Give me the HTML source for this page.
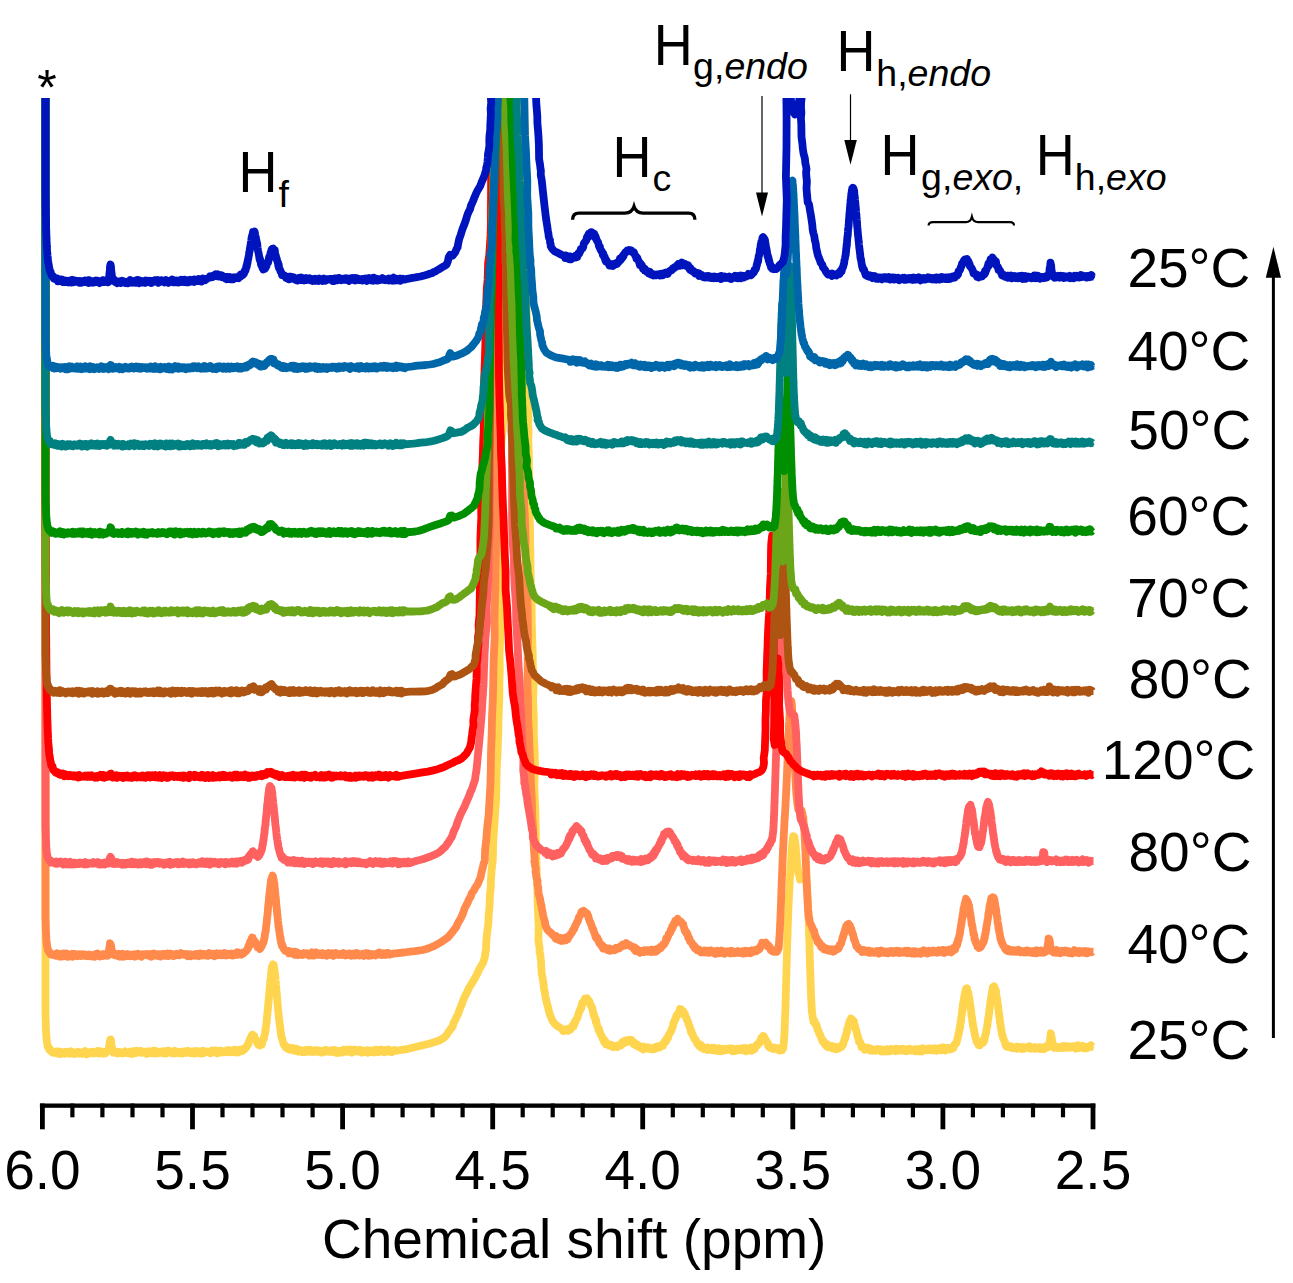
<!DOCTYPE html>
<html><head><meta charset="utf-8"><title>NMR</title>
<style>html,body{margin:0;padding:0;background:#fff;overflow:hidden}svg{display:block}
text{font-family:"Liberation Sans",sans-serif;fill:#000}</style></head>
<body><svg width="1293" height="1283" viewBox="0 0 1293 1283">
<rect width="1293" height="1283" fill="#fff"/>
<defs><clipPath id="cp"><rect x="0" y="98.0" width="1293" height="1185.0"/></clipPath></defs>
<g clip-path="url(#cp)" fill="none" stroke-width="7.8" stroke-linejoin="round" stroke-linecap="butt">
<path d="M45.5 78.0l0 937.4 .1 1.5 0 1.4 .1 2 0 1.2 .1 2.2 0 2.3 0-.1 .1 1.1 0 1.9 .1 1 0 .7 .1 1 .1 2.3 0 1.9 .1-.3 .1 1.8 .1-.1 .2 2.2 .1 1.1 .2 2.4 .2 .7 .3 2.3 .3 .9 .2 .5 .5-.4 .5 2.1 .5 1 .5 .6 .5-.9 .5 1.1 .5-.1 .5 .3 .5 1.6 .5-1.3 .5 .7 .5 .8 .5-1.1 .5 .5 .5 .2 .5 0 .5-.9 .5 1 .5 1 .5-2.1 .5 1.8 .5-.5 .5-.6 .5 2 .5-.9 .5-1.5 .5 1 .5 .4 .5-.6 .5 .7 .5-.5 .5 .5 .5 .6 .5-1.6 .5 .7 .5-.5 .5 .4 .5-.9 .5 .4 .5 .3 .5 .8 .5 .2 .5-1.8 .5 .4 .5 1.1 .5-2 .5 1.1 .5 .3 .5 1 .5-.4 .5-.8 .5 0 .5 .1 .5 1.3 .5-1.4 .5 .1 .5 .4 .5-.3 .5-.1 .5-.7 .5 .9 .5-.4 .5 1.2 .5-.3 .5-.5 .5 .5 .5-.8 .5 1.1 .5-.8 .5 .4 .5-1.4 .5 1.2 .5-1.5 .5-.3 .5 1.3 .5-.4 .5 .8 .5 1.5 .5-2.3 .5 .2 .5 .6 .5 .2 .5-.5 .5 0 .5 .7 .5-.2 .5-1.2 .5 .8 .5 0 .5-.8 .5 1 .5-.8 .5 1.3 .5-.6 .5 0 .5-.6 .5 .4 .5-1.4 .5 .6 .5 1.1 .5-1.8 .5 2.2 .5-2 .5 1.9 .5-1.2 .5 1.2 .5-.5 .5-1.2 .5 2 .5 .2 .5-1.2 .5-.2 .5 .1 .5-.6 .5 1.5 .5-1.3 .5 .3 .5-.7 .5-.1 .5-1.2 .5 .6 .3-2.2 .2-.5 .2-1.8 .1-1.7 .2-1 .2-1.3 .1-.7 .2-1.3 .5-.9 .3-.1 .2 1.9 .2 2.9 .1-.5 .2 .9 .2 2.2 .1 1.9 .2-1.2 .2 2.1 .3 .5 .5 .2 .5 2.3 .5-.4 .5 .2 .5-.6 .5 .9 .5-.7 .5 .4 .5-.8 .5 0 .5 1.9 .5-1.4 .5 .6 .5-.2 .5-.3 .5-.1 .5 .9 .5-.7 .5 .1 .5 .1 .5 .9 .5-.4 .5-.2 .5-.7 .5-.6 .5 1.7 .5 0 .5-.8 .5 .5 .5 .2 .5 0 .5 .1 .5-1 .5 1.4 .5-2 .5 1.6 .5-.3 .5 .3 .5 .7 .5-.3 .5-2 .5-.4 .5 1.9 .5-1.4 .5 .8 .5 .6 .5-1.9 .5-.3 .5 1.8 .5-.2 .5-.2 .5 .2 .5-.7 .5-.5 .5 1 .5-.6 .5-.5 .5 1.6 .5-.4 .5 .3 .5-1 .5 .2 .5-.2 .5 .1 .5 .8 .5-.8 .5 .9 .5 0 .5 1.2 .5-2.5 .5 1.7 .5-.8 .5 .1 .5-1.1 .5 .7 .5 .9 .5-.6 .5 .1 .5-.2 .5 1 .5-.8 .5-1.7 .5 1.1 .5-.9 .5-.2 .5 1.3 .5 1.4 .5-1 .5-.9 .5 .1 .5 1.6 .5-.7 .5-.1 .5-.1 .5 .1 .5 .5 .5-.2 .5-.2 .5-1 .5 1.2 .5-.9 .5 1.3 .5-1.8 .5 .9 .5 .1 .5-1 .5 2.3 .5-.2 .5-1.5 .5 .9 .5-.3 .5-1.9 .5 1.8 .5-.2 .5 .1 .5-.9 .5 .6 .5 .1 .5 1 .5-.6 .5-.3 .5 1.2 .5-1.6 .5 .1 .5-1 .5 2.5 .5-.5 .5 0 .5-.2 .5-.4 .5 .1 .5-.4 .5 0 .5 .2 .5 1.1 .5-.7 .5-.5 .5-.4 .5 0 .5 1.7 .5-.9 .5-.3 .5-.3 .5-.6 .5 .8 .5 .7 .5-1 .5 .1 .5 0 .5 .3 .5-1.3 .5 1 .5-.4 .5 1.3 .5-1.3 .5 1 .5 .7 .5-1.4 .5-.2 .5 .6 .5-.1 .5-.8 .5 1.1 .5 1.2 .5-1.8 .5 .1 .5-.7 .5 1.1 .5-1.2 .5 .1 .5 1.8 .5-1.7 .5 1.5 .5 .3 .5-.9 .5 .2 .5 1 .5-1.6 .5-.3 .5-.6 .5 1.1 .5 1.1 .5-.4 .5-1.5 .5 .1 .5 .2 .5 .6 .5-.3 .5 .3 .5 0 .5-.4 .5 .2 .5 .1 .5-.2 .5 .4 .5 1.1 .5-1 .5-.4 .5-1.3 .5 1.5 .5-1.7 .5 .4 .5 1.6 .5-.1 .5-.6 .5-1.2 .5 1 .5-.3 .5 1 .5 1.2 .5-1.5 .5-.8 .5-.3 .5 .9 .5-.1 .5-.8 .5 1 .5-1 .5 1.7 .5-.1 .5 0 .5-1.1 .5 .7 .5-.5 .5-.2 .5 0 .5-.7 .5-.2 .5 1.7 .5-.8 .5 .3 .5 .6 .5-2.1 .5 .7 .5 .7 .5 .2 .5-.6 .5 1 .5-.6 .5-1.1 .5 .2 .5 1.2 .5-.2 .5-1.8 .5 2.4 .5-.6 .5 .5 .5-1.3 .5 0 .5-.7 .5 2.5 .5-1.9 .5 1.3 .5-1.7 .5 .5 .5-1.4 .5 .9 .5 .9 .5-1.8 .5 1.6 .5-.7 .5-1.2 .5 .2 .5-.3 .5 0 .5-.8 .5-.8 .5-.3 .5-1.3 .5-1 .5-.1 .5-.4 .5-3 .5-.2 .5-1.8 .5-1.5 .5 .2 .5-2.1 .5 .8 .5-2.1 .5 .8 .5-.1 .5 .2 .5 1.9 .5 .5 .5 1.6 .5 .7 .5 .3 .5 1.7 .5 .9 .5 1.4 .5-.8 .5 1.1 .5-1.1 .5 1.9 .5-1.4 .5-.9 .5 .8 .5 .2 .5-2.9 .5-.9 .2-.5 .3-1.1 .3 .3 .2-1.9 .2-1 .3-.2 .3-2.2 .2-.5 .2-2.1 .1-1.2 .2-1.5 .2 1.7 .1-2.9 .2-.8 .2-1.5 .1-1.1 .2-1.5 .2 0 .1-3.7 .2-2 .1-.7 .1-1.5 .2 .4 .1-1.3 .1-2.6 .2-1.6 .1-.5 .1-.1 .1-4 .1 .6 .2-2.6 .1 .2 .1-3 .2-.9 .1-2.3 .1-1.1 .1 .3 .1-1.8 .2-2.4 .1-1.8 .1-2.2 .2-.4 .1-1.1 .1-1.5 .1-1.4 .1-2.1 .2-.6 .1-1.3 .1-.3 .2-.8 .1-2.7 .1-1.7 .2-.9 .1-1.8 .2-1.4 .2-.7 .1-1.8 .2 .3 .2-1.7 .3-.6 .5-1 .5 .3 .3 .7 .2 1.7 .2 .7 .1 1.6 .2 1.1 .2 .2 .1 2.5 .2 .5 .1 1.7 .1 1.4 .2 0 .1 2.9 .1 1.4 .2 1.1 .1 1.2 .1 1.4 .1 1 .1 1.9 .2 1.3 .1 1.9 .1 .5 .2 2.5 .1 1.4 .1 1.3 .1 1.2 .1 2.2 .2-.2 .1 3 .1 1.3 .2 1.4 .1 1.5 .1 .6 .1 1.6 .1 2 .2 1.2 .1 1.1 .1 0 .2 2.7 .1 1.7 .1 1.1 .2 1 .1 .1 .2 3.3 .2 .6 .1-.2 .2 3.2 .2-.1 .1 1.3 .2 1.6 .2 2.6 .1-.2 .2 1.4 .2 2.5 .3 1.2 .3-.1 .2 1 .2 .3 .3 1.3 .3 1.7 .2 .7 .5 1.2 .5 1.7 .5-.4 .5 1.3 .5 1.2 .5 .4 .5 .7 .5-.1 .5-.3 .5 .8 .5-.8 .5-.3 .5 1.8 .5-.3 .5 .4 .5-1.4 .5 1.1 .5-.1 .5-.1 .5-.9 .5 1.5 .5 1 .5-.3 .5-.7 .5 .5 .5 .6 .5-2.1 .5 1.6 .5 .5 .5 .2 .5 .8 .5-.4 .5-.6 .5 0 .5 .4 .5-.9 .5 .4 .5 .7 .5 .8 .5-1.5 .5 .1 .5 .2 .5 .9 .5-1 .5 1.1 .5-1.8 .5 .6 .5 0 .5 .8 .5 .2 .5-1.9 .5 .4 .5 1 .5-.8 .5-.6 .5 1.9 .5-.4 .5 .1 .5-.8 .5 1.2 .5-1 .5 1 .5-1.5 .5 .1 .5 .8 .5-.7 .5 1.1 .5-.3 .5-.9 .5 .7 .5-.3 .5 1 .5-1.2 .5 .2 .5 1.2 .5 .7 .5-.1 .5-1.4 .5 .1 .5 1 .5-1.3 .5-.6 .5 .8 .5 .3 .5-1 .5-.6 .5 .2 .5 1.5 .5-1 .5 .4 .5 .3 .5 .3 .5-.7 .5 .6 .5-1 .5 .4 .5-.5 .5 1.6 .5-.9 .5-.5 .5 .3 .5 .1 .5 .7 .5-1.7 .5 .4 .5 .5 .5 1.9 .5-.9 .5-.8 .5 .6 .5 1 .5-1.7 .5-.1 .5 1.2 .5-.6 .5 .2 .5-.9 .5 1.8 .5-.2 .5-.8 .5 .1 .5-2.1 .5 2 .5-.6 .5 .5 .5 .2 .5-.8 .5-1 .5 1.5 .5-.8 .5 .3 .5-.2 .5 .2 .5-1.4 .5 2.5 .5-.7 .5 .7 .5 .6 .5-1.5 .5-1.3 .5 .7 .5-.3 .5 .5 .5 .5 .5-1.6 .5 1.8 .5-1.4 .5 1.3 .5-.3 .5-.1 .5 .2 .5-.4 .5 0 .5-.8 .5 1.2 .5 1.4 .5 .1 .5-.5 .5-.4 .5-1.1 .5 1.6 .5-1.1 .5 0 .5-.2 .5 .3 .5-.4 .5 .3 .5-.8 .5 .5 .5 2 .5-1.7 .5-.2 .5 .6 .5 .2 .5-1.4 .5 .7 .5 .8 .5-.5 .5-.1 .5 1.1 .5-1.7 .5 .6 .5-.5 .5 1.5 .5-2.5 .5 .9 .5 .1 .5 .9 .5 0 .5 .6 .5-2.3 .5 1.8 .5-.8 .5-.3 .5 .9 .5-1.1 .5-.8 .5 1.2 .5-.8 .5 .6 .5 .8 .5-.1 .5 1 .5-1.3 .5-1 .5 .5 .5-.1 .5-.2 .5 1.2 .5-.8 .5-1 .5 2 .5-.6 .5 .4 .5-.2 .5 .4 .5-.5 .5 .9 .5-.6 .5 0 .5 0 .5-1.4 .5 1 .5-.1 3.4-.4 2.8-.6 4-.5 3.2-.7 3.8-1 5.1-1.2 6.4-1.4 6.2-1.6 5.6-1.7 4.8-1.8 3-1.9 2.6-2.1 1.4-2.2 1.6-2.3 1.8-2.5 2.1-2.7 .6-2.9 1.6-3 1.3-3.1 1.9-3.3 1-3.4 1.5-3.7 1.5-3.7 1.3-3.8 1.7-3.7 2-3.7 1.6-3.8 2.3-3.7 2.4-3.8 2.1-3.7 1.9-3.7 1.5-3.7 2.2-3.6 2-3.7 1.2-3.7 .7-3.3 .3-2.9 .7-3.1 0-4 .3-5.3 .7-7.1 1.2-8.6 .4-9.3 .9-9.7 .3-9.3 .9-8.8 .2-8.5 .6-8.8 1.2-9.5 .2-10.4 .4-11.5 .9-12.2 .8-12.9 1-13.8 .3-14.6 .3-15.8 .9-17.1 .6-17.6 .4-17.6 .7-16.9 .1-15.9 .4-15.5 -.3-15.2 .6-15.5 .4-15.9 -.3-16.6 -.1-16.9 -.1-17.2 .4-17.2 -.6-17.1 .3-17.7 .2-18.3 .3-18 -.1-16.7 .6-14.3 .3-10.2 .8-6.9 .6-6 .4-7.7 .8-12.2 .6-17.7 -.1-21.6 .4-23.6 .5-23.8 -.2-22.3 .7-20.5 0-20.1 .8-19.7 .6-19.7 .2-20 -.3-21.6 .5-23 0-22.4 .2-19.8 .5-15.2 -.9-9.6 .1-5.3 -.7-2.5 .4-1.2 .7-1.4 2.3 0 3.8 0 4.1 0 3.4 0 2.5 0 .8 1.4 -.4 1.2 .4 2.5 -.6 5.3 -.3 9.6 .2 15.2 .6 19.8 -.1 22.4 .3 23 .5 21.6 .5 20 -.4 19.7 .8 19.7 -.3 20.1 .1 20.5 .9 22.5 0 24.2 0 23.9 .6 21.4 .5 17 .2 10.2 -.3 5 .3 2.9 .1 4.2 -.2 8.7 .5 14.2 .2 17.5 .2 19.3 .3 19.9 .5 19.1 .3 18.5 .2 18.8 .4 18.8 .7 18.4 .2 17.5 .4 16.4 .5 15.5 .1 15.1 .8 15.2 -.5 15.8 .7 16.9 0 17.6 .9 17.6 .2 17.1 -.6 15.8 .5 13.9 .6 12.3 .2 12 .2 12.5 .2 14.3 .6 17.5 .7 20.1 .5 20.3 .9 18.3 -.3 13.8 1.2 8.3 0 4.3 .8 2 0 1.4 .2 2.6 .6 3.7 0 3.7 .3 3.6 .1 3.7 .8 3.7 .6 3.7 .6 3.8 .3 3.7 .9 3.8 .4 3.7 .8 3.8 1 4 1.1 3.8 .7 3.6 .9 3.1 .9 2.5 1 2.1 .6 1.8 1.4 1.6 .8 1.5 1.5 1.4 1.2 1.1 1.9 1 1.6 1 1.3 1 .6 .6 .5 1.4 .5-.4 .5-1 .5 .4 .5 .8 .5-.2 .5 .1 .5-.2 .5-1.1 .5 1.1 .5-1.6 .5 1.8 .5-1.1 .5-.2 .5 0 .5 0 .5-1.8 .5-.7 .5-.1 .5-1.4 .5 .1 .5 1.1 .5-2.9 .5 .3 .5-2.5 .5 .2 .5-1.6 .5-1 .5-.7 .5-.4 .5-2.5 .5-1.4 .5-2.1 .5-.2 .5-2 .5-.5 .5-2 .5 .1 .5-4 .5 .1 .5-.2 .5-1.8 .5-1.2 .5-.3 .5-1.4 .5 .7 .5 1.4 .5-.9 .5-1.6 .5 .5 .5 .8 .5 1.7 .5-.5 .5 1 .5 2.3 .5 1.1 .5 .4 .5 .9 .5 1.1 .2 1.4 .3-.3 .3 3 .2-.3 .2 1.7 .3 1.8 .3 .3 .2-.9 .2 2.3 .3 1.1 .3-.6 .2 .6 .2 1.5 .3-.3 .3 3.1 .2-2 .2 1.7 .3 1.4 .3 .8 .2 1 .5 1.6 .5 1.1 .5 2.4 .5-1.1 .5 2.9 .5 .7 .5 1.7 .5 1.2 .5 .2 .5 1.1 .5 2 .5 .5 .5 0 .5 2.8 .5 .8 .5-2.2 .5 1.9 .5 2 .5-.6 .5 0 .5 0 .5 .1 .5 .6 .5 0 .5 1.3 .5-.7 .5 .2 .5-.4 .5 1 .5-.5 .5 .7 .5 1 .5-.5 .5 .2 .5-.1 .5-.2 .5-.2 .5-.2 .5 .8 .5-1.5 .5 1.7 .5-1.1 .5-.7 .5 0 .5-.4 .5 .4 .5-.9 .5 1.1 .5-1.8 .5-1.4 .5 .7 .5-1.3 .5 1.1 .5 .4 .5-.7 .5-1.8 .5 0 .5 1.6 .5-1.4 .5-.5 .5 .6 .5 .7 .5-.8 .5-.9 .5 .3 .5 .3 .5-.7 .5-.1 .5 1.1 .5-.4 .5 1.1 .5 .5 .5 2.1 .5-1.9 .5 1 .5 .4 .5 .9 .5 .8 .5-.7 .5 .1 .5-.2 .5 .8 .5 1.4 .5-.1 .5-.5 .5 .7 .5 .5 .5 .6 .5-.7 .5 .4 .5-1 .5 .6 .5 2.2 .5-2.8 .5 1.4 .5 .5 .5-.4 .5-.3 .5 .6 .5 .1 .5-.1 .5-1.3 .5 1.3 .5-.5 .5 .2 .5 .6 .5 .3 .5 .2 .5-1.1 .5 1 .5 .2 .5-.1 .5 .1 .5-1.2 .5-.1 .5 .7 .5-1.7 .5 1.1 .5-.7 .5 0 .5-1.2 .5 .5 .5 .5 .5 .4 .5-.1 .5-1.1 .5-.3 .5-.8 .5 .6 .5-.9 .5 .2 .5 .4 .5-1.8 .5-1.7 .5-.1 .5-1.1 .5-.5 .5 1.1 .5-1.6 .5-2.1 .5 .7 .5-.5 .5-2.3 .5-1.3 .5-.8 .5-.7 .5-1 .5-.8 .5-1.3 .5-1.3 .5-1.2 .5-1.9 .5-3 .5-.3 .5-1 .5-1.8 .5-.3 .5-2.2 .5-1.6 .5 .7 .5-1.6 .5-1.2 .5-.3 .5-.5 .5-1.1 .5-2.3 .5 .9 .5 .1 .5-.3 .5 1.1 .5 1.2 .5-.8 .5 .2 .5 3.2 .5-1 .5 .5 .5 2.2 .5 1.3 .5 .4 .5 2.4 .5 .3 .5 1 .5 2.2 .5 1.8 .5 .3 .5 2.1 .5 1 .5 3 .5-1 .5 2.8 .5 .1 .5 1.1 .5 1.7 .5 1.1 .5 1.3 .5 .2 .5 .2 .5 .8 .5 1.6 .5 .7 .5 1.3 .5-.1 .5 1 .5 .9 .5-.6 .5-.8 .5 .6 .5 .2 .5 2.6 .5-1.6 .5 1.9 .5-.3 .5 1.1 .5-.4 .5-.6 .5 .1 .5 .3 .5 .2 .5-.4 .5 .5 .5 1.3 .5-2.4 .5 1.5 .5-.8 .5 .9 .5 .6 .5-.6 .5 .6 .5-1.7 .5 2.1 .5-1.3 .5 1 .5-.3 .5-1.8 .5 1.1 .5 .8 .5 1 .5-.9 .5 0 .5-1.2 .5 2.1 .5 .3 .5-1.3 .5-.2 .5-1 .5 1.9 .5 1 .5-1.1 .5 .4 .5-.5 .5-1.1 .5 1.7 .5-1.9 .5 .8 .5 .3 .5 .5 .5-.3 .5 0 .5-.9 .5-.4 .5 1 .5-.5 .5-.5 .5 .1 .5 .5 .5-1 .5 .4 .5-.2 .5 1.4 .5 .1 .5 1.2 .5-2.6 .5 .6 .5 1.2 .5-.8 .5-.1 .5 1.5 .5-1.5 .5-.6 .5-.2 .5 1.3 .5-.1 .5-1.2 .5 .3 .5 1.1 .5 0 .5-.9 .5 .9 .5 0 .5-1.8 .5 1.1 .5 .6 .5-.8 .5-1.2 .5 1.4 .5 .7 .5 .6 .5-2.8 .5 3.3 .5-2.6 .5 1.6 .5 .1 .5-.2 .5-.6 .5-1.1 .5 1.3 .5-1 .5-1.2 .5 3.2 .5-1.2 .5 .7 .5-2.2 .5 1.6 .5-.2 .5-.3 .5-1.5 .5-1.2 .5 .3 .5-2 .5-.3 .5 .7 .5-1.6 .5-.2 .5-.8 .5 .6 .5-1.5 .5-1.9 .5 0 .5-2.2 .5-.3 .5 .5 .5-1.7 .5 .8 .5-.4 .5 1.7 .5 1.9 .5-.9 .5 1.7 .5 .1 .5 .7 .5 .8 .5 2.9 .5 1.3 .5-.7 .5-.3 .5 1.6 .5-.3 .5 1.2 .5-.1 .5 .3 .5 .4 .5-.7 .5 .3 .5-.9 .5 1 .5-.6 .5 1 .5-.6 .5 .8 .5 .3 .5-1.3 .5 .4 .5-.1 .5 1.3 .5 .7 .5-.6 .5-.9 .5 1.4 .5-2.3 .5 2.2 .5-2 .5-2.1 .2 2.3 .3-2 .1-2.9 .2-.2 .1-1.6 .1-1.3 .1-2.3 .1-.6 0-.5 .1-1.6 .1-.7 .1-2.5 .1 .3 0-3.5 .1-.7 .1-3.1 0-1 .1 .4 0-3.4 .1-.5 0-1.7 .1-2 0-.8 .1-1.5 0-1.3 .1-.5 0-1.4 .1-2.4 0-1.7 .1-.5 0-1.8 0-.6 .1-.5 0-2.4 .1-2.1 0-1.5 .1-2 0-1.5 0-1.5 .1-1 0-1.5 .1-.6 0-2.4 0-1.2 .1-2.2 0 .8 .1-2.3 0-.4 0-2.2 .1-.9 0-2.7 0-.7 .1-.3 0-3.9 .1 .3 0-1 0-2.4 .1-1.3 0-1.1 .1-3 0-.7 .1-2.5 0-1.3 0-1.4 .1-1.2 0-1.2 .1-1.2 0-2.9 0 1.1 .1-2 0-1.8 .1-2.2 0-1.2 0-.9 .1-1.5 0-3 .1 .5 0-.2 .1-4.5 0 .9 .1-2 0-2 0-.4 .1-3.4 .1-.5 0-.5 0-2.7 .1-1.6 .1-1 0-1.9 .1 0 0-3.4 .1-.1 0-3.1 .1 .1 0-2.1 .1-2.9 0 .2 .1-2.1 .1-1.1 0 .1 .1-3.5 .1-1.4 0 .5 .1-2.4 0-.3 .1-2.2 .1-2.5 0-.8 .1-.5 .1-1.6 .1-2.2 0-1.3 .1-1.5 .1-1.7 0 .6 .1-2.8 .1-2.2 .1-.8 0-.3 .1-1.3 .1-2.1 .1-1.8 0-.9 .1-2.7 .1-1.1 .1 .3 .1-2.3 .1-.7 .1-.7 0-1.7 .1-1.7 .1 .3 .1-2.6 .1-2.2 .1-.6 .1-1.7 .1-2.3 .1-.6 .1-1.5 .1-2.7 .1 .2 .1-1.3 .1-1.5 .1-2.2 .2-.3 .1-.9 .2-1.3 .1-2.1 .2 .3 .2-2.6 .3 .1 .5 1.1 .2-.9 .3 1.3 .2 2.2 .1-.1 .2 1.4 .2 1.8 .1 2.1 .2-.9 .1 2.3 .2 1.1 .1 1.3 .1 1.5 .1 1.4 .1 2.2 .2 .4 .1 2.1 .1 1.6 .2 .4 .1 2 .1 2.4 .1 .2 .1 .4 .2 1.6 .1 .4 .2 2.3 .1 1.8 .2-.1 .2 1.6 .1 2 .2-.3 .3 1.7 .2 .1 .2 1 .3 .9 .5 2.9 .5-1.5 .5 0 .5-.3 .5-.1 .5 .1 .5-.8 .5 .9 .5-1.7 .5 .9 .5-.4 .5 1.3 .3-.6 .2 2.2 .2 1.1 .1 1 .2-.1 .1 3.4 .2 .3 .1 1.3 .1 1.6 .1 1.3 .1 1.8 .1 .2 .1 1.8 .1 2.5 .1 1.1 0 .9 .1 1.2 .1 1.2 .1 2 0 2.4 .1-.2 .1 3.1 0 .8 .1 .3 0 2.2 .1-.3 0 1.1 .1 1.8 0 2 .1 1.5 .1 1.2 0 1.8 0-.3 .1 3.4 .1 0 0 2 0 1.6 .1 1 .1 1.3 0 1.8 0 2.1 .1 1.9 0 1.4 .1 .2 0 1.6 .1 1.4 0 2.4 .1-.4 0 4 .1 .2 0 1.2 0 2.2 .1 1.9 0 .9 .1 1.9 0 .7 .1 2.2 0 1.4 0 .4 .1 2.5 0 .4 .1 1.4 0 .6 0 2 .1 2.2 .1 2.9 0 1.2 .1 1.4 0-.4 .1 3 0 2 .1 .3 0 2.1 .1-.3 0 3.7 0 .4 .1 2.6 .1-.6 0 3.3 0 .6 .1 2.2 .1 0 0 1.5 .1 3.6 0-.8 .1 1.6 0 1.7 .1 .8 .1 2.9 0 1.7 .1-.7 .1 .7 .1 3.6 .1 1.3 0 .9 .1 1.4 .1-.5 .2 2.3 .1 .6 .2 1.2 .3 3.1 .2-.3 .5 3.3 .5-.9 .5 .2 .5 1.9 .5 1.8 .5 .2 .5 0 .5 2.5 .5 2.2 .5 0 .5 1.2 .5 2.7 .5 .6 .5 .3 .5 1.8 .5 .8 .5 1.9 .5 .8 .5 1.7 .5 .5 .5-.9 .5 2.2 .5 1 .5 .2 .5 .9 .5-.7 .5 .1 .5 1.8 .5-1.2 .5-.5 .5 2.6 .5-1.1 .5 .5 .5-.6 .5 .2 .5 .2 .5 .8 .5 .6 .5-1.8 .5 2.2 .5-1.3 .5 .1 .5 1.3 .5-.5 .5-1.1 .5 2.5 .5-2 .5 .8 .5-.1 .5 .8 .5-1.5 .5 .9 .5-1.5 .5 1.1 .5-1.8 .5-.1 .5 1.1 .5-1.8 .5-.9 .5 .7 .5-2.4 .5-2 .5-.2 .5-2.8 .2 .9 .3-.7 .3-2.2 .2-.9 .2-.2 .3-1.1 .3-1.6 .2 .2 .2-2.9 .3 .2 .3-.9 .2-.8 .2-.5 .3-2.1 .3 .5 .2-1.5 .2-1.1 .3-1.4 .5-1.2 .5 .1 .5-1.8 .5 .3 .5 .8 .5 .3 .5 1.1 .5-.3 .5 .8 .2 2.3 .3 .3 .3 1.5 .2 0 .2 1.8 .3 .7 .3 .9 .2 .8 .2 .9 .3 .8 .3 1 .2 1.5 .2-.2 .3 2.6 .3-.5 .2 1.7 .2 0 .3 .7 .5 3.2 .5-.4 .5 .5 .5 1.5 .5 1.2 .5 2.7 .5-.8 .5 1.1 .5-.9 .5 1.4 .5 .6 .5 1.1 .5-1.6 .5 1.1 .5 0 .5-.9 .5 .9 .5-.1 .5-1.4 .5 2.1 .5 .1 .5-.7 .5-.7 .5 2.2 .5-.9 .5 .6 .5 .3 .5-1.4 .5 1.1 .5-.8 .5 .1 .5 0 .5 .1 .5 .9 .5-.7 .5-.2 .5-.1 .5 .5 .5-.9 .5 .3 .5 .3 .5-.4 .5 .4 .5-.4 .5 2 .5-.5 .5-.6 .5-.4 .5 1.7 .5-1.4 .5-.3 .5 .3 .5 0 .5 .8 .5-1 .5 1.6 .5-2.3 .5 1.2 .5-1.2 .5 2.1 .5-1.6 .5 .2 .5 .7 .5 .3 .5-1.8 .5 .6 .5-.8 .5 1.2 .5-.2 .5-.2 .5-.3 .5 .3 .5-.3 .5 1 .5 .7 .5-2.6 .5 1.4 .5-.2 .5 .6 .5-1 .5 .6 .5-.7 .5 1.3 .5-.4 .5-.2 .5 .4 .5-.5 .5-1 .5 1.6 .5-.2 .5-.3 .5 .8 .5 .2 .5-1.7 .5 .2 .5 1.8 .5-.1 .5-1.7 .5-.3 .5 .4 .5 .1 .5-.8 .5 1.2 .5-1 .5 .1 .5 1.6 .5-1.3 .5 .5 .5 .5 .5 .1 .5-.8 .5 .2 .5-.6 .5 1.9 .5-.8 .5-1.4 .5 .9 .5 .5 .5-.2 .5 1 .5-.3 .5-1.5 .5 .3 .5-.9 .5 1.2 .5-.1 .5 1.5 .5-1.6 .5-1.6 .5 1 .5 .6 .5-1 .5 .2 .5 .4 .5 .5 .5-.4 .5-.5 .5 1.2 .5-1 .5 0 .5-.7 .5 .5 .5 1 .5-1.7 .5 1.2 .5 .5 .5-.8 .5 .5 .5-1.1 .5 1.8 .5-.2 .5-.6 .5-1.5 .5 .5 .5 1.5 .5 .5 .5-1.1 .5 .7 .5-1.4 .5 .3 .5 .1 .5 .3 .5-1.5 .5 1.8 .5 .3 .5-1.9 .5-.2 .5 1.3 .5-.8 .5-1.2 .5 2.2 .5-.5 .5-.5 .5 1.9 .5-1.6 .5-.7 .5 .6 .5-.9 .5 .1 .5 .8 .5-.8 .5 0 .5 1.5 .5-.7 .5-.2 .5-.4 .5-.2 .5 .5 .5-1.4 .5 1 .5-2.6 .5 0 .5-1.5 .5-.1 .5-.3 .5-.5 .5-3 .2-.3 .3-1.1 .3-1.2 .2-1.4 .2-.1 .3-2.4 .3 .1 .2-1.3 .2-1.8 .3-1.7 .2-1.3 .1 1.5 .2-3.5 .2 1.2 .1-1.8 .2-1.9 .2-1.7 .1 .5 .2-.7 .2-3.2 .1-.7 .2-.2 .2-1.8 .1 0 .2-3.1 .2-.5 .1-2.6 .2 1.3 .2-3.4 .1-2.3 .2 .3 .2-1.2 .1 .3 .2-2.8 .2-.9 .1-.7 .2-.3 .2-2.8 .3-.6 .3-1.7 .2-1.8 .2-.7 .3-.9 .5-2 .5 1 .5-1.7 .5 2.8 .3 .6 .2 .1 .2 .5 .3 1.6 .3 1.9 .2 1.6 .2 .7 .1 1.5 .2 0 .2 1.7 .1-.2 .2 2.9 .2 .7 .1 .8 .2 2.4 .2 .9 .1-1 .2 3 .2 .1 .1 3.1 .2 2.1 .2-.8 .1 1.6 .2 1 .2 1.6 .1 1.4 .2 1.6 .2-.6 .1 3 .2-.8 .2 2 .1 1.6 .2 .7 .3 .2 .2 1.5 .2 1.5 .3 1.5 .3 2 .2-.7 .2 2.3 .3 1 .3 .9 .2 .7 .5 2.2 .5 .4 .5 1.2 .5 .6 .5 1.5 .5-2.4 .5 2.7 .5-1 .5-.1 .5-.6 .5-1 .5 .7 .5-.8 .5 .1 .5-2.4 .5 1 .5-2.3 .3-1.2 .2-1.3 .2-1 .3-1.2 .3-.7 .2-.7 .2-1.4 .3-2.2 .3-.6 .2-1.9 .2-.2 .1 .2 .2-2 .2-1.8 .1-2.1 .2-.9 .2-1.4 .1 .6 .2-2.3 .2-.6 .1-1.8 .2-.7 .2-.3 .1-2.9 .2-1 .2-1.6 .1 0 .2-2.8 .2-1.3 .1-1.5 .2-1.2 .2 .2 .1 .1 .2-3.6 .2 .3 .1-1.6 .2-2.1 .3-.9 .2-1.4 .2-1.6 .3 .8 .3-3.9 .2 .9 .5-1.2 .5-1 .5 .9 .5 1.7 .2 .3 .3 1.2 .3 1.4 .2-.8 .2 4.1 .3 2 .2 .2 .1 1.1 .2-.6 .2 2.1 .1 .7 .2 1.4 .2 2.4 .1 0 .2 1.8 .2-.1 .1 2.6 .2 1.5 .2 .7 .1 1.3 .2 3.2 .2-1 .1 1.3 .2 1.5 .2 2.7 .1 1.9 .2-.2 .2 .4 .1 1.3 .2 2.2 .2-.4 .1 2.9 .2 .9 .2 .5 .3 1.8 .3 1.4 .2 1.9 .2-.8 .3 2.8 .3-.1 .2 .6 .2 1.6 .3 .6 .5 .9 .5 .8 .5 1.5 .5 2.7 .5 1.1 .5-.4 .5 .9 .5-.9 .5 .6 .5 .5 .5-.8 .5 .2 .5 1 .5-.2 .5-.5 .5 1.1 .5-.4 .5 1 .5-.7 .5-.2 .5 .4 .5-.2 .5-.3 .5 .2 .5 .9 .5-.1 .5 .5 .5-2.2 .5 1 .5 0 .5 .4 .5-.4 .5-.1 .5 1 .5-.4 .5-1 .5 1.9 .5-.3 .5-1.2 .5 1.1 .5-1.2 .5 1.4 .5-1 .5-.4 .5 .3 .5-.3 .5 .7 .5 0 .5-.1 .5-.4 .5-1.3 .5 1.7 .5-1.5 .5 1.6 .5 .7 .5-.6 .5-.6 .5 .2 .5 0 .5-.3 .5 0 .5-.3 .5 1.6 .5-.9 .5 .7 .5-.9 .5 .2 .5-.2 .5 .5 .5 .3 .5-.5 .5-.7 .5-.1 .5 1.8 .5-1.4 .5 0 .5 1.3 .5-.3 .5-.5 .5-.7 .5 1.9 .5-1.4 .5 .1 .5-.5 .5-1 .5 0 .5 1.2 .5-.1 .5-.7 .5-1.3 .5-1.3 .2-.2 .3-2.1 .2 .7 .1-.9 .2-.4 .2-2.2 .1-2.3 .2-1.3 .3-2.2 .2 .8 .2 .8 .3 2 .2 .8 .1 1.1 .2 1 .2 1.5 .1 1.7 .2-.9 .3 1.8 .2 .2 .5 3.4 .5 .3 .5-.2 .5-1.3 .5 1 .5-.2 .5 .2 .5-.2 .5 .6 .5-.7 .5 1 .5-.5 .5-.4 .5 .1 .5-.2 .5 .9 .5-.8 .5 .4 .5-.5 .5-.8 .5 1.7 .5-1.4 .5 1.3 .5-.2 .5-1.6 .5 .5 .5 .3 .5-.2 .5-.3 .5 1.4 .5-.7 .5 .5 .5-.7 .5 .6 .5-.8 .5 .5 .5 .4 .5-.4 .5-.4 .5-.4 .5 .9 .5 .1 .5-.4 .5-.4 .5 .9 .5 1.3 .5-1.9 .5 .4 .5 .1 .5-2 .5 1.8 .5-.7 .5 1.6 .5-1.2 .5-.4 .5 .4 .5 .3 .5-.6 .5 .4 .5-1 .5 .9 .5 .7 .5 .9 .5-.9 .5-.4 .5 .7 .5-.1 .5 .5 .5-.5 .5-.9 .5 .3 .5 0 .5 0 .5 0 .5-.8 .5-1 .5 1.1 .5 .5 .5 0 .5 0 .5 0" stroke="#FFD54F"/>
<path d="M45.5 78.0l0 840.2 .1 1.4 0 3 .1 1.8 0-.7 .1 3.1 0 .9 0 1.3 .1 1.5 0-.1 .1 1.1 0 .8 .1 1.8 .1 2.1 0 .4 .1 1.5 .1 2.3 .1 .6 .2 2.1 .1-.3 .2 2 .2 1.7 .3 1.6 .3 .5 .2 1.9 .5 .4 .5 .9 .5 .6 .5 1 .5-.5 .5 1.5 .5-.3 .5 0 .5 .1 .5 .5 .5 .5 .5 0 .5-.3 .5 .4 .5-.5 .5 .9 .5-.9 .5-1.5 .5 2.6 .5-.9 .5-.9 .5 .7 .5-.5 .5 2.3 .5-1.2 .5-1.5 .5 1.6 .5-.7 .5 1.7 .5-2.2 .5-.8 .5 1.7 .5-.3 .5-.1 .5-1.3 .5 2 .5 .9 .5-2.7 .5 2.4 .5-1.3 .5 2 .5-1.3 .5-.4 .5 .9 .5-.4 .5-.8 .5 .9 .5-.9 .5-.9 .5 2.8 .5-1.7 .5-.2 .5 .7 .5-1.5 .5 .2 .5 .6 .5 0 .5 .5 .5 .8 .5-1.2 .5 .7 .5 .1 .5-1.3 .5 1 .5-.9 .5 1.5 .5-.4 .5-.4 .5-1 .5 1.1 .5-.7 .5 1.1 .5-.6 .5-.5 .5 1.3 .5-.1 .5-1 .5 1.3 .5-1.1 .5 0 .5 .3 .5-.7 .5 .3 .5 .2 .5 1.3 .5-.1 .5-1.3 .5 1.4 .5-1.2 .5 .3 .5 .4 .5-.5 .5 1.4 .5-1.4 .5-1.1 .5 1.9 .5-1.3 .5 0 .5-1.4 .5 2.4 .5-.1 .5 0 .5 .1 .5 .5 .5-1.3 .5 .7 .5-1.2 .5 .3 .5 1 .5-.5 .5-1.3 .5 1.2 .5-.4 .5-.5 .5 .9 .5-.7 .5-.9 .5 .2 .5 1.9 .5-3 .5 0 .3-.7 .2-1.2 .2-2.4 .1-.4 .2-.8 .2-.6 .1-2.2 .2-1.2 .5 .7 .3 .8 .2 .7 .2 .3 .1 1.9 .2 .9 .3 2.1 .2-.2 .2 2.1 .3 .5 .5 .3 .5 1.4 .5 0 .5-.2 .5 .6 .5-1.3 .5 1 .5 .4 .5-.1 .5 .6 .5-1.7 .5-.2 .5 1.3 .5 .2 .5 1.3 .5-1.2 .5-1.1 .5 1.3 .5-1.3 .5-.4 .5 2.7 .5-1.4 .5 .3 .5-.1 .5 .9 .5-1.1 .5 .7 .5-1.7 .5-.3 .5 2.2 .5 0 .5-.7 .5-.3 .5 0 .5-.6 .5 1.6 .5-.6 .5-.1 .5-.1 .5 .5 .5-.5 .5 .2 .5-1.4 .5 1.2 .5 1.3 .5-2 .5 .3 .5 .7 .5 .1 .5-.3 .5-1.7 .5 1.6 .5-1.2 .5 .2 .5 1.1 .5-.7 .5 .8 .5 1.1 .5-1.1 .5 0 .5-1.2 .5 .2 .5-.4 .5 .4 .5-.4 .5 .3 .5 .4 .5-.6 .5-.3 .5 0 .5 1.4 .5-.3 .5 .7 .5 0 .5-1 .5 .7 .5-1.6 .5 2.8 .5-.8 .5-1.1 .5-.7 .5 1.2 .5-1.7 .5 .8 .5 1.1 .5-.5 .5-.4 .5 1.1 .5-1.5 .5 1 .5-.6 .5-.3 .5 1 .5-1.1 .5 2.2 .5-1.9 .5 2 .5-2.4 .5 1.3 .5-1.3 .5-.2 .5 1.2 .5 .4 .5-1.5 .5 1.8 .5-1.5 .5 .7 .5 .2 .5 .2 .5-1.8 .5 2.5 .5-.8 .5-.7 .5-.4 .5-.6 .5 .3 .5 1.4 .5-.6 .5-.6 .5 .4 .5 1.6 .5-1.4 .5-.2 .5 1.4 .5-.7 .5-.3 .5-.5 .5-.7 .5 .3 .5 .5 .5 .2 .5 .4 .5 .2 .5-.3 .5 0 .5-.9 .5-.9 .5 1.3 .5-.4 .5 .3 .5 .2 .5-.7 .5 .1 .5 .8 .5 .1 .5-.6 .5 .9 .5-.5 .5-.6 .5 .7 .5 1.4 .5-1.9 .5 1.4 .5 .1 .5 .1 .5-1.7 .5 2.1 .5-1.4 .5-.3 .5 0 .5 .6 .5-.4 .5-.2 .5 1.1 .5-1.5 .5-.2 .5 1.4 .5-.1 .5 .3 .5-1.7 .5 1.7 .5-.5 .5 1 .5-2.3 .5 1.1 .5-.4 .5-1 .5 .7 .5 1.4 .5-1.2 .5-.2 .5 1.1 .5 .1 .5 0 .5-1.3 .5 .5 .5 .8 .5-1.2 .5-.1 .5 1.2 .5 .5 .5-2 .5-.8 .5 .6 .5 .3 .5 .6 .5 .6 .5-.6 .5-.4 .5 .6 .5-.8 .5 .7 .5-.5 .5 2.1 .5-1 .5-1.3 .5-.1 .5 .4 .5-.9 .5 .7 .5 0 .5 1.2 .5-1 .5-.3 .5-.4 .5 .1 .5 .8 .5-.1 .5 1 .5-1.3 .5 1.2 .5-.6 .5-.2 .5-1.5 .5 .5 .5 1.5 .5 .5 .5-.9 .5 .4 .5-.9 .5 0 .5-.2 .5 1.2 .5-.5 .5-.4 .5-.1 .5 .6 .5-.2 .5-.9 .5 1.9 .5-1.1 .5-.2 .5 1.1 .5-.4 .5-.9 .5 .5 .5-1.2 .5 .2 .5-1.2 .5 2.6 .5-2.4 .5 1.9 .5-1.2 .5-.2 .5 .6 .5 .2 .5 .2 .5 .8 .5-1.2 .5 .3 .5-1.2 .5 .8 .5-.7 .5-.7 .5-.1 .5-.3 .5-.3 .5-.5 .5-1.4 .5-1 .5 .2 .5-2.9 .5-.3 .5 .4 .5-4 .5-.1 .5 0 .5-2.7 .5 2.2 .5-3.7 .5 2.6 .5 .4 .5 .1 .5 0 .5 1.4 .5 .1 .5 2.3 .5-.5 .5 1.5 .5 1.8 .5-1 .5 1.1 .5 .7 .5-1 .5 1.9 .5-.8 .5-1.8 .5 .5 .5-1.4 .5-1.1 .5-.8 .2-1.4 .3 .4 .3-2.3 .2 .2 .2-1.9 .3-.6 .3-2.4 .2-1.4 .2-1.5 .1 .2 .2-.9 .2-.3 .1-1.8 .2-2.1 .2-1.6 .1-.9 .2-1.7 .2-.3 .1-1.9 .2-2.9 .1-1 .1 .3 .2-2 .1-1.6 .1-.2 .2-2.4 .1-1.2 .1-1.4 .1-2.4 .1 .8 .2-2.8 .1-.8 .1-1.5 .2-.2 .1-1.9 .1-1.2 .1-2.6 .1-.1 .2-2.3 .1 .1 .1-1.2 .2-1.5 .1 .3 .1-2.3 .2-1.4 .1-1.8 .2-1.6 .2-.4 .1-1.1 .2-2.9 .2 .3 .3-1.6 .3-.6 .2-1 .5-1.7 .5 .9 .2 3.2 .3 0 .2-.4 .1 2.4 .2 .6 .2 .1 .1 1 .2 1.9 .1 2.5 .2 .8 .1 1.1 .1 1.5 .1 1.5 .1-.8 .2 2.6 .1 .9 .1 1 .2 1.8 .1 1.6 .1 1.2 .1 .4 .1 2 .2 3.2 .1-1 .1 .9 .2 2.7 .1 1.6 .1 1.1 .1 .1 .1 2.8 .2-.1 .1 1 .1 1.6 .2 1.5 .1 1.8 .1 1.1 .2 1 .1 2.1 .2 .8 .2 2 .1-.4 .2 1.1 .2 3 .1-.5 .2 2 .2 1.2 .1 .8 .2 1 .2 2.8 .3-1.4 .3 3.5 .2 2.1 .2-.6 .3 .9 .3 1.5 .2 1.6 .5-.9 .5 2.1 .5 .8 .5 1.3 .5 .4 .5 .9 .5-.4 .5 .7 .5-.3 .5 .3 .5 .6 .5 .2 .5-.6 .5 2.2 .5-1.2 .5-.8 .5 2 .5-1.3 .5 1 .5-.3 .5 .3 .5 0 .5-.5 .5 .5 .5 1.6 .5-3.1 .5 1.7 .5 .4 .5-1.1 .5-.2 .5 2.7 .5-1.9 .5 1.9 .5-1.1 .5-.3 .5 .3 .5 .1 .5 .5 .5-.6 .5-.2 .5 .1 .5 .9 .5-.4 .5-1.3 .5 .3 .5 .7 .5-.7 .5 .2 .5-.4 .5 .5 .5 .6 .5 .4 .5-.7 .5 1.5 .5-1.6 .5 1.7 .5-.8 .5-.4 .5-.7 .5-1.3 .5 1.5 .5 .3 .5 1.3 .5-2.5 .5 2.5 .5-1.6 .5 .7 .5-2.2 .5 1.8 .5-.3 .5 .7 .5-.4 .5-.9 .5 1.5 .5-.1 .5-.1 .5 .3 .5 .1 .5-.9 .5-1 .5 0 .5 2.1 .5-.5 .5-.4 .5-.4 .5 .3 .5 0 .5-.3 .5-.2 .5 2.1 .5-1.4 .5-.7 .5-.5 .5 .5 .5 1 .5 .1 .5-.8 .5 .2 .5-.2 .5-.6 .5 1.8 .5-.7 .5 1.4 .5-2.3 .5 .5 .5 .8 .5-.9 .5-.8 .5 .3 .5 .8 .5 .2 .5-.3 .5 .8 .5 0 .5-.5 .5-.3 .5-.2 .5 .6 .5 .3 .5-.6 .5 .3 .5-.6 .5-.8 .5 .3 .5 1.3 .5-.2 .5 .8 .5-1.1 .5 .6 .5 .3 .5-.2 .5-1.2 .5 .3 .5 .2 .5-.8 .5 1.1 .5 .4 .5-1.1 .5 1.8 .5-1.7 .5 .1 .5-.1 .5-.3 .5 .8 .5-.3 .5 1.3 .5-.8 .5-.1 .5-.5 .5-.9 .5 1 .5-.6 .5 1.3 .5-.7 .5 1.3 .5-.7 .5 0 .5-.4 .5 0 .5 .3 .5 .2 .5-1.2 .5 .9 .5 1.3 .5-1.8 .5-.1 .5-.3 .5-.6 .5 2 .5-.9 .5 .2 .5 1.2 .5 .2 .5-2.3 .5 1.5 .5-.3 .5-.2 .5 .1 .5-.4 .5 1.2 .5-.7 .5-.3 .5 .7 .5-.2 .5-.4 .5-.1 .5 1.1 .5-.9 .5-.5 .5-.6 .5 .4 .5-.5 .5 .9 .5 .1 .5-1.8 .5 1.6 .5 .5 .5-.4 .5-.8 .5 1.6 .5-1.5 .5-.4 .5 .2 .5 .8 .5 .7 .5 .1 .5-.7 .5-1 .5 .4 .5-.2 .5 .5 .5-1.2 .5 1.4 .5 .4 .5-.6 .5 .5 3.1-.8 3.2-.4 3.6-.4 3.8-.4 3.6-.5 3.3-.4 4.3-.4 3.5-.5 4.4-.7 3.6-1 3.7-1.4 4.3-1.7 3.5-2 3.6-2 3-2.2 3.2-2.2 2.2-2.4 2.1-2.5 1.8-2.6 2.3-2.7 1.2-2.9 1.6-3 1.9-3.2 1.5-3.2 1.2-3.1 .9-3.1 1.6-3.1 1.7-3.1 1.2-3.1 1.9-3.1 .9-3.1 2.3-3.1 1.6-3 2.2-3.1 1.1-3.1 1.5-3.1 .6-3.1 .7-3.1 .8-3.1 .8-3.1 .4-2.3 .9-1.5 .3-1.9 0-3.5 .2-6.3 1.1-9.5 .9-12 1.6-13.7 .8-14.7 .9-15.1 .4-15.8 .2-17.1 .7-17.6 .3-17.6 .8-16.9 .4-15.9 .2-15.5 .5-15.2 .8-15.5 -.2-15.9 .3-16.4 .5-16.5 .2-16.9 .3-17.3 .3-17.9 .3-17.9 -1.1-18 .3-18.6 -.2-20.2 .1-22.3 .3-26.5 .4-30.2 .9-31 .2-28.7 .7-23.6 .5-16.9 .6-12.1 .5-9.8 .7-9.5 .2-11.7 .3-14.2 .2-15.1 0-15.6 .1-15.4 .1-14.7 .5-14.7 -.1-14.9 0-14.4 .4-12.7 .1-10.3 -.7-7.3 .4-5 -.7-3.4 0-2.3 1.2-2 1.7 0 2.7 0 4 0 2.1 0 2.2 0 1 1.4 -.4 1.2 -.1 2.5 -.3 5.3 .4 9.6 -.6 15.2 .6 19.8 .6 22.4 .4 23 .1 21.6 .9 19.5 .3 18.7 .6 19 .7 20.3 .6 22.5 .5 26.1 .7 29.1 .4 30 .9 28.9 .8 25.9 .3 22.3 .5 20.2 .1 18.6 1 18 .5 17.9 -.1 17.9 .9 17.3 .4 16.9 .9 16.5 .2 16.4 .1 15.9 -.2 15.5 0 15.2 -.3 15.5 .6 15.9 .1 16.9 .9 17.6 .6 17.6 1 17.1 .4 15.8 .9 15.1 .2 14.7 1 13.7 .4 12 .5 9.5 .4 6.3 .4 3.5 -.5 1.9 .8 1.5 -.2 2.3 1 3.1 -.4 3.1 .6 3.1 .3 3.1 1.2 3.1 -.3 3.1 .8 3.1 .3 3 .1 3.1 .9 3.1 .8 3.1 .4 3.1 .9 3.1 .3 3.1 .8 3.1 .5 3.2 .8 3.3 1 3.2 .3 3 1 2.7 1.2 2.3 1.7 1.9 2.3 1.7 1.2 1.6 1.9 1.8 .7 0 .5 2.1 .5-2.8 .5 2.2 .5 .5 .5-1.1 .5 .6 .5 1 .5 1.1 .5-1.7 .5-.3 .5 2 .5 .6 .5-1.4 .5-1.3 .5 2.8 .5-1.3 .5 1 .5-1 .5-.3 .5-.2 .5 1.2 .5-.3 .5-2.9 .5 .5 .5 1.7 .5-2.1 .5-1.2 .5 .5 .5-.7 .5-.7 .5-1 .5-.6 .5-.9 .5-.3 .5-1.8 .5-.6 .5-.9 .5 0 .5-1.8 .5-1.5 .5-.6 .5-1.3 .5-.6 .5-1.6 .5-.2 .5-1.4 .5-2.1 .5-1.4 .5 0 .5-1.1 .5-1.3 .5-1.8 .5-.8 .5 1.1 .5 0 .5-.2 .5-1.7 .5 1.8 .5-.9 .5 1 .5 .5 .5-.2 .5 .9 .5-.3 .5 1.9 .5 .4 .5 2.8 .5 .9 .5 1.9 .5 .8 .5 .6 .5 2.1 .5 .8 .5 2.1 .5 1.1 .5 .3 .5 2 .5 1.3 .5 1 .5 2.1 .5 1.7 .5-.5 .5 1.1 .5-.4 .5 2.5 .5 .7 .5-.5 .5 2.6 .5 1 .5-.3 .5 .9 .5 .1 .5 1.8 .5-1.2 .5 1.4 .5 2.1 .5-1.1 .5 .7 .5-.2 .5-.4 .5 1.1 .5 .5 .5-.8 .5 1.2 .5 .8 .5 0 .5-1.9 .5 .6 .5-.4 .5 2.1 .5-.3 .5 .1 .5-1.2 .5-.2 .5 .9 .5 0 .5-.8 .5 .7 .5 .3 .5-.4 .5-1.1 .5-1 .5 1.2 .5 .1 .5-.5 .5-.4 .5-.5 .5 .8 .5-.9 .5-.2 .5-1.2 .5-.1 .5 .3 .5-1.3 .5-.5 .5 .4 .5 .8 .5-1 .5 .7 .5-1.4 .5-.3 .5-.8 .5 .6 .5 1.5 .5-.7 .5 .5 .5 .2 .5-.2 .5 .1 .5 .6 .5 .8 .5 .2 .5 .4 .5 .2 .5-.3 .5 .7 .5-.1 .5 1.8 .5-2 .5 1.7 .5 2.1 .5-1.7 .5-.3 .5 1.1 .5 1.1 .5-.9 .5 .8 .5-.3 .5-.2 .5 2 .5-1.5 .5-.3 .5 .1 .5 .7 .5 0 .5 .3 .5-.4 .5-1.2 .5 1.5 .5-.6 .5 0 .5-.9 .5 .7 .5-.1 .5 .5 .5-1.1 .5 1.1 .5 .1 .5-1 .5 .3 .5-.2 .5 1.3 .5-2.4 .5 1.3 .5-1 .5 .8 .5 .9 .5-1.3 .5 .5 .5-.9 .5 1.9 .5-.9 .5 0 .5-2.1 .5-.1 .5 1.4 .5-1.2 .5-.4 .5 .1 .5-1.6 .5 1.1 .5-1.1 .5-.1 .5-1.4 .5 .3 .5-1.6 .5 .6 .5-.6 .5-.9 .5-1.1 .5-.8 .5-3 .5 1.3 .5-1.8 .5-.7 .5-1.3 .5-1.9 .5-.5 .5-.2 .5-.5 .5-2.7 .5-1.3 .5 .7 .5-2.8 .5 1.1 .5-2.5 .5-1.6 .5 .5 .5-.3 .5-3 .5 1.6 .5-1.9 .5 .9 .5-1.7 .5-1 .5 1.5 .5 .5 .5 1.1 .5 0 .5-.3 .5-.1 .5 .5 .5 .9 .5 .5 .5 1.3 .5-.4 .5 2.8 .5 .9 .5 2.7 .5 .1 .5 .2 .5 1.9 .5-.3 .5 1.6 .5 .1 .5 3.5 .5 .4 .5-.3 .4 1.8 .5 1.7 .5 .5 .5 .7 .5-.1 .5 .9 .5 1.2 .5 1.3 .5-.7 .5 .4 .5 2.2 .5-1.1 .5 2 .5-.2 .5 .8 .5 1 .5-.5 .5 .4 .5-1 .5 .4 .5 1.2 .5 .8 .5 .1 .5 .8 .5-1.3 .5 0 .5 .7 .5-.6 .5 0 .5-.6 .5 1.6 .5-1.5 .5 1.2 .5-1.4 .5 2 .5-1.6 .5 1.5 .5-1.8 .5 .9 .5 1.2 .5-1.4 .5 .6 .5-.3 .5-1.3 .5 1.9 .5 .1 .5-1.1 .5 1.3 .5-1.1 .5-.1 .5 .8 .5-.5 .5 2.2 .5-2.8 .5 1.7 .5 .2 .5-2.2 .5 .2 .5 1.7 .5-.8 .5 .7 .5 .6 .5-1.2 .5-.5 .5-.8 .5 1.8 .5-.9 .5 1 .5-.1 .5-1.2 .5 2.4 .5-.5 .5-.2 .5-1.5 .5 .6 .5-.1 .5 .1 .5-.6 .5 1.2 .5-.1 .5 .1 .5-.7 .5 1.4 .5-.9 .5-1.8 .5 1.2 .5 .4 .5 .8 .5-.9 .5 0 .5-.3 .5 1 .5-.9 .5-.1 .5-.1 .5 1 .5-.8 .5-.9 .5 1.7 .5-1 .5 .8 .5 0 .5 .6 .5-.1 .5-1.2 .5 .3 .5-.9 .5 2.2 .5-.9 .5 .7 .5-1.3 .5-1.3 .5 2.7 .5-1.1 .5 0 .5-.1 .5 .4 .5-.1 .5-1.6 .5 2 .5-1.3 .5 .1 .5 1.6 .5-.7 .5-1 .5-1.2 .5 1.5 .5 .2 .5-.6 .5-1 .5 .2 .5-.5 .5 .9 .5 .3 .5-.2 .5-1.6 .5 .3 .5-.2 .5-1.3 .5-.3 .5 1.1 .5-2.1 .5-.2 .5-1.8 .5-.3 .5-2.1 .5 .7 .5 .4 .5 .3 .5-.9 .5-.4 .5-.2 .5-.1 .5 .9 .5 1.2 .5-.4 .5 2.1 .5-.8 .5 .1 .5 1.2 .5 .1 .5 .8 .5 2.3 .5-.6 .5 .7 .5 1 .5 .3 .5-1.1 .5 1.5 .5-.6 .5-.1 .5 .4 .5-1.4 .5 .6 .5 .5 .5 .4 .5-1.3 .5-1.1 .3-.3 .2-1.3 .1-1.4 .2-.8 .1-2.5 .1-1.3 .1-.8 .1-1.8 .1-1.6 .1 0 .1-3 .1-1.9 .1-.2 0-.3 .1-2.8 .1-.5 0-2.8 .1-1.6 .1-1.5 0-1 .1 0 .1-3.7 0 .6 .1-3.5 .1-1 0-.8 .1-1.6 0-1.7 .1-2.9 0 .1 .1-2.5 0 .9 .1-3.3 .1-1.2 0-2.5 .1-.9 0-1.9 .1 .3 0-2.3 .1-.8 0-2.3 .1-1.2 .1-3.1 0-2 .1 .2 0-2.7 .1-1 0-.5 .1-2.7 0-.2 .1-2.7 .1 .2 0-1.6 .1-2.8 0-1.2 .1-1.9 0-.6 .1-.7 0-3.3 .1 .4 .1-3 0-1 .1-2.1 0 1.4 .1-3 .1-1.2 0-2.1 .1-.1 .1-3.8 0 .3 .1 .1 .1-3.4 0-1.2 .1-1 .1-2.5 0-.8 .1-.7 .1-2 .1-1.2 0-1.9 .1-.8 .1-1.5 0-.3 .1-1.8 .1-2.2 .1-3 .1 .7 0-1.4 .1-2.7 .1-2.3 .1-.8 .1 .1 .1-2.9 0-1 .1-1 .1-.7 .1-2.2 .1-1.3 0-1.6 .1 .3 .1-1.7 0-2.2 .1-2.3 .1-.9 .1-.3 0-2.4 .1-.1 .1-1.8 0-1.5 .1-1.2 .1-1.4 0-2.3 .1-.9 .1 .6 0-3.9 .1-.8 .1-.2 0-2.2 .1-1.9 0-1.8 .1 0 .1-1.1 0-1.1 .1-2.5 .1-.7 0-3 .1-.4 0-2 .1-.7 0-.9 .1-1.1 0-2.9 .1 .3 .1-2.6 0-1.8 .1-.8 0-2.3 .1-.3 0-1.1 .1-1.8 0-.8 .1-2 .1-1.2 0-2.4 .1-.3 0-2 .1-1.1 0-1.1 .1-1.1 0-2.7 .1-1.3 .1-.4 0-.7 .1-1.6 0-1 .1-1.2 .1-2 0-1.8 .1-2.1 .1-1.3 0-.9 .1-1 .1-1.4 0-1.6 .1-1.5 .1-.7 0-1.6 .1-1.2 .1-1.6 .1-2.2 .1-1.8 .1-.2 .1-1.3 .2-2.2 .1-1.6 .2 .9 .5-3.3 .3 1.1 .2 1.9 .1 0 .2 2.2 .1 2.7 .1 .9 .1 1 .1 1.2 .1 .9 0 2 .1 .6 .1 1.3 .1 1.7 .1 2 0 .9 .1 1.7 .1-.5 0 3.9 .1 2.2 .1 .7 0 .2 .1 .9 .1 2.3 0 .5 .1 2.7 0 .5 .1 2.5 .1 1.8 0-1.1 .1 3.2 .1 .7 0 1 .1 2 0 1.8 .1 2.4 .1-.5 0 3.4 .1 2.2 .1 .4 0 1.4 .1 1 0 .5 .1 2.7 .1 1.3 0 1.6 .1 2.5 .1 .3 0 1.1 .1 2.1 0-.8 .1 1.4 .1 2 .1 1.2 0 2.4 .1 .6 .1 2.9 0 1.1 .1 .8 .1 .5 .1 2.2 .1 1.5 0-.1 .1 2.4 .1 1.5 .1 1.1 .1 2.4 .1 1 .1-.3 .1 1.9 .1 .7 .2 2.4 .1 .1 .1 2.5 .2 1 .1 1.7 .2 .3 .3 .4 .2 3.6 .3-.5 .2 1.8 .5 .3 .5 .7 .5 1 .5-1 .5 1.1 .5-1.6 .5 2.9 .3 .1 .2 1.2 .2 1 .1 1.2 .2 2.2 .2-1.4 .1 2.9 .2 1.1 .1 2.7 .2 .3 .1 2.1 .1 1 .1 2 .1 1.5 .1 .2 0 1.6 .1 .2 .1 2.7 .1 1.7 .1 .2 0 2.5 .1-1 .1 1.5 0 1.8 .1 2.1 .1 1.6 0 1.3 .1 1.3 .1 1.9 0 .5 .1 .8 0 1.4 .1 3.9 .1-1.8 0 3 .1 2.7 .1 .8 0 .5 .1 2.1 0 2.1 .1 1.8 .1-.2 0 2.6 .1 .9 0 2 .1 1.6 0 .1 .1 .5 .1 2.7 0 2.4 .1 .7 0 1.1 .1 2.9 .1-.9 0 2.9 .1 .3 0 1.9 .1 1.4 .1 2.6 0-.3 .1 1.8 .1 .6 .1 3 0 .7 .1 2 .1 .3 .1 2 .1 2.4 0 .5 .1 1.8 .1 1.1 .1 1 .2 .6 .1 3.3 .1 .6 .2 2.1 .1-1.1 .2 1.3 .3 .9 .2 1.9 .5 2.8 .5 .6 .5 .6 .5 1.2 .5 1.6 .5 .5 .5 1.9 .5 1.2 .5-.3 .5 2.7 .5 2.6 .5 0 .5 1.5 .5 .8 .5 1.2 .5 2.3 .5-.1 .5 .3 .5 0 .5 1.9 .5-.3 .5 .7 .5 2.5 .5 .4 .5-1.5 .5 2.5 .5 .1 .5-.7 .5 1.5 .5-1.6 .5 .6 .5 0 .5 .4 .5 1.6 .5-1.5 .5 .3 .5 .2 .5 1 .5-.4 .5 1 .5-1.1 .5-.4 .5 .6 .5 .4 .5-.7 .5 .9 .5 1.1 .5-1.8 .5 .4 .5 .9 .5-1.6 .5-.3 .5-.4 .5 .9 .5-.3 .5-.9 .5-.3 .5 .4 .5-1 .5-2.5 .5 .1 .5-.9 .5-.7 .5-2 .5-1.8 .2-.6 .3-1.7 .2 .5 .3-1.3 .2 0 .3-2 .2-.4 .3-1.3 .2-.9 .3 .5 .2-1.7 .3-.2 .2-2 .3 .2 .5-2.8 .5-.3 .5-1.1 .5 .1 .5-.6 .5-.3 .5 1 .5 .2 .5 1.2 .5 1.4 .5 .8 .2 .6 .3 1.3 .2 .3 .3 1.4 .2 1.4 .3 .7 .2 0 .3 .1 .2 1.8 .3 .8 .2 1.8 .3-.3 .2 .9 .3 1.5 .5 .6 .5 1.6 .5 2.6 .5 .9 .5 .4 .5 .5 .5-.2 .5 1.8 .5 .2 .5 .5 .5-.1 .5 .7 .5 .1 .5 .6 .5 1 .5-.7 .5-1.4 .5 .6 .5-.4 .5 .7 .5 1.1 .5-.1 .5-.7 .5 .7 .5-.7 .5-.5 .5 0 .5 .5 .5 1.7 .5-2.1 .5 2 .5 .1 .5-1.1 .5 .1 .5-.4 .5 .4 .5 .6 .5-.5 .5 .7 .5 .2 .5-.6 .5 0 .5-.3 .5 .3 .5-1.1 .5 1.2 .5-.2 .5-.8 .5 2.3 .5-2.3 .5 .1 .5 .8 .5-1.6 .5 .8 .5-.5 .5 .4 .5 .6 .5 .4 .5 .6 .5-.2 .5 .2 .5-.4 .5-.8 .5 1.2 .5-1.2 .5-.1 .5 1.6 .5-.5 .5-.5 .5 .4 .5 .1 .5-1.6 .5 .9 .5-.8 .5 1 .5-.6 .5 1.5 .5-.6 .5-1 .5 .6 .5-.9 .5 .9 .5 .4 .5-.2 .5-1.6 .5 1.1 .5 .7 .5-.2 .5 .7 .5-1.9 .5 1.4 .5-.9 .5 .6 .5 .2 .5 .2 .5-.9 .5 .5 .5-1 .5-.2 .5 1.5 .5-.5 .5-1.1 .5 .5 .5 .7 .5 1.1 .5-.3 .5-.2 .5-2 .5 1.3 .5 .4 .5 0 .5 0 .5-.5 .5 1.5 .5-.2 .5-1.2 .5-.7 .5 2.3 .5-2 .5 1.3 .5 .6 .5-2.2 .5 1 .5-.5 .5 .6 .5-.1 .5 1.2 .5-1 .5-.5 .5 .9 .5-1.1 .5-.1 .5 2 .5-2.3 .5 .2 .5 .4 .5-.8 .5-.8 .5 2.4 .5-1.4 .5 .2 .5 .1 .5-.5 .5-.1 .5 1 .5 1.5 .5-1.1 .5 0 .5-1.7 .5 1.1 .5-.9 .5 1.5 .5-.8 .5 .2 .5-.1 .5-.4 .5-.7 .5 1.6 .5-1.5 .5 .1 .5 .7 .5-.4 .5 .8 .5 .5 .5-.6 .5 0 .5-.2 .5 .6 .5-2 .5 1.6 .5-1 .5-.2 .5 .9 .5-.3 .5 .7 .5 .4 .5-2.5 .5 1.5 .5 1.5 .5-.8 .5 .4 .5-1.1 .5-1.2 .5 .2 .5 1.4 .5 .1 .5-1.3 .5 .3 .5 .3 .5-1.6 .5 1 .5 1.4 .5 .3 .5-1.9 .5 1.3 .5-2 .5-.5 .5-1.3 .5 1.9 .5-1.4 .5 1.3 .5-2.1 .5-1 .5-2.6 .5 1.3 .5-2.9 .2-.6 .3-2.4 .2 1.4 .3-.9 .2-2.3 .2-.5 .3-1 .2-.8 .3-1.9 .2-.1 .3-2.9 .2-1.7 .2-.9 .2-2.3 .1 0 .2 .3 .2-1.6 .1-1.8 .2-.2 .2-2.9 .1 .2 .2-.5 .2-.9 .1-2.2 .2 .2 .2-.4 .1-2.8 .2-.1 .2-2.8 .1-1.3 .3 .5 .2-1.8 .3-1.2 .2-1.8 .3-.9 .2-.2 .3-.2 .2-2.2 .5-2.1 .5 1.8 .5-.3 .5 1 .5 1.1 .3 2.4 .2-.6 .3 1.5 .2-.5 .3 2.3 .2 1.3 .3 2 .2 1.8 .2 .2 .2 2.9 .1-1 .2 1.5 .2 1.6 .1 0 .2 2.4 .2 1.1 .1 .4 .2 2.7 .2-.3 .1 1.1 .3 .6 .2 1 .3 2.2 .2 1.6 .3 1.2 .2 2.2 .3-.9 .2 1.9 .3 .6 .2 3.4 .3-.5 .2 1 .3 .4 .2 2.3 .5 .4 .5 1.6 .5-.7 .5 3.2 .5 0 .5 .5 .5 .7 .5-1 .5 0 .5 .4 .5-.6 .5-1.1 .5-.6 .5-1.4 .5-.3 .5-1.2 .3-1.5 .2 .5 .3-3.5 .2 0 .3 .3 .2-2.7 .3-2.1 .2 1 .3-2 .2-2.7 .3 .1 .2-2.9 .2-1.2 .2-.2 .1-1.3 .2-1.5 .2-.6 .1-1.6 .2-.3 .2-1.2 .1-.5 .2-2.1 .2-1.8 .1-1.1 .2-.3 .2 .2 .1-1.6 .2-2.3 .2 .2 .1-2.7 .3 .1 .2-2.5 .3-.5 .2-1.4 .3-1.8 .2-.6 .3-1.9 .2-.1 .5-.2 .5 .5 .5-.9 .5 .5 .3-.1 .2 2.4 .3-1.1 .2 1.8 .3 2.1 .2 .2 .3 3.5 .2 1.1 .2-.2 .2 1.1 .1 .5 .2 1.1 .2 2.5 .1 1.2 .2 1 .2 1.1 .1 .5 .2 1.8 .2-.2 .1 2.3 .2 2.2 .2 1 .1-.2 .2 1.1 .2 2.4 .1 1.4 .2-1.5 .2 1.9 .1 1.4 .3 2.2 .2-.1 .3 2.4 .2 .5 .3 3.2 .2-.3 .3 .7 .2 .8 .3 2 .2 .6 .3-.5 .2 1.7 .5 .2 .5 1.6 .5 .6 .5 .7 .5 1.2 .5 .3 .5 1.6 .5 .5 .5-.5 .5-.4 .5 1.7 .5-2 .5 .2 .5 2.1 .5 0 .5 .3 .5-.8 .5-.7 .5 .6 .5 .9 .5-1 .5 .1 .5-.5 .5 .2 .5 1.5 .5-.2 .5-1.2 .5 .1 .5 .4 .5 .8 .5-1.2 .5 .7 .5-1.4 .5 .7 .5 1.2 .5 .4 .5-1.5 .5 .3 .5 1.2 .5-.9 .5-.1 .5 .8 .5-.2 .5 .7 .5-.3 .5-1 .5 .4 .5 0 .5-.9 .5 .3 .5 1.4 .5-1.9 .5 2 .5-.6 .5-.3 .5 .5 .5 0 .5 .5 .5-1.2 .5 .2 .5 0 .5 1.6 .5-.7 .5-1.4 .5 .4 .5-.3 .5 .6 .5 .1 .5 1.5 .5-3 .5 2.1 .5-.4 .5-.9 .5 .4 .5-.2 .5 .4 .5 .7 .5-1.9 .5 2.1 .5-1.3 .5 1.4 .5-.8 .5 .6 .5-.6 .5 .4 .5-.9 .5-.8 .5 .9 .5-.5 .5-.3 .3-4.1 .2-.1 .2-.1 .2-3 .1-.5 .2 .5 .2-1.8 .1-2.9 .3 .5 .2-.6 .3 .3 .2 1 .2 1 .1 .5 .2 1.6 .2 2.2 .1 .7 .2 2.4 .3-.3 .2-.4 .5 2.7 .5 1 .5 .3 .5-.1 .5-.6 .5 1.7 .5-1.5 .5 1 .5-.7 .5-.7 .5 2 .5-2.7 .5 1 .5 1 .5-.6 .5 .9 .5-.7 .5-.2 .5 1.9 .5-1.8 .5 .1 .5-.7 .5 .3 .5 1 .5-.1 .5-.4 .5-.5 .5 1 .5-1.7 .5 1 .5 0 .5-.4 .5 .8 .5-.7 .5-.1 .5 2 .5-.8 .5 .3 .5-.8 .5 .7 .5-.2 .5 .4 .5 .7 .5-1.8 .5 .3 .5-.2 .5-1.6 .5 .6 .5 1.1 .5 .4 .5-.9 .5 1.3 .5 .1 .5-1.3 .5 1.4 .5 .3 .5-1 .5-1.1 .5 1.8 .5-1.2 .5-.1 .5 .3 .5-.5 .5 1.2 .5-.2 .5 .4 .5-.5 .5-1.1 .5 .5 .5 .8 .5-1 .5 2 .5-1.9 .5-.2 .5 1.3 .5-.3 .5-.6 .5-.1 .5 .4 .5 .3 .5 0 .5-.6 .5 0 .5 0 .5 0" stroke="#FF8A4C"/>
<path d="M45.5 78.0l0 747 .1 2 0 2.3 .1 1.9 0 2.2 .1 1.2 0 .8 0 1.3 .1 2.5 0-.7 .1 1.8 0 1.9 .1 .8 .1-.2 0 3.2 .1 .7 .1 1.3 .1 1.9 .2 1.3 .1 .9 .2 2.1 .2 1.1 .3 .9 .3 1.1 .2 .8 .5 .7 .5 .8 .5 .9 .5-.2 .5 .1 .5 2.2 .5-.9 .5 .4 .5 0 .5 .3 .5 .1 .5 .1 .5-.5 .5 1.3 .5-1.1 .5 1.3 .5-2.1 .5 .6 .5 1.6 .5-.8 .5-.4 .5 .9 .5-1.1 .5 .9 .5-1.7 .5 1.3 .5-.1 .5 .9 .5 .3 .5-1.3 .5 1.8 .5-1.6 .5-1.1 .5-.1 .5 2.8 .5-1.2 .5-.4 .5-.1 .5-.2 .5 1.8 .5-1.1 .5 1.4 .5-1.4 .5-1.5 .5 2.2 .5-.9 .5 .1 .5 1.4 .5-1.4 .5 1.1 .5-.9 .5-.5 .5 .9 .5-.8 .5 1.4 .5-.2 .5-.7 .5 .4 .5 0 .5-.7 .5 .9 .5-.8 .5 .6 .5-1.2 .5 .8 .5 .3 .5-.9 .5 .2 .5 0 .5 .9 .5-1.1 .5 .9 .5 .8 .5-.9 .5-1.5 .5 1.3 .5 .7 .5-1 .5 1.1 .5-.4 .5-.1 .5-.5 .5-.2 .5 .2 .5 .2 .5 .3 .5 0 .5-.6 .5 .3 .5 .2 .5-1.5 .5 .7 .5-.1 .5 .5 .5-.1 .5 0 .5-.4 .5 1.1 .5-.3 .5-1.4 .5 1.2 .5-.8 .5 2.1 .5-1.6 .5 0 .5 .4 .5-.2 .5 .1 .5 1.2 .5-1 .5 .4 .5 .2 .5-1.6 .5 2 .5-.8 .5 .2 .5-1.4 .5 1.2 .5-.4 .5-1.1 .5 1.3 .5-2.5 .2-1.5 .3-.7 .3-.4 .2-.6 .5-1 .5 1.6 .2 1.2 .3-1.1 .3 1.5 .2 .4 .5 1.9 .5 1.6 .5-.4 .5-1.2 .5 .6 .5 1.1 .5-1.2 .5 .4 .5 .3 .5-1.6 .5 1.9 .5-.3 .5 .2 .5-1.2 .5 .2 .5 .1 .5 .7 .5-.2 .5 .1 .5 1.2 .5-.3 .5-1.6 .5 .1 .5 1.8 .5-1.6 .5 1.3 .5 .2 .5-1.6 .5 .2 .5 .2 .5-.7 .5-.1 .5 .5 .5 .9 .5-1 .5 .2 .5-.2 .5-.6 .5 2.1 .5-2.8 .5 1.2 .5 .9 .5-1.5 .5 1.5 .5 .5 .5-1.6 .5 .8 .5-1 .5 1.2 .5-.3 .5 .1 .5 .9 .5-.7 .5 .7 .5-.6 .5-1.3 .5 1.1 .5 .1 .5-1.4 .5 2.1 .5-1 .5 .2 .5-.9 .5 .7 .5 .2 .5-.5 .5 .3 .5-1.7 .5 2.7 .5-1.9 .5-.8 .5 .9 .5 .1 .5 1 .5-1.1 .5 .9 .5-.9 .5 2.4 .5-1.3 .5 1.1 .5-2.2 .5 1.2 .5-1.2 .5 1.1 .5 .1 .5-1.7 .5 .4 .5-.1 .5-.2 .5 .6 .5-.2 .5-.4 .5 1.2 .5 .3 .5-1.4 .5 .6 .5 .4 .5-.2 .5-.3 .5 1.1 .5 0 .5-.1 .5-.7 .5 1.7 .5-.2 .5-1.6 .5 .2 .5 1 .5-1.5 .5 .9 .5-.3 .5-.6 .5 .4 .5-1 .5 .7 .5-1 .5 3.1 .5-.5 .5-.2 .5-.7 .5 .5 .5 .2 .5-.2 .5-.1 .5-1.4 .5 1.1 .5-.8 .5-.5 .5 .1 .5 1.1 .5 .5 .5-1.8 .5 2.3 .5-.2 .5-1.4 .5 0 .5 .3 .5 .7 .5-1 .5-.5 .5 1.1 .5-1.9 .5 1.7 .5 .8 .5-.7 .5 .4 .5-.2 .5 .1 .5-.4 .5-.7 .5 .4 .5 .1 .5 1 .5 .3 .5-.9 .5-.9 .5 0 .5 .4 .5 1.2 .5-.8 .5-.3 .5-.5 .5 1.2 .5-.4 .5-.3 .5 .1 .5 1.2 .5-1.4 .5 1.4 .5-.4 .5-.8 .5 .6 .5-.8 .5-.5 .5 .4 .5-.5 .5 1.1 .5-.4 .5 .4 .5 .2 .5-2.3 .5 1.9 .5-1.6 .5 1.5 .5-.8 .5 .7 .5 1 .5-2.3 .5 1.4 .5-.2 .5-1.4 .5 1.9 .5-.4 .5-.5 .5-.1 .5 2.2 .5-2 .5-1 .5 .6 .5 .4 .5 0 .5 .2 .5-.7 .5 1.2 .5-.8 .5-.7 .5 .4 .5 .4 .5 .9 .5-.3 .5-.6 .5 .2 .5 .2 .5 1.3 .5-2 .5 .8 .5 .2 .5-1.2 .5 .8 .5 0 .5-.5 .5 .8 .5 .3 .5 .1 .5-1 .5 .2 .5 1.5 .5-2.4 .5 .9 .5 .5 .5-.5 .5 .3 .5-.4 .5 .5 .5 .4 .5-1.2 .5 .3 .5-.2 .5-.3 .5 .3 .5-.9 .5 1.4 .5 .7 .5 0 .5-.3 .5-1.7 .5 1.8 .5-1.7 .5 .5 .5 1.4 .5-2.3 .5 1.4 .5-.4 .5-.4 .5-.6 .5 1 .5-.7 .5 1 .5 .1 .5-2 .5 .6 .5 0 .5-.8 .5-.1 .5 .8 .5-.5 .5-1.3 .5 .5 .5 .4 .5-1.7 .5-.3 .5 1.4 .5-.9 .5-2.9 .5-.5 .5 .6 .5-1.9 .5 0 .5-.7 .5 .3 .5-2.4 .5-.1 .5 .9 .5 1.9 .5-.5 .5-.7 .5 2.1 .5 .6 .5-.3 .5 .2 .5 .7 .5 .7 .5-1 .5 0 .5-.9 .5-1.1 .5-1.4 .5-.4 .2-1.2 .3-.8 .3-.1 .2-1.4 .2-.8 .3-3.1 .3 .3 .2-2.3 .2-1.2 .1-1.1 .2 .4 .2-1.4 .1-2.4 .2-1.5 .2-.5 .1-1.6 .2 .2 .2-3.8 .1-1.7 .2-.3 .1-1 .1-1.1 .2-.7 .1-.2 .1-3 .2-1.4 .1-2.2 .1 .3 .1-.9 .1-2.1 .2-.2 .1-2.1 .1-.2 .2-2.2 .1-2.3 .1-1 .1-1.9 .1-1.4 .2 .2 .1-.8 .1-.4 .2-2.7 .1-1.3 .1-1.8 .2 .1 .1-1.9 .2-2.1 .2-.3 .1-1.3 .2-2.9 .2 .5 .3-1.6 .3-1.3 .2-.7 .5 1.3 .5 .7 .2 1.1 .3-1.1 .2 1.3 .1 2.1 .2-.4 .2 1.5 .1 .5 .2 4.1 .2 .9 .1 1 .2 1.4 .1 .7 .1 1.3 .2 2 .1 .2 .1 2.7 .2 0 .1 1 .1 2.9 .1 .3 .1 1.8 .2 .5 .1 0 .1 3.3 .2-.1 .1 3.1 .1-.7 .1 1 .1 2.8 .2 1.3 .1 1 .1 .2 .2 2.7 .1-.6 .1 1.9 .2 1.2 .1 1.7 .2 2.3 .2 .3 .1 2.2 .2 1.3 .2-.6 .1 1.6 .2 1.7 .2 .9 .1 1.7 .2-.7 .2 3.4 .3 1.3 .3 .5 .2 .2 .2 2.1 .3 .5 .3 1.7 .2 .3 .5 2 .5 .2 .5 2.4 .5-2 .5 1.5 .5 1.7 .5-1.1 .5 2 .5-1.1 .5 1.2 .5-.5 .5 .5 .5 .6 .5 0 .5-.1 .5 2 .5-1.5 .5-.7 .5 1.6 .5 0 .5 .3 .5 .5 .5-1.9 .5 1.5 .5 .1 .5-.8 .5 .3 .5-1.8 .5 1.2 .5 1.9 .5-2.7 .5 1 .5 .7 .5 .2 .5 .8 .5-2.5 .5 1.4 .5 .6 .5-1.6 .5 1 .5 1.5 .5-.4 .5-.6 .5-2 .5 1.5 .5 .5 .5-.6 .5 .2 .5 1.8 .5-1.8 .5-.6 .5 .9 .5-.4 .5 0 .5 .2 .5 .7 .5-.4 .5-1.1 .5 .8 .5 .5 .5-.7 .5 1.2 .5-.2 .5-1.4 .5 1 .5 1.3 .5-.3 .5-1.2 .5 .7 .5-1.2 .5-.6 .5 1.5 .5-.2 .5 .2 .5-.4 .5 .3 .5-.6 .5 .7 .5 .3 .5-.7 .5 .7 .5-1.9 .5 .7 .5 1.7 .5 .2 .5-1.1 .5-.3 .5-.8 .5 1.2 .5 .3 .5-1.7 .5 1.5 .5 0 .5 0 .5-1.2 .5 1.2 .5-1.5 .5 2.2 .5-1 .5-.9 .5 1.8 .5-.1 .5-1.3 .5 2.1 .5-2.4 .5 1 .5 .6 .5-2.5 .5 2.4 .5-.8 .5 0 .5-.8 .5 1.1 .5-1.1 .5 .1 .5 .4 .5-.6 .5 2.1 .5-2.1 .5 .4 .5 .3 .5 .3 .5 .6 .5 0 .5-.9 .5 0 .5 .3 .5 .6 .5-.1 .5-.9 .5-1.2 .5 3.2 .5-.9 .5-.5 .5 0 .5-.6 .5-.4 .5 .5 .5 .1 .5-.3 .5-.6 .5 .8 .5 .7 .5-.8 .5 .4 .5-1.6 .5 1.4 .5 .1 .5-.9 .5-.3 .5 1.6 .5-.9 .5 .9 .5-.6 .5 .7 .5-.7 .5-.9 .5 1.1 .5-.2 .5 .8 .5-.9 .5 .1 .5 .9 .5 .2 .5-.3 .5 .2 .5-.4 .5 .2 .5 .1 .5-.3 .5-.3 .5 .1 .5 1.5 .5-1.6 .5-.2 .5-.1 .5 .2 .5 .2 .5-1 .5-.6 .5 1.7 .5-1.5 .5 1.4 .5 0 .5 .7 .5 .4 .5-1 .5-.7 .5-.4 .5 .3 .5 .6 .5-1.6 .5 1.6 .5-.1 .5 .5 .5-.7 .5 .3 .5-.6 .5 .2 .5-1 .5 1.4 .5 1.1 .5-1 .5 .1 .5-1 .5 1.8 .5-1.6 .5 1.1 .5-.5 .5-.8 .5 1.5 .5-.8 .5 .2 .5 .2 .5-.4 .5-.3 .5 .7 .5-.7 .5 .4 .5-.6 .5-.6 .5 .6 .5 .1 .5 .4 .5 .9 .5-2.2 .5 1.4 .5-1.7 .5 .8 .5 .4 .5-1.2 .5 .2 .5 1.5 .5 0 .5-.2 .5-.5 .5 2.2 .5-1.7 .5-.5 .5 1.9 .5-.8 .5-.8 .5 1.2 .5-.8 .5 .4 .5-.3 .5-1 .5 1.5 .5-.6 .5-.9 .5 .2 .5 1.3 .5-1 .5 .3 .5 .5 .5-.4 .5-1.3 .5 1.7 .5 .2 .5-.1 3.9-1.6 3.1-.9 3.6-.9 3.6-1 2.7-1.1 3.6-1.2 3-1.3 2.6-1.3 2.9-1.5 2.2-1.7 1.7-1.9 2.5-2.1 1.5-2.3 1.7-2.3 1.4-2.5 1.8-2.6 1-2.8 .9-2.8 1.5-2.9 1.2-2.8 .8-2.8 1.1-2.8 1.1-2.7 1.1-2.8 1.4-2.8 1.4-2.8 1.4-2.8 1.1-2.8 1.2-2.8 1.3-2.8 1.2-2.8 .8-2.7 1.5-2.8 .9-2.7 .9-2.8 .6-1.9 .4-1 .5-1.5 .3-3.2 1.1-6.4 1-10.3 1.3-13.3 1.4-15.1 1.4-15.9 .9-15.4 1-15 .5-15.3 .6-15.6 .8-15.9 1.5-16.2 -.2-16.4 1.1-16.5 .7-16.9 0-17.3 .9-17.9 .4-17.9 -.1-18 .6-18.6 -.3-20.2 -.2-22.3 .5-25.3 0-27.8 0-29.2 .2-29.3 1.1-28.4 -.7-28.4 .1-29.2 -.2-28.5 .2-26.3 -.1-22.6 .1-18.5 -.1-15.5 .1-12.8 .2-10.9 .4-9.3 .2-7.3 -.8-5 -.2-3.4 -.2-2.3 .9-2 2.1 0 3.9 0 3.4 0 4 0 2.9 0 .7 1.4 .3 1.2 -.8 2.5 -.8 5.3 .1 9.6 .1 15.2 .6 19.8 .5 22.4 -.4 23 .3 21.6 .3 19.5 .3 18.7 0 19 .7 20.3 .4 22.5 .4 26.3 0 29.5 .8 30.2 0 28.9 .9 25.1 -.3 20.6 .2 17.6 0 15.8 0 15.2 .1 15.8 .3 16.1 1.4 15.5 .2 15.6 .7 15.9 1.2 16.9 .3 18.4 1.2 19.7 .9 20 1.3 19.3 .7 17.6 .8 16.5 .6 15.9 .8 14.8 .9 12.7 -.3 10.1 .9 6.6 .1 3.5 .2 1.7 -.2 1.2 1 2 -.1 2.5 .6 2.1 .3 2.1 .2 2.6 .9 3.5 .4 4.8 1.1 5.9 1.1 6.3 1 6 .7 4.9 .5 3.8 1 3 -.1 2.6 0 2.3 .8 2.2 .8 2.1 1.1 1.9 1 1.6 1.1 1.5 1.8 1.3 .8 1.1 1.1 .8 1.2 .7 1.2 .7 1.7 .7 .1 1.1 .5-2.2 .5 2.2 .5 .8 .5 .9 .5-1.3 .5-1.1 .5 1.9 .5-.7 .5-.7 .5 1 .5 1.4 .5 .2 .5-.2 .5-1.3 .5 2.5 .5-2.5 .5 .9 .5-1 .5 2 .5-.7 .5 .3 .5-.7 .5-.3 .5 0 .5-1.7 .5 1.9 .5-.3 .5-1.3 .5-.1 .5-.1 .5 .5 .5-1.4 .5-.8 .5-1 .5-1.4 .5 0 .5-.2 .5-1.1 .5-.6 .5-.3 .5-1.2 .5-1.1 .5-.7 .5-1.3 .5-1.3 .5-.7 .5-2.7 .5 1.2 .5-3 .5 .5 .5-1.7 .5-.2 .5-1.8 .5-1.7 .5 .6 .5-1.4 .5-.8 .5-.7 .5 .2 .5-.6 .5-.7 .5-1.5 .5 .8 .5 .5 .5 1.5 .5-.7 .5 .1 .5 1.6 .5-.3 .5 .9 .5 1 .5-.3 .5 2.9 .5 .6 .5 .6 .5 .5 .5 2.2 .5 2 .5-.3 .5 .8 .5 2.3 .5-.4 .5 .6 .5 2.4 .5 .9 .5 1.3 .5 .8 .5 1.6 .5 .4 .5 .6 .5 .9 .5 1.5 .5 1 .5 .6 .5 .4 .5-1.6 .5 1.4 .5 1 .5 .8 .5-.9 .5 2.6 .5-.5 .5-.4 .5 .8 .5-.1 .5-.1 .5 1.1 .5-.5 .5-.6 .5 .7 .5 .5 .5-.7 .5 1.9 .5-1.8 .5 2.2 .5-.6 .5-1.4 .5 .7 .5 .8 .5-1.1 .5-.9 .5 .9 .5 1.3 .5-2.8 .5 1.4 .5-.6 .5-.3 .5-.4 .5-.2 .5 .8 .5-.6 .5-1.4 .5 1.6 .5-2.4 .5 1.2 .5-.6 .5 .5 .5-.8 .5 .3 .5-.9 .5 .6 .5-.5 .5 1.3 .5-2.1 .5 1.5 .5-.4 .5 0 .5-.4 .5 1 .5-1.2 .5 .4 .5 1.8 .5-1.4 .5 2.5 .5-1 .5 .7 .5 .1 .5 .6 .5-.3 .5 .1 .5 .4 .5 1.1 .5 .3 .5 .2 .5-.5 .5-.3 .5-1 .5 1.9 .5 .2 .5-.9 .5 1 .5 .4 .5-.8 .5 .8 .5-.6 .5-1.5 .5 1 .5 0 .5 .8 .5-1.1 .5 .3 .5-.4 .5 .7 .5 .1 .5 .7 .5-.2 .5-.5 .5 0 .5-.1 .5 0 .5 1 .5-2.9 .5 1.5 .5 .3 .5 .5 .5-1.7 .5 .9 .5 .3 .5-1.1 .5-1.2 .5 1 .5-.8 .5 1.2 .5-1.4 .5 1.8 .5-1.5 .5-1 .5-.1 .5-.8 .5 .7 .5 .5 .5-1.8 .5 .4 .5-1.9 .5 .3 .5 .8 .5-3.3 .5 1.3 .5-.8 .5-3 .5-.5 .5-.5 .5 .6 .5-2 .5-.7 .5-.3 .5-1.4 .5-1 .5-1.4 .5 .1 .5-2.4 .5 .8 .5-2.5 .5-1.3 .5 .2 .5-1.1 .5-2.6 .5 .9 .5-1.9 .5-.2 .5 .8 .5-1.7 .5 .6 .5-.7 .5 1.7 .5-1.5 .5-.6 .5 .3 .5 .6 .5 1.3 .5 .5 .5 1.4 .5 .1 .5 .8 .5 1 .5 .6 .5 1.3 .5 1.3 .5 1 .5 .1 .5 .1 .5 1.7 .5 1.8 .5-.9 .5 2.3 .5 1.6 .5 .2 .5 .4 .5 3 .5 .6 .5-.5 .5 1.9 .5 .7 .5-1.2 .5 3 .5-1.7 .5 1 .5-.1 .5 1.3 .5-.6 .5 1.4 .5 1.1 .5-.3 .5-.1 .5 1.7 .5-1.6 .5 1.6 .5-.8 .5 .6 .5 0 .5 .2 .5 0 .5-.4 .5 .2 .5 .9 .5-.3 .5-.8 .5 .5 .5 0 .5 .6 .5 .2 .5 0 .5-.6 .5 .6 .5-1 .5-.7 .5 1.7 .5-1.2 .5 .6 .5-.2 .5 1.4 .5-1.3 .5 1.1 .5-.6 .5-.5 .5-.3 .5 1.6 .5-.1 .5 .3 .5 .8 .5-1.1 .5 0 .5-.3 .5 .2 .5-.4 .5-.4 .5 2.2 .5-2.9 .5 1.6 .5 .2 .5-.3 .5-.8 .5 .6 .5-.2 .5-.5 .5 .8 .5-.3 .5-.1 .5 1 .5-1.4 .5 1.2 .5-.8 .5 .8 .5-.3 .5 .1 .5-.9 .5 .1 .5 0 .5 .7 .5 .5 .5 .2 .5-1.2 .5 .5 .5-1.3 .5-.5 .5 1 .5 .2 .5-.7 .5-.2 .5 1.7 .5-1 .5-.6 .5 2.9 .5-1.6 .5-.4 .5 .8 .5-1.1 .5 1.7 .5-2.3 .5 .1 .5 .9 .5-.5 .5 1.6 .5-2.3 .5 .7 .5 .7 .5 .2 .5 .3 .5-.5 .5 1.4 .5-2.1 .5 .5 .5 .5 .5-.9 .5 0 .5-.2 .5-.2 .5-.4 .5 .4 .5-.7 .5 1.4 .5-1.6 .5 2.7 .5-.3 .5-.5 .5-1 .5-.3 .5 1.3 .5-.9 .5 .3 .5-1 .5 1.2 .5-1.4 .5 .6 .5-1.5 .5 .8 .5 .8 .5-.8 .5-.1 .5 .8 .5-.7 .5 .8 .5-2.6 .5 1.9 .5-.1 .5-1.7 .5 0 .5 1.5 .5-1.6 .5 .2 .5 .7 .5-.9 .5 .5 .5-1.3 .5 .7 .5 .3 .5-.8 .5-2.1 .5 1.8 .5-.8 .5-1 .5 1.3 .5-2.7 .5 2.2 .5-2.3 .5 1.2 .5-1.8 .5-1.5 .5 .5 .5-.5 .5-.5 .5-.4 .5-2.2 .5 .2 .5-.7 .5-1.6 .5-1.4 .5-1 .5 .4 .5-.9 .5-2.1 .5-1.4 .5 .6 .2-3.1 .3-.1 .2-1.8 .1-2.1 .2-.2 .1-1.4 .1 0 .1-.8 .1-3.3 .1-.7 .1-1.2 0-2.5 .1-1.6 .1 .5 .1-3 0-1.3 .1-1.8 .1-1.2 0-1.6 .1-.4 0-1 .1-2.6 0-2.2 .1-.5 0-2.6 .1-.9 .1 0 0-.7 0-2.8 .1-2.6 .1-.1 0-3.7 0-.4 .1 .1 .1-2.1 0-3.1 0-1.6 .1 .4 0-2.1 .1-1.8 0-.7 .1-2.2 0-2.4 .1 .6 0-2.5 .1-1.8 0-1.6 0-.3 .1-2.2 0-.4 .1-2.1 0-.5 .1-2.5 0-1.6 .1-2.4 0-.8 .1 0 0-.3 0-4.2 .1-1.3 .1-.5 0-1.4 0-2.4 .1-.9 .1-2.8 0-.5 0-.5 .1-.9 .1-2.8 0-1.5 0-.9 .1-.9 .1-1.9 0-2.3 0-.6 .1-.9 .1-2.6 0-1.8 .1-.1 0-1.6 .1-1 0-2.1 .1-1.9 0-1.3 .1-1.9 0-1.3 .1-1.1 .1-1.3 0-.2 .1-3.1 0-.5 .1-1.7 0 .2 .1-2.2 0-1.8 .1-.5 .1-2 0-1.9 .1 .1 0-2.1 .1-.7 .1-1.8 0-1.7 .1-2 .1-2.3 0-.1 .1-1.9 .1-.9 0-2 .1-1.9 0-1.6 .1-.2 .1-.9 0-2.6 .1-.9 0-.7 .1-3 .1-1 0-2 .1 .3 .1-2.1 0-1.9 .1-2.2 .1-.3 0-.5 .1-2.3 0-1.5 .1-.5 .1-2.9 0-.6 .1-1.1 .1-2.5 .1-1.5 0-.7 .1-1.7 .1-1.5 0-1.1 .1-1.4 .1-2.2 .1-1.1 0-.5 .1-.8 .1-1.3 .1-3 0 .1 .1-1.6 .1-1.9 .1-.8 .1-1.1 .1-.6 .1-3.4 .1 .1 .1-1.5 .2-1.6 .1-.2 .2-1.2 .5-2.4 .2 1.1 .3 1.6 .2-.1 .1 3.2 .2 1.1 .1 1.3 .1 1.4 .1 2.4 .1 .1 .1 1.2 .1 2.9 .1-.3 .1 1.4 0 .8 .1 3.3 .1 .9 .1 1.5 0 1.1 .1 1.1 .1 .9 .1 1.4 0 2.4 .1 1.1 .1 2.6 0-.3 .1 1.6 .1 1.1 .1 3.2 0-.5 .1 3 .1 1.9 0 .3 .1 2.1 .1-.6 .1 2.7 0 .5 .1 2.7 .1 1.3 0 .8 .1 2.7 .1 .9 .1 .7 0 1.3 .1 .6 .1 2.4 .1 3.2 0-.7 .1 2.2 .1 .7 .1 2.3 .1 1.3 .1 1 .1 .3 .1 2.3 .1 2.7 .1 .5 .1 2.2 .2 .6 .1 .3 .1 3 .2 1.1 .1 .4 .1 1.2 .2 1.7 .1 .5 .2 1.7 .3 .8 .2-.4 .5 2.9 .5 .4 .5 .1 .5 .9 .5-.8 .5 .8 .5 .8 .5 .3 .2-.4 .3 1.7 .2 2.2 .1 .2 .2 .8 .1 1.6 .1 1.7 .2 1.1 .1 1.7 .1 .1 .1 1.7 .1 1.4 .1 1.6 .1 0 .1 2.7 .1 .6 0 3.5 .1 1.6 .1 1.7 .1 1 .1 .3 0 2.4 .1 .4 .1 2 0 .2 .1 1.7 0 2.2 .1 2.4 .1 0 0 3 .1 1.4 0-1.3 .1 2.3 0 .8 .1 2 0 1.1 .1 1.8 .1 2.2 0 1.4 .1 .9 0 1.3 .1 1.5 0 1.5 .1 1.8 0 1 .1 1.8 .1 .1 0 3 .1 2.1 0 .3 .1 .2 0 3.4 .1 .2 0-.1 .1 2.8 .1 2.1 0 1.3 .1 2 .1 .9 0 1 .1-.2 0 1.9 .1 2.2 .1 1.9 .1 .3 0 1.7 .1 2.1 .1-.5 .1 1.2 .1 2.9 .2 1.8 .1 .7 .1-.1 .2 2.9 .1 0 .2 2.3 .3 .3 .2 .9 .5 1.2 .5-.2 .5 2 .5 1.5 .5 .8 .3 1.5 .2-.7 .2 2 .3 .4 .3 0 .2 1.6 .2 .6 .3 1 .3 1.4 .2 1.7 .2-.1 .3 1.3 .3-.3 .2 2.1 .2 1.7 .3 .6 .3 .6 .2 .1 .2 .5 .3 1.5 .3-.1 .2 .8 .5 3.1 .5-.1 .5 3.3 .5-1.3 .5 2.5 .5-.3 .5 1.9 .5-.1 .5 1.5 .5 .5 .5 .3 .5 1.3 .5 1.2 .5-1.2 .5 1.5 .5-.3 .5 .2 .5 1.9 .5-3 .5 1.3 .5-.7 .5 1.3 .5 .2 .5 2 .5-1.3 .5 1.1 .5-.3 .5-1.2 .5 .7 .5 1 .5-1.2 .5 .1 .5 .1 .5-1.5 .5 .4 .5 .7 .5-.1 .5-1.4 .5 .2 .5-.3 .5-.5 .5 0 .5-1.1 .5-.8 .5-2 .5-.8 .5 0 .5-2.6 .5 .1 .5-2 .5-1.4 .5-.2 .5-2.3 .5-1.4 .5-1 .5-.4 .5 .9 .5-3.8 .5 1.3 .5-.2 .5 1.2 .5-.5 .5-.5 .5 3.6 .5-.7 .5 2 .5 .4 .5 1.6 .5 1.8 .5 2.3 .5 1.4 .5 .1 .5 2 .5 .4 .5 1.4 .5 .9 .5 1.1 .5-.3 .5 1 .5 .8 .5 .3 .5-.3 .5 2.2 .5-1.4 .5 1.1 .5-.2 .5 .9 .5-2.5 .5 3.3 .5-1.6 .5-.7 .5 1.1 .5 1.6 .5-1.2 .5-1.3 .5 .6 .5 1.4 .5-2 .5 .9 .5 0 .5 1.8 .5-1.8 .5 1.2 .5-1.4 .5-.1 .5 1.4 .5-.3 .5-1.7 .5 1.8 .5 0 .5-1 .5 .7 .5 0 .5-.5 .5-.1 .5 0 .5 .3 .5-.8 .5 1 .5-1.1 .5 1.2 .5-.1 .5-.7 .5 1.4 .5 .8 .5-.4 .5-2 .5 2 .5-.8 .5-.2 .5-.4 .5 .4 .5 1.1 .5-.6 .5-.8 .5-.1 .5 .2 .5 .7 .5 1 .5-2.2 .5 .8 .5-.3 .5-.3 .5 .9 .5 .1 .5-1.4 .5 .3 .5 1.6 .5-.6 .5 .1 .5-.7 .5 .1 .5 .6 .5-.7 .5-.5 .5 .9 .5 .6 .5-1.4 .5 1.6 .5-.3 .5-1.2 .5 .7 .5 0 .5 .5 .5 0 .5-1.5 .5 0 .5 1.8 .5-.7 .5 .2 .5 0 .5 .9 .5-2.1 .5 1.7 .5-1.4 .5 1.2 .5 .4 .5-2 .5 1.3 .5-.5 .5 0 .5 .3 .5-.8 .5 0 .5 1.2 .5 .2 .5-1.1 .5-.6 .5 2.7 .5-.9 .5-.5 .5-1 .5 .3 .5 .6 .5-.9 .5 1.9 .5-1.1 .5 .2 .5-1.1 .5 .1 .5 .1 .5 .8 .5-.4 .5 0 .5 .4 .5-.1 .5 1 .5-1.3 .5-.6 .5 .7 .5 1.1 .5-1.5 .5 .5 .5-.3 .5 .5 .5-.1 .5-.8 .5 .4 .5 .9 .5 .1 .5-.1 .5-.1 .5-.9 .5 0 .5 .9 .5-1.5 .5 .8 .5-1.3 .5 1.1 .5-.3 .5-.4 .5 1.3 .5-.9 .5 .2 .5 .1 .5-.4 .5 1.6 .5-1.4 .5 .5 .5-1.1 .5 .6 .5 .1 .5 0 .5-.2 .5 .5 .5 1.1 .5-1.3 .5 0 .5-.2 .5 1.9 .5-.5 .5-.7 .5 0 .5-1 .5 .4 .5 .2 .5 0 .5-.8 .5 .1 .5 .9 .5-.1 .5-1.8 .5 1.6 .5 .8 .5-1.4 .5 .6 .5-1.2 .5 1.6 .5-1.4 .5-.2 .5 .7 .5 1.9 .5-2.2 .5-.5 .5 1.3 .5-.2 .5 1 .5-2.2 .5-.3 .5 1 .5 .4 .5 0 .5 .5 .5-2 .5 .5 .5 .4 .5 .7 .5-.3 .5-.8 .5-.5 .5 1.3 .5 0 .5 .8 .5-1.9 .5 1.1 .5-2.3 .5 .2 .5-.5 .5-.3 .5-.9 .5-.4 .5-.5 .5-1.4 .5-.5 .2-1.3 .3-.7 .3 .2 .2-1.8 .2-1.2 .3-1.2 .3-1.2 .2-.8 .2-2.4 .3 0 .2-.7 .1-1.3 .2-2.3 .2-1.9 .1-.2 .2-.8 .2-.6 .1-2 .2-1.3 .2 .1 .1-2.8 .2 0 .2-1.4 .1-3 .2-.1 .2-1.9 .1-1.6 .2-1.9 .2-1.1 .1 .2 .2-1.8 .2-.7 .1-2.2 .2-.6 .2-1 .1-2 .2-1.1 .2 .1 .3-1.4 .3-1.9 .2-.3 .5-.8 .5 .4 .5-1.6 .5 2.3 .2 2 .3-.5 .3 2.2 .2-1.3 .2 3.6 .1 0 .2-.4 .2 3.1 .1 1.3 .2 1.3 .2 1.2 .1 .3 .2 .7 .2 1.4 .1 1.5 .2 1.6 .2 .6 .1 1.6 .2 1.8 .2 .8 .1 2.6 .2 1.1 .2-1.4 .1 1.6 .2 .5 .3 1.6 .2 2.7 .2 .2 .3 1.2 .3 1.7 .2 1.9 .2 0 .3 .8 .5 2.2 .5 .4 .5 .2 .5 0 .5-2.3 .5-.4 .3-1.5 .2 .3 .2-1.3 .3-2.5 .3 .4 .2-3.3 .2 .8 .1-1.8 .2-1.9 .2-1.2 .1-.6 .2-.9 .2-1.8 .1-.2 .2-2.7 .2-.3 .1-1.2 .2-2.7 .2 .4 .1-2.5 .2-2 .2 0 .1-1 .2-.4 .2-2.2 .1 .2 .2-1.1 .2-1.4 .1-.9 .2-1.7 .2-2.1 .3-.3 .3-.9 .2-1.4 .5-1.6 .5-1.4 .5 2.2 .5 1 .2-.2 .3 2.1 .3 1.8 .2 .8 .2 1.7 .1 1.1 .2-.5 .2 2 .1 1.8 .2 1.6 .2 1.6 .1-1.2 .2 2.7 .2 1.9 .1 1.7 .2 1.7 .2-.6 .1 1.8 .2 .8 .2 2.7 .1-.3 .2 3.1 .2 1.1 .1 .9 .2-.8 .2 2.3 .1 2.2 .2-.4 .2 1.9 .1 1.2 .2 1.8 .3 1 .2 1.4 .2 .7 .3 1.6 .3 1 .2 1.7 .2 .4 .3 1.8 .3-1.2 .2 2.9 .5 .3 .5 2.1 .5 .1 .5 1.3 .5 1.1 .5-1.1 .5 .8 .5 .2 .5 .5 .5-1.2 .5 1.2 .5 .1 .5-.3 .5 .5 .5-.9 .5 2.2 .5-.6 .5 1.1 .5-2 .5-.2 .5 1.1 .5-1.4 .5 1.5 .5-.7 .5 .3 .5 .5 .5-.2 .5 1.4 .5-.9 .5-1.4 .5 1.7 .5-1.7 .5 1.1 .5-1 .5 .3 .5 1.6 .5-1.4 .5 0 .5 .1 .5 .2 .5 1.3 .5-2 .5 0 .5 1.4 .5-1.6 .5 .9 .5 1.1 .5-.8 .5-.4 .5-.2 .5-.1 .5 .2 .5 .6 .5 .8 .5-.2 .5-1.1 .5-.2 .5 1.1 .5-1.9 .5 1.1 .5 0 .5-.5 .5 0 .5 1 .5-1.4 .5 .5 .5 .2 .5 .5 .5-1 .5 1.8 .5-1.1 .5 .1 .5-.1 .5-.2 .5-.3 .5 1.6 .5-.7 .5-.2 .5 .8 .5-1.3 .5 1 .5-.5 .5-.7 .5 1.2 .5-1.7 .5 1.5 .5-1.2 .5 .7 .5 .1 .5-1.9 .2-1.8 .3-.6 .3-1.5 .2-1.9 .2-1 .3 .1 .5 .6 .2-.8 .3 2.4 .3 1.7 .2 .9 .2 .2 .3 2.4 .5-.6 .5 1.9 .5 .9 .5-2.6 .5 1.7 .5 .1 .5 0 .5-.7 .5 .3 .5-.8 .5 1.2 .5 .3 .5-.9 .5-.2 .5 .3 .5 .4 .5 0 .5-.1 .5 .1 .5-1 .5-.6 .5 2 .5 .6 .5-2.1 .5 .6 .5 .7 .5 .5 .5-.3 .5 .5 .5-1 .5 .4 .5 0 .5-.7 .5 1.2 .5-.4 .5 .3 .5-1 .5 1 .5-1.5 .5 1 .5-1.8 .5 .8 .5 1.3 .5-.9 .5 .4 .5-1.3 .5 2.3 .5-.7 .5-.4 .5 .3 .5-.1 .5 .8 .5-.8 .5-1.3 .5 .9 .5 1.1 .5-.5 .5-.7 .5 .7 .5-.3 .5 .3 .5-1.6 .5 .5 .5 1.1 .5-.6 .5 .4 .5 1.2 .5-1.7 .5 .4 .5-.6 .5 0 .5 .4 .5-1 .5-.5 .5 2.6 .5-1.1 .5 .9 .5-.8 .5 .1 .5 .3 .5 .1 .5-1.4 .5 1.7 .5-1.6 .5 .9 .5 1.6 .5-1.7 .5 1.2 .5-1.5 .5 .7 .5-.4 .5 .2 .5-.2 .5 0 .5 0 .5 0" stroke="#FF6060"/>
<path d="M45.5 78.0l0 413.4 0 2.1 0 2.9 0 2.8 0 3.8 0 2.5 .1 3.3 0 2.5 0 4.3 0 1 0 1.6 0 4.1 0 2.5 0 2.7 0 1.2 0 4.5 0 1.6 0 2.4 .1 1.2 0 3.8 0 1.9 0 3.3 0 1 0 1.6 0 3.1 0 1.4 0 3.1 0 1 0 2.7 0 1.9 .1 2.2 0 1.6 0 1.7 0 2.5 0 1.5 0 2.3 0 1.6 0 .4 0 3.3 0 2.8 0 1 0 1.9 .1 1.6 0 1 0 1 0 3.2 0 1.7 0 1.3 0 1.4 0 1.5 0 1.2 0 1.8 0 1.3 0 1.6 .1 .6 0 1.6 0 2.3 0 .7 0 .1 0 3 0-.3 0 5 0 1.2 0 1.9 .1 1 0 1.6 0 2.5 0 2 0 1.3 0 2.4 0 2.1 0 1.7 .1 .5 0 .8 0 3.2 0 1.1 0 2.4 0 2.4 0 1.5 0 .5 .1 2.1 0 1.8 0 .3 0 1.5 0 1.8 0 .7 0 1 0 1.1 .1 1.9 0 .8 0 2.2 0 .4 0 2.5 0 1 0-.6 0 2.8 .1 .1 0 2.4 0 .5 0 .6 0 2.4 0 .9 .1 2.4 0 1.8 0 1.3 0 2 .1 .6 0 2.7 0 .2 0 2.8 .1 1.4 0 1.5 0 .5 0 3.4 0-.5 .1 1.5 0 .6 0 2.8 0-.2 .1 2.2 0-.2 0 2 0 1.3 .1 2.7 0 .8 .1 1.2 0 2.5 0 .4 .1 1.6 0 2.6 0-.5 .1 3.2 0 .4 .1 .9 0 2 .1 1.9 0 .7 .1 1.8 0 2.1 .1 1.4 0 .7 .1 .8 0 1 .1 1.4 .1 2.6 .1 1.5 0 1.2 .1 2.2 .1 .1 .1 1.1 .1 1.4 .1 2.9 .1-1.6 .1 2.8 .1 1.2 .1 1 .1 2.8 .2 .2 .1 .8 .2 0 .1 2.1 .2 .5 .2 1.7 .3 1.4 .3 .6 .2 1.8 .2 1.6 .3 .4 .5 .8 .5-.4 .5 3.1 .5 .9 .5-.2 .5 .4 .5 1.3 .5-.6 .5 1.5 .5-.9 .5 .4 .5 .9 .5-.8 .5 1.3 .5 .6 .5-1.1 .5 1.7 .5-.9 .5 .9 .5-.1 .5-.3 .5 0 .5-.7 .5 .8 .5 0 .5 1.8 .5-.4 .5-1.6 .5 1.6 .5-.3 .5-.4 .5 .6 .5 .3 .5-.9 .5 .2 .5 .4 .5-.8 .5 .9 .5-.2 .5-.4 .5 0 .5 .8 .5 .4 .5-.3 .5-.9 .5 1.2 .5-.4 .5 .3 .5 .4 .5-1.4 .5 .6 .5-.3 .5-.2 .5 2 .5-.7 .5-1.9 .5 1.6 .5-.7 .5 1.2 .5-.7 .5-.2 .5 .2 .5 .2 .5-.2 .5-.2 .5 .1 .5 .4 .5-1.1 .5 .8 .5-.1 .5-.2 .5 .8 .5-1.4 .5 .7 .5-.4 .5 1 .5-.7 .5 .4 .5 .2 .5-1.4 .5 1.5 .5-.9 .5 .4 .5 .1 .5 .6 .5 0 .5 .7 .5-1.1 .5-.4 .5-.1 .5 .9 .5 .6 .5-.9 .5-.6 .5 .6 .5 0 .5-.2 .5-.5 .5-1.1 .5 1.2 .5 1.2 .5-.6 .5-1.7 .5 1.5 .5-1.3 .5 2.7 .5-1.2 .5-1 .5 1.4 .5-1.1 .5 .9 .5-.4 .5-.9 .5 1.2 .5-1.7 .5 1.4 .5-1.6 .5-1.1 .5-.2 .5 3.1 .5 .4 .5-1.6 .5 2.1 .5-1 .5-.2 .5 .1 .5-.1 .5 1.1 .5-.8 .5-1.4 .5 2.7 .5-.8 .5-1.4 .5 .5 .5-.4 .5 .7 .5 .2 .5-.1 .5-.5 .5-.2 .5 1.2 .5-.7 .5 1.7 .5-2.2 .5 1.1 .5-.5 .5-.6 .5 1.5 .5-.8 .5-.7 .5 .4 .5 .9 .5-1.6 .5 1.8 .5-.4 .5-.7 .5 1.1 .5 .3 .5-.8 .5-.3 .5 1.2 .5-.3 .5-1.7 .5 .5 .5 0 .5-.1 .5-.8 .5 1.7 .5-.6 .5 0 .5 1 .5-1.4 .5 .3 .5 .3 .5-.5 .5 .2 .5 .6 .5-.5 .5 .9 .5-1.5 .5 .7 .5-1.1 .5 .9 .5-.4 .5 1.4 .5-.4 .5-.2 .5 1 .5-.3 .5-.5 .5-1 .5-.5 .5 1 .5-.3 .5-.2 .5 .3 .5-1 .5 2.2 .5-1.8 .5 .3 .5 .9 .5-1.6 .5 1.8 .5 0 .5-.9 .5-.5 .5 .4 .5-.9 .5 2.2 .5-.9 .5-.6 .5-.1 .5 1.1 .5 .6 .5-1.9 .5 .5 .5-.9 .5 1.7 .5-.3 .5 1.5 .5-1.7 .5-.2 .5-.2 .5 1.1 .5-1.8 .5 1.7 .5-.4 .5-.5 .5-.3 .5 1.4 .5 .6 .5-1.7 .5 .7 .5 .9 .5-1.7 .5 .3 .5-.7 .5 .7 .5 .1 .5-.2 .5-.3 .5-.6 .5 .2 .5 .3 .5 1.1 .5-.8 .5-.3 .5 1.1 .5-.1 .5-.9 .5 .1 .5 .9 .5-.2 .5-.9 .5 .8 .5-.2 .5 .8 .5-1.4 .5 1.3 .5-.4 .5-1 .5 1.5 .5-.1 .5-1.6 .5 2.3 .5-2.2 .5 .2 .5 .4 .5 .8 .5-.2 .5-.4 .5 1 .5-.7 .5 .7 .5 .7 .5-1.5 .5-1.8 .5 1.3 .5-.5 .5 .9 .5 0 .5-1 .5 .1 .5 .6 .5 .1 .5-1.5 .5 2.3 .5-.7 .5 0 .5 .2 .5-.9 .5 .7 .5 .8 .5 0 .5-.5 .5-.5 .5-.4 .5 1.6 .5-.6 .5-.7 .5-1.3 .5 1 .5-.8 .5 2.3 .5-.8 .5-.6 .5 .3 .5 1.8 .5-.7 .5-1.9 .5 .9 .5-.8 .5-.4 .5 1.4 .5 1.5 .5-.5 .5-1.1 .5-.3 .5 .4 .5 .6 .5-1.8 .5-.3 .5 2.8 .5-1.2 .5 1 .5-1 .5 .9 .5-1.6 .5 .8 .5 .8 .5-.4 .5-1.1 .5 1 .5-1.1 .5-.6 .5 1.5 .5 .6 .5-.4 .5-1.6 .5 1.6 .5-.1 .5-.9 .5-1.3 .5 2.4 .5-.1 .5-.3 .5-1.6 .5 .1 .5 1.9 .5-.2 .5-.2 .5-.5 .5 .4 .5-.7 .5 .2 .5-.4 .5 .8 .5-.5 .5 1 .5-.1 .5-1.2 .5 2 .5-2.2 .5 1.2 .5 .4 .5 .2 .5-2.6 .5 2.4 .5 .1 .5 .2 .5-2.7 .5 1.1 .5 .4 .5-.2 .5 1.3 .5-1.5 .5 1.4 .5-.5 .5-1.5 .5 .3 .5 .4 .5 .5 .5 .6 .5-.9 .5 .9 .5-1.9 .5-.5 .5 1.4 .5 .6 .5-.6 .5-.5 .5 1.1 .5 1.1 .5-1.5 .5-.5 .5-.1 .5 2.1 .5-1.5 .5 .5 .5 .4 .5-.1 .5-1.5 .5 1.4 .5-.1 .5-.3 .5 .4 .5-1.2 .5 .3 .5-.3 .5 .9 .5-1.1 .5 .8 .5-1.2 .5 .7 .5-.2 .5 .1 .5 .2 .5-.4 .5-.1 .5-1.5 .5 2.3 .5-1.5 .5 .1 .5-.6 .5 1.2 .5-1.7 .5 .8 .5 .3 .5 .1 .5-.6 .5-.7 .5-1.6 .5 1.6 .5-.2 .5-.4 .5-.1 .5-.5 .5-.4 .5 1.3 .5 .4 .5-1.6 .5 1.8 .5-.3 .5 .8 .5-.2 .5 .8 .5 .2 .5 .1 .5-1.5 .5 1.9 .5-.5 .5-.7 .5 1.5 .5-1.4 .5 1.7 .5 .7 .5-1.6 .5 1.1 .5-.3 .5 .2 .5-1.4 .5 1.5 .5-.4 .5 .5 .5-.5 .5 .8 .5-.6 .5 .3 .5 .5 .5-.8 .5 .6 .5-.6 .5 .2 .5-.7 .5 .9 .5 .4 .5-1 .5 .7 .5-.3 .5-1.1 .5 1.1 .5 .7 .5-1.4 .5-.9 .5 1.5 .5-.7 .5 1.9 .5-1.4 .5 0 .5-.5 .5 .7 .5-.6 .5-.2 .5 .6 .5-.6 .5 1.6 .5-1.8 .5 .8 .5-.5 .5-.5 .5 2.2 .5-2.7 .5 2.6 .5-2.1 .5 1.1 .5 1.6 .5-3.2 .5 .5 .5 2 .5-.8 .5-.6 .5 .4 .5-.7 .5 .8 .5 1 .5-1.4 .5 .4 .5 .8 .5 .6 .5-1.9 .5 .6 .5-.6 .5 0 .5 .1 .5-.1 .5-.8 .5-.2 .5 .9 .5 .6 .5 .8 .5-1.3 .5 .3 .5 .6 .5 .1 .5-.7 .5 .1 .5 1.4 .5-1.6 .5-.1 .5-.9 .5 1.5 .5-.5 .5 1.6 .5-1.6 .5 .8 .5 .1 .5 .5 .5-2.1 .5 2.1 .5-1.2 .5-.1 .5-.1 .5-.1 .5 .1 .5-1.5 .5 2.1 .5-.3 .5-.8 .5 .7 .5 1.6 .5-1.3 .5-.6 .5 1.6 .5-1.9 .5 .5 .5-.3 .5 .2 .5 .7 .5-.1 .5-.9 .5 .4 .5 .2 .5-.4 .5 .3 .5-.5 .5 0 .5 .5 .5-.8 .5 1.1 .5-.5 .5-.5 .5 .2 .5 .1 .5 .3 .5 .2 .5-.3 .5-.5 .5 1.7 .5-.4 .5-.5 .5 .6 .5-.5 .5-.4 .5 .2 .5 1.6 .5-.9 .5 0 .5-1 .5 .7 .5 1.2 .5-1.3 .5 .5 .5 .1 .5-.5 .5 .7 .5-1 .5 .2 .5-.8 .5 2.1 .5-1.4 .5-.2 .5 1 .5-1.4 .5 .4 .5-.6 .5 .6 .5-.3 .5 .7 .5-.5 .5-.4 .5 .2 .5 .2 .5-.3 .5 1 .5-.2 .5-.3 .5-1 .5 1.2 .5-1.3 .5 1.1 .5-.1 .5-.5 .5-.2 .5 .1 .5 2 .5-1.7 .5 .1 .5 .8 .5-.4 .5 .5 .5-1.7 .5 .1 .5 2.5 .5-1.7 .5-.2 .5 .3 .5 .6 .5-1.5 .5 1 .5-.2 .5 .5 .5-.3 .5-.6 .5-.2 .5-1 .5 2.3 .5-1.7 .5 .7 .5 1.5 .5-1.5 .5 .8 .5-.6 .5 .6 .5-.5 .5-.4 .5 1.4 .5-1.2 .5-.8 .5 .8 .5 .6 .5-1.2 .5 1.4 .5 0 .5 .9 .5-2 .5 1 .5-1.7 .5 .9 .5 .4 .5 .2 .5-.3 .5-.1 .5-.3 .5 .1 .5 .5 .5 .2 .5 .1 .5 .2 .5 .1 .5-2.1 .5 .9 .5 .3 .5-.4 .5 1.2 .5-.2 .5-.6 .5 .2 7.2-1.3 6.7-1.1 7-1.1 6.8-1.1 5.4-1.2 4.7-1.2 3.3-1.2 3.2-1.2 2.5-1.3 2.8-1.3 3.2-1.4 2.4-1.4 3.6-1.4 2.6-1.5 2-1.7 1.7-1.8 1.8-1.9 .8-1.9 1.3-2.1 1.1-2.2 .4-2.1 .6-2.1 .2-2.2 .3-2.7 .5-3.3 .5-4.2 .8-4.8 -.1-5.2 .8-5.4 .7-5.1 -.1-4.8 .4-4.6 .1-4.7 .4-5.1 .4-5.6 .5-6.3 .2-7 .1-7.2 .7-7.3 .4-7.2 .6-6.4 -.6-5.7 .9-6 -.2-7.3 .9-9.6 .2-12.8 .2-15.5 .4-16.6 .1-16.1 0-14 .4-11.7 .5-10.3 -.1-9.6 .2-9.1 0-9.3 .9-9.4 0-9.2 .2-9 .4-8.8 .2-8.6 .3-7.7 .4-6.7 0-7 .2-8.1 .2-10.5 -.4-14 .6-16.8 .6-17.8 .5-17 -.5-14.4 .4-11.2 .8-9.3 .3-8.2 .3-7.9 .8-8.4 .3-8.6 .2-8.2 1.2-8.4 .6-9.2 .7-10.6 .4-12.4 .1-13.9 .2-14.7 .1-14.8 0-14.2 .6-14.3 .6-15 .2-14.4 .5-13 -.3-10.3 -.5-7.3 .3-5 -.2-3.4 -.5-2.3 .5-2 2 0 2.3 0 2.1 0 2.4 0 1.4 0 .6 2 .1 2.3 .2 3.4 -.5 5 -.4 7.3 -.7 10.3 .6 12.7 -1.1 14.4 -.2 14.9 -.7 14.7 .1 15.2 -.8 16.4 .1 16.3 -.4 14.9 0 12.2 -.7 7.6 -.1 3.9 0 3 .4 5.2 -.9 10.3 .3 17.2 -.2 22 .3 24.3 .1 23.8 .1 20.7 .4 16.8 .5 14.7 .3 13.7 .6 13.8 .2 15 .8 16.3 .4 16.9 .6 17.3 .8 17.3 .5 17.2 .7 17.4 .8 17.7 0 17.5 1.4 16.8 .7 15.6 .8 14.6 .6 14 1.4 13 1 11.6 .7 9.8 .5 7.4 .7 5.3 .6 4 .8 3.8 .5 4.3 .5 5.1 .7 5.4 .9 5.2 .7 4.8 .5 4.2 .8 3.3 0 2.6 .2 2.2 .6 2 .3 2.3 .6 2.5 .2 2.6 1.4 2.5 .6 2.4 .7 2.1 .8 1.8 .5 1.5 .5 1.4 1.4 1.2 .5 1.1 1.6 1 1.6 .9 1 .8 2 .6 1.9 .7 2.9 .6 2.4 .5 2.8 .5 3.5 .4 2.8 .5 .3 1 .5-.5 .5 1.6 .5-.3 .5-1.5 .5 .4 .5-.4 .5 .9 .5 0 .5 .6 .5-.4 .5-1 .5 .6 .5 1.7 .5-.1 .5-.9 .5 .1 .5 0 .5 .2 .5-1.1 .5 1.9 .5-1.1 .5 .6 .5-1.7 .5 1.9 .5 .8 .5-2.5 .5 2.7 .5-.7 .5-.8 .5-.6 .5 2 .5-.6 .5 .3 .5-.6 .5-.4 .5 1.3 .5-1.3 .5 1.3 .5-1.8 .5 .6 .5-.4 .5 2 .5-2.2 .5 .5 .5 1.3 .5-.3 .5 1.4 .5-.2 .5-.9 .5 .1 .5-1.8 .5 .7 .5 .4 .5 .1 .5-.8 .5 .3 .5 .1 .5 1.3 .5-.4 .5-.6 .5 .1 .5 .4 .5-.7 .5 .3 .5-1 .5 1.7 .5 .2 .5-.4 .5 .1 .5-.1 .5 1.2 .5-1.3 .5-1.1 .5 .2 .5 1.3 .5 .2 .5-.2 .5 .1 .5-.5 .5-1.2 .5 .6 .5-.8 .5 1 .5-.7 .5 1 .5-.2 .5-1.2 .5 1.9 .5 0 .5-1.5 .5 1.1 .5 .4 .5-.7 .5 .8 .5-.5 .5 .6 .5-.6 .5-.2 .5 .4 .5 .2 .5-.3 .5-.5 .5-.3 .5 .3 .5-.1 .5 .5 .5 0 .5-.2 .5 .1 .5 .1 .5 1 .5-.3 .5-1.2 .5 .7 .5-.6 .5 .2 .5-.1 .5-.3 .5-.5 .5-.7 .5 1.8 .5 .7 .5-1.5 .5 1 .5-.6 .5 .5 .5-.8 .5 .4 .5 .1 .5-1.6 .5 1.8 .5-.2 .5-1.6 .5 2.1 .5-.5 .5 .2 .5 .1 .5-.6 .5-.4 .5 .4 .5 0 .5 2 .5-.3 .5-1.7 .5 0 .5 .6 .5 .2 .5-1 .5-.2 .5 2.1 .5-.6 .5-1.9 .5-.1 .5 .6 .5 .8 .5 .2 .5-.6 .5-.9 .5 1.3 .5 .3 .5-.5 .5-.3 .5 .7 .5-.4 .5-.8 .5 .9 .5-1 .5 1.6 .5-.3 .5-1.1 .5 .9 .5 .7 .5-2.4 .5 1.4 .5 1.3 .5-2.3 .5 1 .5-.9 .5 1 .5-1.6 .5 .4 .5 .8 .5 .5 .5 .2 .5 0 .5 .5 .5-.3 .5 0 .5-1.2 .5 .6 .5 1.8 .5 0 .5-1.1 .5-.1 .5 .2 .5-1 .5 1.7 .5-1.7 .5 .2 .5 1.7 .5-3.1 .5 1.8 .5-1.6 .5 .8 .5 .4 .5-.2 .5 .4 .5-.7 .5 .5 .5-.8 .5 .6 .5-.7 .5 1.5 .5-1.5 .5 1.5 .5-.8 .5 0 .5 1.1 .5-.7 .5-1.5 .5 1.7 .5-2 .5 1.9 .5-.5 .5-.8 .5 1.1 .5-.3 .5 1.7 .5-1.8 .5 1.8 .5-.4 .5-1.5 .5-.1 .5 1.5 .5-1 .5 .2 .5-.3 .5-.7 .5 .6 .5-.5 .5-.4 .5 .9 .5 1.6 .5-.1 .5-1.3 .5 .1 .5 .3 .5 .7 .5-.8 .5-.6 .5 .1 .5 1.1 .5 .8 .5-2.1 .5-1.1 .5 2.1 .5-.6 .5 .1 .5 .9 .5-.9 .5-1.1 .5-.4 .5 1.4 .5-.8 .5 1 .5-1.1 .5 .7 .5-.9 .5 .9 .5-.1 .5 .8 .5 .5 .5-1.1 .5-.5 .5 2.1 .5-1.2 .5 .2 .5 0 .5 .6 .5-.3 .5-.3 .5 .1 .5-1.2 .5 .2 .5 .3 .5 .2 .5-.1 .5 .2 .5-.2 .5-.3 .5-.9 .5 1.8 .5-.2 .5-1.1 .5 1.1 .5-.1 .5-.2 .5-1.5 .5 .5 .5 .5 .5 1.6 .5-1.8 .5 .3 .5-.5 .5 .4 .5 .7 .5-1.9 .5 0 .5 2.1 .5-.5 .5-.5 .5 1.2 .5 0 .5-2.3 .5 1.5 .5 .9 .5-1.3 .5 .2 .5 1 .5-.9 .5-.7 .5 .4 .5-.5 .5 1.4 .5-1.7 .5 2 .5-2 .5 1.3 .5-1.1 .5 .8 .5 1 .5 .1 .5 .1 .5-1 .5 .1 .5 .1 .5 .3 .5-.7 .5 1.1 .5-.6 .5 .6 .5-.5 .5 .2 .5-1.1 .5 .2 .5-.6 .5 .7 .5 .1 .5 .8 .5-1.6 .5 2.6 .5-1.7 .5 1 .5-.2 .5-2.4 .5 1.5 .5 1.3 .5-2.8 .5 2.2 .5-1.2 .5 .3 .5 .5 .5-1.6 .5 1.6 .5-.6 .5-.1 .5 1.1 .5 1.1 .5-1.4 .5 .2 .5-.5 .5-.5 .5 .7 .5 1 .5-1 .5 .5 .5-.8 .5 1.8 .5-2.9 .5 1.7 .5-.1 .5-.2 .5-1 .5 0 .5 .6 .5 .3 .5-1 .5 .1 .5 1.2 .5 .4 .5-1.2 .5-.1 .5 0 .5 2.2 .5-1.3 .5-.4 .5 .8 .5 .9 .5-.8 .5-2 .5 1 .5-.2 .5 0 1.2-.4 1.8-.8 1.4-.7 1.7-.7 1.1-.4 .7-.3 .8-.5 1.2-1.3 1-1.7 .6-2.1 .5-3.1 -.3-5.1 1.1-7.6 .3-9.6 .4-10.6 0-10.2 .4-10 .1-10.4 1-10.1 -.3-9.5 -.1-8.2 .3-7.3 .2-7.6 .4-8.9 .3-10.9 .6-12.1 .8-12.6 .5-12.4 .3-12.8 .8-13.3 .1-12.3 .1-9.6 .2-7.7 .6-6.2 .4-2.7 .4 2.6 .4 9.5 -.1 15 .2 18.3 .6 19.2 .2 21.4 -.2 24 .3 23.9 .3 20.7 -.1 18.6 -.1 17.3 -.4 13.2 1 5.9 .1-4.3 .2-12.3 .1-15.2 .2-13.2 .6-11.5 .3-11.9 .7-10.2 -.2-6.4 1-1.6 .1 1.9 .6 4.3 -.2 5.4 .7 7 .4 9.1 0 9.7 -.2 9.2 .6 8.9 .5 9 -.1 8.4 .3 6.7 .8 4.6 0 3.2 .8 2.2 .2 2 .7 1.7 1.4 1.1 1.8 .9 .7 1.3 1.3 1.8 1.2 2.1 1 2.1 2 2 1.4 1.9 2 1.8 1.5 1.7 2.4 1.6 2.4 1.4 3.7 1.4 3.1 1.2 3.4 1.3 .3-.2 .5 0 .5 .5 .5 .8 .5-1.7 .5 1.1 .5-.7 .5-.1 .5 .9 .5-1.2 .5-.2 .5 1.3 .5-.5 .5-.2 .5 .1 .5 .4 .5-.6 .5 .8 .5-.2 .5 .8 .5-.2 .5-.3 .5-.8 .5 .3 .5-.6 .5 2.1 .5-1.8 .5 .6 .5 .6 .5-2.1 .5 .4 .5 .4 .5-.5 .5-.2 .5 .6 .5 1.3 .5-.4 .5-.5 .5 0 .5-1.3 .5 1.8 .5-.2 .5-1.2 .5 1 .5-.3 .5-.2 .5-.4 .5 .2 .5-.2 .5 1.1 .5-.1 .5 0 .5-.4 .5-.2 .5 1.9 .5-3 .5 2.3 .5-.6 .5-.2 .5-.4 .5 .2 .5-.8 .5-.1 .5 .9 .5-1.1 .5 1.9 .5 .2 .5-2.5 .5 .5 .5 1.3 .5 0 .5-.1 .5 .2 .5 .3 .5 .1 .5 .7 .5-1.4 .5 .7 .5-1.9 .5 1.1 .5-.8 .5 2 .5 .6 .5-1.3 .5-1.4 .5 .9 .5 .1 .5 .2 .5 .6 .5-.1 .5-2.3 .5 2.6 .5-1.4 .5 0 .5 1.5 .5-1.3 .5-.8 .5 0 .5 1 .5 .7 .5 .4 .5-1.2 .5-.3 .5 1.6 .5-1.5 .5 1.4 .5-.9 .5 0 .5-.4 .5 .4 .5-.6 .5-.1 .5 .4 .5-.4 .5 .7 .5-.1 .5-.3 .5 0 .5 0 .5 1.5 .5-1.3 .5-.5 .5 .3 .5 .7 .5-.7 .5 .1 .5-.1 .5 .3 .5 .2 .5 0 .5-1.6 .5 .5 .5-.9 .5 2.3 .5 .2 .5 .1 .5-.8 .5 .7 .5-.9 .5 0 .5-1.1 .5 .6 .5 .1 .5 1.2 .5 .5 .5-1.6 .5 .6 .5 0 .5-.8 .5-.7 .5 .7 .5-.5 .5 .8 .5 .1 .5 0 .5 0 .5 .5 .5-1.1 .5 1.4 .5-1.9 .5 1.3 .5 .2 .5-.9 .5-.6 .5 1.7 .5-1 .5 1.1 .5 0 .5-.6 .5 0 .5 .8 .5-.5 .5-1 .5 .9 .5 .2 .5-.2 .5 0 .5-.3 .5 0 .5-.6 .5-.3 .5 1.9 .5-1.4 .5 .7 .5-1.3 .5 1.2 .5-.7 .5 2.3 .5-2.4 .5 0 .5 1.4 .5 .2 .5-2.5 .5 1.8 .5 .5 .5-1.6 .5 1.4 .5-.9 .5-.3 .5 .4 .5 0 .5-.7 .5 2.7 .5-2 .5-.3 .5 1.2 .5-.7 .5 1.1 .5-1.2 .5 .5 .5-.2 .5 0 .5-.3 .5 .1 .5 1.3 .5-1.7 .5 .1 .5 .1 .5 .7 .5-.1 .5 .4 .5-1.7 .5 1.2 .5-.4 .5 0 .5 .3 .5-1.6 .5 1.7 .5-.1 .5-1.2 .5 1 .5 1.2 .5-1.4 .5 .7 .5-.6 .5-.4 .5-.1 .5 .4 .5 1.2 .5-.3 .5-1.2 .5 1.3 .5-.8 .5-.5 .5 .9 .5-1 .5-.5 .5 2.1 .5-2.3 .5 1.7 .5-1.5 .5 1.1 .5-.1 .5-.2 .5-1.3 .5 1.6 .5 0 .5-.6 .5 .6 .5 .8 .5-1.3 .5 .7 .5-1 .5 1.1 .5 .2 .5 1.2 .5-1 .5-.4 .5 .8 .5-1.8 .5 1.5 .5-1.2 .5 0 .5 1.2 .5-.6 .5 .8 .5-2.1 .5 1.3 .5-.6 .5 .2 .5-1.2 .5 2.1 .5-.6 .5-.8 .5-.3 .5 .3 .5 1.7 .5-1.1 .5-.2 .5 .6 .5-.3 .5 .1 .5 .4 .5-.3 .5 .4 .5-1.5 .5 .9 .5-.3 .5 .3 .5-.1 .5-.4 .5 .2 .5 .9 .5-1.1 .5-.5 .5 1.3 .5 .3 .5-.9 .5 .3 .5-.8 .5 .5 .5 1 .5-.3 .5-.5 .5-.3 .5-1 .5 1.4 .5 0 .5 .4 .5 .7 .5-1.3 .5 .4 .5-1.6 .5 1.6 .5-.4 .5 .2 .5-.6 .5-.3 .5 .6 .5-1.8 .5 .8 .5 .1 .5-1.6 .5-.4 .5 1 .5-.4 .5 .2 .5-.1 .5-1 .5 .8 .5 .6 .5-1 .5 .2 .5-.5 .5 1.7 .5 1 .5-2.3 .5 1.8 .5 .3 .5-.9 .5 .3 .5-.3 .5 .3 .5 .8 .5 .5 .5-.3 .5 .6 .5-.4 .5-1 .5 2 .5-.2 .5-1.3 .5 1.8 .5-.9 .5-.2 .5 1.3 .5-3.1 .5 .5 .5 1.8 .5-.7 .5-.5 .5 1.8 .5-.8 .5-1.3 .5 .5 .5 1.1 .5 .7 .5-2.8 .5 1.7 .5-.5 .5-1 .5 1.2 .5-1.1 .5 .8 .5 1.6 .5-.8 .5 .2 .5-.1 .5-.2 .5 .4 .5-1.5 .5 .6 .5 .8 .5-1.1 .5 .2 .5 1.2 .5 .2 .5-1.5 .5-.2 .5 1.1 .5-.3 .5-.7 .5 1 .5-.1 .5-.3 .5 1.6 .5-.7 .5-.4 .5 .2 .5 .9 .5-.9 .5-1.3 .5 .8 .5-.2 .5-.5 .5 .6 .5 0 .5-.2 .5-.3 .5 .9 .5-1.7 .5 1.7 .5-.6 .5 .2 .5-1.9 .5 2.9 .5-2.5 .5 .7 .5 1.1 .5-.9 .5 .1 .5-1.3 .5 1.3 .5 .5 .5 .3 .5-.7 .5 .3 .5 .2 .5-.8 .5-.1 .5 2 .5-2.1 .5 1.6 .5-.9 .5 1 .5-1.6 .5 .9 .5-.2 .5-.4 .5 .3 .5-.8 .5 .4 .5-.4 .5 .6 .5-.9 .5-1.4 .5 .3 .5-.3 .5-1 .5 1.5 .5-.5 .5 .7 .5-.7 .5 .7 .5 1.5 .5-1.5 .5 1.5 .5 0 .5-.3 .5 .4 .5-.8 .5 1 .5-1 .5 0 .5 1.9 .5-1.5 .5-1 .5 2.3 .5-1.3 .5-1.1 .5 1.6 .5 .7 .5-.4 .5 1 .5-1.3 .5 .5 .5-1.2 .5 .9 .5 1 .5-.8 .5-.2 .5-1.6 .5 1.2 .5-.7 .5 1.5 .5-1.1 .5 .8 .5-1 .5 2.2 .5-2.3 .5 1 .5 1.5 .5-1.5 .5-.8 .5 1.1 .5 .3 .5-.1 .5-2.1 .5 1.6 .5-1.7 .5 3 .5-1.4 .5-.4 .5 .9 .5-.2 .5-1.2 .5 2.1 .5-1.4 .5-1.1 .5 2.3 .5 .1 .5-.2 .5-.5 .5-1.1 .5 1.4 .5 .6 .5-.7 .5 .5 .5-1.7 .5 1.3 .5 0 .5-1.8 .5-.2 .5 .7 .5 .6 .5 .3 .5-.5 .5 .1 .5 0 .5 .1 .5 .4 .5-.1 .5-.4 .5 .2 .5-.5 .5 .9 .5-.9 .5 1.6 .5-1.3 .5 .2 .5-.7 .5 .3 .5 .4 .5-.1 .5-.5 .5-.4 .5 .9 .5 .1 .5 .2 .5-.4 .5 0 .5 0 .5 0" stroke="#FF0000"/>
<path d="M45.5 78.0l0 575.4 .1 3.7 0 1.5 .1 .8 0 1.5 .1 1.9 0 .1 0 2.9 .1 .6 0 2.7 .1-1.1 0 2.5 .1 .5 .1 2.8 0-.1 .1 2.6 .1 .2 .1 .7 .2 2.3 .1 1.9 .2 1.2 .2 2.3 .3 .6 .3-1.3 .2 2.1 .5 0 .5 2.1 .5 1.3 .5-1 .5 .5 .5 1.3 .5-.1 .5 1.6 .5-.8 .5 .3 .5 1.1 .5-1.6 .5 .4 .5-.6 .5 1 .5 .6 .5 .3 .5-1 .5-.5 .5 0 .5-.4 .5 1.1 .5 1 .5-2.7 .5 .1 .5 2.7 .5-2.3 .5 1.5 .5-1.2 .5 1.6 .5 0 .5-.5 .5 .5 .5-.5 .5 .4 .5 .9 .5-.5 .5-1.3 .5-.1 .5 .4 .5 0 .5 .2 .5-.5 .5 1 .5-.5 .5 .3 .5-.3 .5 .5 .5-1.4 .5 2.1 .5-.9 .5 .1 .5 .1 .5 .3 .5-.2 .5-.4 .5-.3 .5-1.1 .5 1.4 .5-.4 .5 0 .5 1.8 .5-2.9 .5 1.4 .5 .9 .5-.2 .5 .2 .5-1.9 .5 .2 .5 1.2 .5-.7 .5 1.6 .5-1.2 .5 0 .5 .2 .5-.5 .5 .3 .5-.6 .5 .4 .5-.3 .5 .6 .5-1.3 .5 0 .5 1.4 .5-.2 .5-.8 .5 .5 .5-.6 .5 2.3 .5-2.7 .5 2.5 .5-1.9 .5 .9 .5-.5 .5-.1 .5 1 .5-.1 .5-.8 .5-.5 .5 2.2 .5-.5 .5-.9 .5-.3 .5 .4 .5-.2 .5 .9 .5-1.7 .5 .8 .5-.6 .5 1.5 .5 .4 .5-1.4 .5 .5 .5 .6 .5-1.3 .5-.5 .5 1.5 .5-.4 .5-.6 .5 1.2 .5-1.2 .5-2 .5 .5 .5-1.6 .5 .8 .5-.7 .5 1.1 .5 1.6 .5 .4 .5-1.1 .5 1.2 .5-.3 .5 1.4 .5 .5 .5-2.4 .5 .1 .5 .1 .5 .2 .5-.1 .5 .6 .5 .8 .5-1.8 .5-.2 .5-.2 .5 2.2 .5 .2 .5-2.2 .5-.1 .5 1.4 .5 .7 .5-.1 .5-.6 .5 .4 .5-.3 .5-.6 .5 1.8 .5-1.4 .5-.9 .5 .5 .5-.8 .5 1.2 .5 .8 .5-1.8 .5 1.8 .5 .7 .5-1.2 .5-1.2 .5 .2 .5 .4 .5-.7 .5 0 .5 .8 .5 0 .5 .6 .5-1.3 .5 2.3 .5-.6 .5-.2 .5-1.1 .5 1.8 .5-1.6 .5 1.6 .5-.5 .5-1.5 .5 .3 .5 1.8 .5-.7 .5-.9 .5 .3 .5 0 .5-.7 .5 .4 .5-.3 .5 .1 .5 .7 .5-1.1 .5 1.3 .5-.5 .5 .5 .5 .1 .5 .3 .5-.5 .5 .1 .5-.7 .5 .6 .5-1.1 .5 .5 .5 .7 .5-.6 .5 .4 .5-1.1 .5 1.8 .5-1.5 .5 .7 .5-.3 .5 .7 .5-.9 .5-.5 .5-.7 .5 1.2 .5-.7 .5 1.3 .5 .7 .5-2.7 .5 .7 .5 1.2 .5 .7 .5-.7 .5 0 .5 .1 .5 .1 .5 .8 .5-.8 .5-1.4 .5 .6 .5 .5 .5-.8 .5 .4 .5-.2 .5-.1 .5 1.1 .5-.9 .5-.5 .5 .3 .5 .6 .5 1.5 .5-1.4 .5 .9 .5-.7 .5-2 .5 1.9 .5-.9 .5-.4 .5 .2 .5 2.2 .5-2.6 .5 .8 .5 1.3 .5-.4 .5-1.8 .5 1.2 .5-.3 .5 .3 .5 .7 .5-1 .5 .2 .5 1.3 .5-2.5 .5 1.1 .5 .7 .5-1.3 .5 .4 .5-.5 .5 1.1 .5-.6 .5 1.1 .5 .2 .5-.8 .5-.3 .5 .5 .5-.2 .5-.9 .5 1.7 .5-.6 .5 .4 .5-1.6 .5 1.7 .5 .9 .5-1.1 .5-1.6 .5 1.1 .5-.1 .5 .3 .5-.4 .5 .6 .5-.8 .5 .6 .5-.7 .5 .6 .5 .6 .5-1.1 .5 .9 .5-1.2 .5 .4 .5 .1 .5 1.1 .5-1.5 .5 1.5 .5-2 .5 1 .5 .8 .5-.2 .5-1.3 .5-.2 .5 1.6 .5-1.6 .5 1.4 .5-.8 .5 .4 .5 1.5 .5-.4 .5-.5 .5-1.7 .5 1.3 .5-.2 .5-.1 .5 1.1 .5-2.4 .5 1.6 .5-.2 .5-.6 .5 1.9 .5-2.3 .5 1 .5 0 .5-1.7 .5 .5 .5 .4 .5 1.3 .5 .1 .5-.2 .5-.3 .5-1.8 .5 1.8 .5-.6 .5 1.3 .5 .1 .5 .6 .5-1.1 .5 .1 .5-1.4 .5 .9 .5-1 .5 1.6 .5-1.6 .5 .7 .5-.4 .5 .2 .5 .7 .5-.8 .5 .6 .5-.9 .5 1.8 .5-1.5 .5 1.2 .5 .8 .5-3.3 .5 1 .5 .6 .5 1 .5-1.3 .5 .7 .5-.9 .5 1 .5-1.3 .5 1.5 .5-2.3 .5 .2 .5 2.8 .5-1.2 .5-.9 .5 2.3 .5-.8 .5 0 .5-1.2 .5 .8 .5-.1 .5-1.7 .5 1.7 .5-.7 .5 1.1 .5-.1 .5-1.5 .5-.1 .5 .5 .5 .2 .5-1 .5 0 .5 .4 .5-.4 .5 .3 .5-1 .5-1.1 .5-1 .5 1.7 .5-1.2 .5-.3 .5-.1 .5-1.1 .5 .8 .5-1.3 .5 1.5 .5-.2 .5 2.3 .5-.8 .5-.3 .5 .6 .5 .7 .5-.9 .5 .6 .5 .1 .5 2.1 .5-1.4 .5-1.5 .5 2.2 .5 1 .5-2.3 .5 2.3 .5-1.7 .5 .7 .5-1.4 .5 0 .5-1 .5-.1 .5-1.2 .5 2.1 .5-2.2 .5 .7 .5-.5 .5-1.2 .5 0 .5-.6 .5-.7 .5 .1 .5-.2 .5-.9 .5-.1 .5 .5 .5 1.1 .5 1.4 .5 .6 .5-.4 .5 1 .5-.2 .5 1.3 .5-.3 .5 .6 .5-.2 .5 .6 .5 1.7 .5-2.1 .5 1.1 .5-.3 .5 1.4 .5 .8 .5-1.6 .5-1.4 .5 2.3 .5 0 .5-1.7 .5 1.1 .5 .2 .5-1.6 .5 2.2 .5-.1 .5-.1 .5-1 .5 .2 .5 .1 .5 .9 .5-1.1 .5 1.9 .5-.8 .5-2 .5 3 .5-1.2 .5-.5 .5 .5 .5-1.5 .5 1.6 .5-1.9 .5 .9 .5 1.9 .5-.1 .5-1.2 .5-.5 .5 1.5 .5-.8 .5 .2 .5 .3 .5-1.3 .5 1.5 .5-2.3 .5 2.8 .5-2.4 .5 .8 .5 0 .5 1 .5 .1 .5-.3 .5 .1 .5 0 .5-.5 .5-1.4 .5-.2 .5 0 .5 1.7 .5-.2 .5 .1 .5 .3 .5-.4 .5-.6 .5-.4 .5-.3 .5 2.4 .5-.2 .5-1.8 .5 .9 .5 .5 .5 .9 .5-1.7 .5 .6 .5 .8 .5-2.3 .5 .8 .5 .6 .5-.6 .5 2.2 .5-.9 .5-.5 .5-1 .5 1.5 .5-.2 .5-.9 .5 .1 .5-.8 .5 1 .5 .8 .5 .1 .5-.3 .5 .1 .5-1.1 .5 .1 .5 1.3 .5-.5 .5-1 .5 1 .5 .2 .5 0 .5-.5 .5-.5 .5 .7 .5 1 .5-1.2 .5-.6 .5 .8 .5-1.3 .5 1.2 .5-.4 .5 .9 .5-.6 .5 .7 .5 .8 .5-1.8 .5-.5 .5 1.1 .5-.5 .5 .2 .5-.6 .5 .9 .5-.4 .5-1.7 .5 1.5 .5 .5 .5 .6 .5-1.4 .5-.1 .5 1.5 .5-1.4 .5 .6 .5 .3 .5 .2 .5-.6 .5-.9 .5 1.7 .5-1.2 .5 0 .5 1.9 .5-.8 .5-1.5 .5 .4 .5 .2 .5-.4 .5-.9 .5 2.1 .5 0 .5-.4 .5-.5 .5 .4 .5 .4 .5-1.3 .5 .5 .5-.2 .5 1 .5-.3 .5-1.2 .5 .5 .5 1.8 .5-2.1 .5 .9 .5-.6 .5 1.4 .5-1 .5-.3 .5-.5 .5 .7 .5 .8 .5-.1 .5-1.6 .5 2.3 .5-1.4 .5-.7 .5 1 .5-.6 .5 0 .5 0 .5 .4 .5-.3 .5-1 .5 1.8 .5-.8 .5 1.3 .5-.5 .5 0 .5-.3 .5 .9 .5-1.3 .5-.5 .5 1 .5-1.9 .5 1.4 .5 .4 .5-.5 .5 1.3 .5-.4 .5-.5 .5-.4 .5 1.2 .5-1.4 .5 .2 .5 .9 .5-.1 .5 1.1 .5-1.7 .5-1.3 .5 2 .5 .4 .5-1.1 .5 1.4 .5 .1 .5-1.9 .5 .2 .5-.6 .5 1.4 .5 .1 .5-.1 .5-1.4 .5 .3 .5-.5 .5-.1 .5 .2 .5-.2 .5 1.1 .5 .5 .5 .1 .5-.5 .5-.5 .5 .5 .5 .5 .5-.7 .5 .3 .5-.3 .5-.2 .5 .5 .5-.9 .5 1.6 .5-2 .5 1.6 .5-1.4 .5 2.2 .5-.5 .5-1.3 .5 .3 .5-.6 .5 .9 .5 .3 .5 1.4 .5-2.7 .5 2 .5-1.4 .5 .6 .5 .5 .5-.3 .5-.1 5-.4 5.2-.1 5.2-.1 4.9-.2 3.3-.5 3.4-.8 2.2-1 2.1-1.2 1.8-1.2 2.2-1.1 1.9-1.1 1.2-1.2 .6-1.1 1.6-1.1 1.1-1 2-1.3 1.8-4.1 1.5-.6 1.7 2.7 1.3-.2 .9-.6 1.3-.5 1.8-.5 1.5-.6 1.6-.8 1.3-.9 2-1.1 1.9-1.1 2-1.2 1.2-1.2 .9-1.1 1.6-1 .7-1.2 .7-1.4 .3-1.8 .9-2.3 -.1-2.8 .3-3 .7-3.2 .4-3.2 .7-3.1 .7-3.1 .2-3.3 1-3.5 -.2-4 .8-3.8 -.1-3.6 .8-4.1 .4-5.6 .7-7.9 1.3-10.4 .7-12.3 1.9-13.9 1-15.3 1.2-16.1 .7-15.9 .1-15.9 .1-17.6 0-21.1 .7-26.5 .2-34.3 .7-41.1 .1-43.8 1.2-42.9 -.1-37.9 1.2-34.1 .3-32.7 .9-30 .4-25.5 .7-19.7 -.1-12.1 .2-5.6 -.4-1.6 -.1 .1 .6-.8 .3 0 1.9 0 1.2 0 .9 0 1.4 0 .2 2 .5 2.3 -.8 3.4 0 5 .1 7.3 -.3 10.3 1 12.7 0 14.4 1.1 14.9 .5 14.7 .1 15.2 0 16.4 1 16.3 .4 14.9 .5 12.2 -.1 7.6 -.2 3.9 .3 3 -.1 5.2 .9 10.3 -.3 17.8 .5 23.5 .7 25.3 .3 23.5 .8 17.9 .6 11.1 .5 6.8 .7 4.4 .9 3.7 .2 5 -.2 5.3 .4 4.5 .4 4.9 -.2 6.6 .5 9.7 .5 13.6 .6 16.8 .5 18.4 .7 18.7 .7 17.5 1.3 17.2 .9 17.8 2 17.2 .8 15.4 .9 12.4 1.1 8.6 .4 5.6 .5 3.7 .5 3.1 .4 3.7 .6 4.2 .7 4 1.1 3.7 .2 3.5 .6 3.2 .5 2.9 .8 2.6 .8 2.3 -.3 2.3 .9 2.3 .5 2.4 .3 2.4 .8 2.3 .2 2.2 1.4 2 .9 1.8 .9 1.7 2 1.6 1.4 1.5 1.7 1.4 1.2 1.3 2.4 1.2 2.1 1.2 2.5 1.1 2.3 1.2 .2 .3 .5 .1 .5 1.1 .5-.5 .5-.8 .5 1.1 .5-.5 .5 .4 .5 .8 .5-.2 .5 .7 .5-1.2 .5 3 .5-.6 .5-.3 .5-1.4 .5-.5 .5 1.1 .5 .6 .5 1.9 .5-.5 .5-1.4 .5 1.4 .5 .1 .5-.8 .5 1 .5-.6 .5-.7 .5-.4 .5 .9 .5 .9 .5-1.8 .5-.1 .5 1.6 .5-2 .5 3.1 .5-1.8 .5 .9 .5 .9 .5-2.6 .5 .3 .5 2.5 .5-2 .5 .1 .5 .2 .5 .6 .5 .1 .5-1 .5-.5 .5 .1 .5 .1 .5 .7 .5-1.1 .5 1.2 .5-2.2 .5 .9 .5 .8 .5-.5 .5-.8 .5-1 .5 .1 .5 .4 .5 .4 .5-.4 .5-.8 .5 .7 .5 1.1 .5 .4 .5-1.6 .5 1 .5-.8 .5 1 .5 2.2 .5-1.4 .5-.2 .5 0 .5-.4 .5-.4 .5 1.6 .5-.1 .5 1.4 .5-2.3 .5 1.7 .5 .7 .5-2.5 .5 2.1 .5-1.7 .5 1.7 .5 .7 .5-1.1 .5 .3 .5-.8 .5 .8 .5 .7 .5-1 .5 0 .5 .4 .5 .4 .5-1.9 .5 1.3 .5-.6 .5 .9 .5 .5 .5-.6 .5 .8 .5-1.8 .5 .5 .5-.5 .5 .8 .5 .1 .5-.3 .5-.7 .5 .8 .5-.3 .5 .8 .5-.6 .5 1.1 .5-.7 .5-1.7 .5 1.3 .5-.9 .5 1.8 .5 .4 .5-1.2 .5 .4 .5-1.5 .5-.5 .5 1.2 .5 .2 .5-1 .5 1.3 .5 .1 .5 .2 .5 .7 .5-.6 .5-.9 .5 .3 .5 .4 .5-1.3 .5 1.7 .5-.4 .5-.9 .5-.4 .5 2.1 .5-1.1 .5-.1 .5 .6 .5-.8 .5-.7 .5 .2 .5-1.4 .5 1.1 .5-1.9 .5 1.4 .5-.1 .5-1.8 .5 2.6 .5-2.5 .5 1.6 .5-1.3 .5 .6 .5-.8 .5 2.2 .5-.8 .5 .6 .5-.6 .5 0 .5-.3 .5-.1 .5 .8 .5-.2 .5 0 .5-.8 .5 1 .5 .8 .5-.7 .5 .8 .5-.3 .5-.6 .5 .2 .5 .2 .5 .4 .5 .1 .5 1.1 .5-1.6 .5-.7 .5 2.1 .5-.8 .5 .3 .5 1.7 .5-.5 .5-.6 .5 .3 .5-.6 .5 .6 .5-1.2 .5-.1 .5 .2 .5 1.6 .5 0 .5-1.7 .5 1.4 .5-1 .5 .9 .5-1 .5 1 .5-.9 .5-.1 .5 .2 .5 .1 .5-.5 .5-.6 .5 2.3 .5-1.6 .5-1.1 .5-.3 .5 0 .5 1.2 .5 1.5 .5-2.3 .5 1 .5-1.1 .5 2.2 .5-.6 .5 0 .5 .8 .5 .2 .5-.5 .5-1.3 .5-.5 .5 .1 .5-.5 .5 2.7 .5-1.6 .5 .2 .5 0 .5 1.3 .5-2 .5 1.3 .5-.8 .5-.4 .5-1.5 .5 2.1 .5-1.5 .5 .1 .5 .4 .5-.2 .5 .6 .5-1.6 .5 .5 .5-.1 .5-.3 .5 .4 .5-.9 .5 1 .5-1.5 .5-.7 .5 1.1 .5 1 .5-1.3 .5 0 .5 .3 .5 .5 .5-.1 .5 .6 .5-1.4 .5 2.6 .5-.5 .5-1 .5 1.9 .5-.6 .5 .9 .5-1.9 .5 2.3 .5-1.1 .5-1.6 .5 2.3 .5-.7 .5-.5 .5 .6 .5-1.2 .5 2 .5-.6 .5 0 .5 1.3 .5-1 .5-.6 .5-.2 .5 .7 .5 .9 .5-1.3 .5-.3 .5 1.5 .5-.6 .5-.1 .5 1.6 .5-2.5 .5 1.1 .5-1.5 .5 1.1 .5 .7 .5 .4 .5-1.8 .5 1.6 .5 0 .5-.7 .5 1.7 .5-1.6 .5-.7 .5 1 .5-1.8 .5 2.7 .5-.5 .5-1 .5 .7 .5 0 .5 1.1 .5-2 .5-.5 .5-.6 .5 1.3 .5-1 .5 1.1 .5 .5 .5-.7 .5-.4 .5 1.7 .5-1.1 .5 .3 .5 .6 .5-1.8 .5 .3 .5 2.3 .5-1.7 .5-.7 .5 .6 .5-.2 .5-.5 .5 .6 .5 .3 .5 0 .5 .4 .5-1.8 .5 .2 .5 1.8 .5-1 .5 1.3 .5-.7 .5-1.3 .5 1.5 .5-1.2 .5 .9 .5 .8 .5 .6 .5-1.6 .5 .6 .5-.4 .5 .4 .5-2.3 .5 1.4 .5 .5 .5 .1 .5-.9 .5 1.2 .5 .2 .5-.8 .5-.2 .5-.1 .5 .3 .5 .8 .5 .3 .5-1.6 .5-.3 .5 .1 .5 1.3 .5-.6 .5 .1 .5 .1 .5-.1 .5-.4 .5-.7 .5 .3 .5 .6 .5 .1 .5-.6 .5 0 .5 1.4 .5-1.5 .5 .5 .5-.4 .5-.4 .5-.6 .5 .8 .5-.3 .5 1.3 .5-1.6 .5 .6 .5 .8 .5-.7 .5 .5 .5 .2 .5-1.9 .5 .9 .5-.5 .5 1.7 .5-1.1 .5 .4 .5 .8 .5-1.6 .5 .2 .5 .2 .5-.7 .5 1.1 .5-.5 .5 0 .5-1 .5-.5 .5-.2 .5-.3 .5-1.2 .5 1.2 .5 .1 .5-1 .5-.7 .5 .1 .5-.1 .5-.2 .5 .9 .5-2.2 .5 .9 .5 .2 .5-.5 .5-.1 .5-.5 .5 .5 .5 1.1 .5 .7 .5-1.6 .5 .7 .5-.3 .5-.6 .3-1.3 .2-.8 .2-1 .3-3.2 .1-.1 .2-2.5 .1-1.4 .1-.5 .1-1.8 .1 .3 .1-1 .1-2.5 .1-1.5 .1-1.3 0-1.3 .1-1 .1-1.2 .1-2.1 0-1.7 .1-1.4 .1-.2 0-2.2 .1 .1 0-2.6 .1-.2 0-3.3 .1-1.1 0-.5 .1-1.5 .1-1.9 0 .3 0-2.9 .1-1.3 .1-2.1 0 .2 0-2.1 .1-1.8 .1-3.1 0-2 .1-.8 0-1 .1-2.7 0-.7 .1-.9 0-2 .1-1.8 0-2 .1-1.1 0-1.9 0 .2 .1-2 0-2.5 .1-.5 0-2.3 .1-2.1 0 1.2 .1-1.4 0-3.4 .1-.8 0-.6 .1-2 0-1.9 .1-1.3 0-1.3 .1-1.7 0-.8 .1-1.7 0-1.7 .1-.7 .1-3 .1 .6 .1-3.9 0-.2 .1-.9 .1-1.1 .2-1.9 .1-.4 .2-2.2 .3 1.3 .2 2.1 .1 .4 .1 1.1 0 2.6 .1-.2 .1 1.7 .1 1.7 .1 1.3 0 1.6 .1 1.1 .1 1.8 0 1.3 .1 1.7 0 2.2 .1-.1 .1 3.2 0-.1 .1 2.2 0 1 .1 1.1 0 .2 .1 4.1 0-.3 .1 1.3 .1 3 0 .8 .1 2.9 .1 1.3 0 .8 .1 1.1 0 1.7 .1-.2 .1 2.9 .1 1.6 0 1 .1 2 .1-.1 .1 3 .2 2.1 .1-.6 .2 1.8 .2 .9 .3-2.4 .1-2.1 .1-1.2 .1-.1 .1-1 .1-4 .1-.3 0-1.8 .1-.9 0-.9 .1-1.6 0-1.9 .1 .7 0-3.2 .1-1.6 0-.3 .1-2.1 0-1.5 .1-.5 0-2.8 .1-.1 0-1.2 .1-1.7 0-2 .1-1.3 0-2.7 0-.3 .1-1.1 0-1.1 .1-2 0-1.8 .1-1.8 0-.9 .1-1.3 0-.6 .1-2.3 0-1.8 .1-1.2 0-1.8 0-1.3 .1-2.9 .1-1 0-1.1 0-.1 .1-1.8 .1-1.1 0-.5 .1-3.3 .1-2.1 .1-2.2 .1 .3 0-3.4 .1-.8 .2-1.3 .1-.9 .2-1 .2-.9 .3 3.6 .1 1.2 .1 3 .1 .8 0 .6 .1 .8 .1 2.9 0 .1 .1 2.2 .1 1.4 0 .8 0 1.8 .1 1 .1 1.2 0 3 0 .8 .1 .8 0 1.1 .1 2.1 0 1.7 .1 1.7 0 1.9 .1 .8 0 .3 .1 3.9 0 .8 .1 1.3 0 1.9 0-.7 .1 2.3 0 1.3 .1 2.6 0-.3 0 2 .1 2.8 0 .8 .1 .6 0 3 .1-.9 0 2.6 0 1 .1 2.1 0 .8 .1 1.1 0 2.2 .1 .3 0 2.7 .1 .8 0 2.3 .1 .3 0 1.2 .1 2.4 0 2.1 .1-.9 0 3.1 .1 1.9 0-.1 .1 1.8 0 2.5 .1 .2 .1 1.8 0 3.3 .1-.4 .1 1.5 .1 .4 0 2.2 .1 1.1 .1 3.9 .1 1.2 .1-.3 .1 3.7 .1 .4 .1 .8 .2 2 .1 .9 .1 .2 .2 .5 .1 1.7 .2 1.6 .3 .8 .2 .6 .5 2.5 .5-.7 .5 2.1 .5-.4 .5 1.1 .5-.2 .5 1.6 .5 .2 .5 .1 .5 2.1 .5 .8 .5 1.4 .5 .4 .5-.2 .5 .9 .5-.5 .5 1.4 .5 2.4 .5 .6 .5 0 .5 .1 .5 .6 .5 .4 .5-1.3 .5 1 .5 1.8 .5 .3 .5-.4 .5-.2 .5 .2 .5 .1 .5-.1 .5-.5 .5 1.7 .5-.3 .5 .3 .5 1.6 .5-.7 .5-.8 .5 1.1 .5-1.5 .5 2 .5-.4 .5-.3 .5 .7 .5 .7 .5-1.3 .5-.4 .5 2.4 .5-1.5 .5 1.2 .5-1.6 .5 .9 .5-.8 .5 1 .5-.6 .5-.2 .5 1.6 .5-.8 .5-1.7 .5 1.3 .5-.5 .5-.2 .5 .5 .5 .1 .5 .4 .5-.6 .5-.8 .5 1 .5 1.1 .5-1.7 .5 1.5 .5-.1 .5-.7 .5 .5 .5-.8 .5 .2 .5-.6 .5 1 .5 .6 .5-1.7 .5 1.2 .5-2.7 .5 .6 .5-.3 .5 1.7 .5-2.1 .5 .6 .5-2.5 .5 1.1 .5 0 .5-.9 .5-1.9 .5 1.5 .5 .3 .5 .3 .5-.6 .5-1.4 .5 1.4 .5 1.2 .5-.9 .5 1.5 .5-.3 .5 .8 .5 1 .5-.7 .5 2.5 .5-1.2 .5 .4 .5-.6 .5 .9 .5-.1 .5-.7 .5 0 .5 1.5 .5-.2 .5-1.5 .5 .1 .5 1.4 .5 .2 .5 .6 .5-1.4 .5 1.4 .5-.6 .5-.1 .5 .3 .5 .8 .5-.3 .5 .3 .5-1.2 .5 .3 .5-.6 .5 .5 .5 .1 .5 0 .5 .9 .5-.3 .5 .3 .5-.5 .5 .8 .5-.8 .5 .7 .5-.3 .5 .1 .5-.6 .5-.8 .5-.2 .5 2.6 .5-1.2 .5 .1 .5-.5 .5-.2 .5 2 .5-2.5 .5 .8 .5 0 .5-.8 .5-.1 .5 .4 .5 .3 .5-.1 .5 1 .5-1.5 .5 1.2 .5 .8 .5-.4 .5-1.6 .5-.8 .5 2.3 .5-.2 .5-.8 .5 1.4 .5-1.3 .5 .4 .5-.9 .5 1 .5-.5 .5-.1 .5 1.2 .5-.6 .5-1.3 .5 1.6 .5 .2 .5-1.3 .5 .3 .5 .4 .5-.3 .5 .3 .5 .4 .5-.8 .5 1.9 .5-2.1 .5 .1 .5 1.9 .5 .2 .5-1.6 .5-.2 .5-.7 .5 1.7 .5-.7 .5-.8 .5 1 .5 .7 .5-.5 .5 1.1 .5-.8 .5-.5 .5-.4 .5 .5 .5 .5 .5-.3 .5 .1 .5-.6 .5 .4 .5 .4 .5-1.1 .5-.8 .5 2.3 .5-.9 .5-.8 .5 .5 .5-.3 .5-1.1 .5 1.1 .5-.9 .5 1.2 .5-.2 .5 .9 .5-.9 .5 .3 .5-.5 .5 0 .5-.8 .5 1.8 .5-.6 .5-.6 .5 .6 .5-.4 .5-.3 .5 .8 .5 .7 .5-1.1 .5-.9 .5 .6 .5 1.8 .5-1.9 .5 1.5 .5-1.1 .5 .7 .5-.6 .5-1.1 .5 .9 .5 1.8 .5-1.6 .5 .5 .5-.7 .5 .2 .5 .3 .5 .1 .5 1.3 .5-1.6 .5-.2 .5-.3 .5-.5 .5-.2 .5 1.7 .5-1.9 .5 2.4 .5-.4 .5-.9 .5-.6 .5 .9 .5 0 .5 .8 .5-1.4 .5 .3 .5 .2 .5-.2 .5-.2 .5-.8 .5 0 .5 .7 .5 .4 .5 .9 .5 .9 .5-.4 .5-1 .5 1.1 .5-1.4 .5-.4 .5 2.1 .5-2.5 .5 .5 .5 .1 .5 1.3 .5-1.5 .5 1 .5-.9 .5-.6 .5 1.1 .5-.1 .5-1 .5 .3 .5 0 .5 1.3 .5-.4 .5-.1 .5 .2 .5-.8 .5 .7 .5-.8 .5-.5 .5 .4 .5 .7 .5-.1 .5 .7 .5-2 .5 1.1 .5 .4 .5-1 .5 .9 .5-.5 .5-.6 .5 1.7 .5-1.9 .5 1.8 .5-1.1 .5-.4 .5 0 .5 .1 .5-.1 .5 .7 .5-1.6 .5 2.3 .5-.4 .5 .3 .5-1.9 .5-1 .5 1 .5 .2 .5 .2 .5-.8 .5 .1 .5 0 .5-1.6 .5 2.3 .5-2.5 .5 .8 .5 .4 .5-1.7 .5 .4 .5 1.1 .5-1.6 .5 1 .5-.5 .5 0 .5 .5 .5-.5 .5 .3 .5 1.1 .5-.3 .5 .4 .5-1 .5 1.2 .5 1.1 .5 0 .5-.3 .5-.4 .5 0 .5 .9 .5 .9 .5-1 .5 1.1 .5-1.2 .5 1.2 .5-1.6 .5 .9 .5-1 .5 1.3 .5-.1 .5-1.1 .5 .1 .5 .1 .5-.8 .5 .3 .5 0 .5 1.1 .5 .3 .5-1.6 .5 0 .5 .1 .5-.7 .5-.1 .5 .6 .5-.7 .5-.5 .5-.6 .5 1.3 .5-1.8 .5 .4 .5-.9 .5 .3 .5 .5 .5-.3 .5 .9 .5-.2 .5-.8 .5-.4 .5 2.7 .5-.9 .5 1.8 .5-.9 .5-.3 .5 1.2 .5-.4 .5 .3 .5-.5 .5 1.3 .5 .5 .5-1.1 .5 1.8 .5-1.7 .5 .7 .5-1.4 .5-.2 .5 3.1 .5-.5 .5-.2 .5-2.1 .5 1.5 .5 .1 .5-.2 .5 .2 .5-.9 .5 .6 .5-.8 .5 .6 .5 .6 .5-.9 .5 .4 .5-.1 .5 .3 .5 .7 .5-.5 .5 .1 .5-1.3 .5 .8 .5 .9 .5-1.3 .5 .3 .5-.4 .5 1.8 .5-1.4 .5-.2 .5 1 .5 .4 .5-.5 .5 .4 .5-.6 .5-.2 .5-.2 .5-.1 .5-.1 .5 .8 .5-.4 .5 .2 .5 .3 .5-.4 .5-1 .5 .4 .5-.2 .5-.6 .5 1.5 .5-1 .5-.1 .5 .2 .5 1.5 .5-.9 .5 .9 .5-.8 .5-.2 .5 .7 .5 0 .5-.3 .5-.9 .5 .5 .5-.6 .5 .7 .5 .3 .5 1 .5 0 .5-.6 .5 .2 .5-.5 .5 1.4 .5-.5 .5 .5 .5-1.3 .5 0 .5 .5 .5-.7 .5 .1 .5-1 .5 1.5 .5-.6 .5 .5 .5-.8 .5-1.2 .5 1.7 .5 .5 .5-1.8 .5 .2 .5 .5 .5 0 .5-1.2 .5 2.4 .5-1.1 .5-2.3 .5-2.2 .5 1 .5 1.9 .5 .4 .5 1.3 .5-1 .5 1.1 .5-1.2 .5 2.6 .5-1 .5-2 .5 .2 .5 1.7 .5-.2 .5-.4 .5 .7 .5 1.1 .5-1.2 .5-1.7 .5 1.3 .5-.9 .5 .4 .5 .8 .5-.3 .5-.7 .5 .8 .5-.6 .5 1 .5-.6 .5 .5 .5-.5 .5 .7 .5-.6 .5 .1 .5-.4 .5 .5 .5-1.4 .5 2.9 .5-2.1 .5 .6 .5-.5 .5 0 .5 .7 .5-.7 .5 .1 .5-.8 .5 .4 .5-.2 .5 2.2 .5-2.3 .5 .2 .5 .9 .5 .9 .5-2.3 .5 .1 .5 1.3 .5 .1 .5-1.3 .5-.3 .5 .7 .5 1.2 .5-.6 .5 .6 .5-.6 .5 0 .5 .5 .5-.5 .5 .2 .5-.8 .5 .2 .5 .8 .5-.5 .5-.4 .5 1.1 .5-.1 .5-.4 .5-.6 .5 1.2 .5 1 .5-2.3 .5-.5 .5 .6 .5-.1 .5-.3 .5 .1 .5 .9 .5 0 .5 0 .5 0" stroke="#AD5412"/>
<path d="M45.5 78.0l0 496.9 .1 .7 0 2 .1 1.1 0 3.4 .1 1.3 0 .2 0 1.4 .1 1.4 0 1.2 .1 1.6 0 .3 .1 2.1 .1 .1 0 2.3 .1 .1 .1 3.8 .1 .7 .2 1.3 .1 1.7 .2 1.9 .2 .7 .3-.8 .3 2 .2-.7 .5 2.2 .5 .6 .5 1.5 .5 .8 .5-.6 .5 .7 .5 .7 .5-.1 .5 .1 .5-1.4 .5 1.4 .5 1.1 .5-.3 .5-1.3 .5 1 .5 .4 .5-.8 .5 1.2 .5-1 .5 .4 .5 .2 .5 1.7 .5-1.8 .5-.2 .5 1 .5-.9 .5 .5 .5-1.7 .5 1.8 .5-.2 .5-.9 .5 2 .5-1.2 .5 0 .5-.8 .5-.2 .5 .8 .5-.8 .5 1.6 .5 .3 .5-1.2 .5-.7 .5 .9 .5-.5 .5 .9 .5 .1 .5-.5 .5 .4 .5 .7 .5 .5 .5-1.6 .5 .9 .5-.7 .5-.6 .5 1.7 .5-.6 .5-.2 .5 .1 .5-.4 .5-.6 .5 2.1 .5-.7 .5-.4 .5 .5 .5 .2 .5-1.1 .5 .6 .5-.7 .5 .8 .5-.7 .5 1.9 .5-2 .5 .7 .5-.1 .5-.6 .5 1 .5-.8 .5-.2 .5 .3 .5-.6 .5 1.5 .5-.4 .5 .2 .5-1.7 .5 1.2 .5-.8 .5 .6 .5 .9 .5-.7 .5-.3 .5 .9 .5-.1 .5 .7 .5-2.8 .5 1.6 .5-.5 .5-.4 .5 .8 .5-1 .5-.7 .5 .9 .5 .5 .5 1.6 .5-2 .5-.3 .5-.6 .5 1.2 .5 .1 .5 .3 .5-1.2 .5 .5 .5-1.1 .5 1.8 .5-1.3 .5-.5 .5 2.5 .5-.5 .5-.1 .5-.1 .5-1.1 .5 1.4 .5-2.2 .5 1.2 .5-2.6 .5-2.2 .5 2.7 .5 2.2 .5-.7 .5 1.6 .5-.8 .5-.2 .5-1.1 .5 2.5 .5-1.2 .5 .6 .5-1.1 .5 .2 .5 1.5 .5-1.1 .5 0 .5-.7 .5 1.1 .5 .5 .5-1 .5 .2 .5-.7 .5 1.9 .5-1.5 .5 .4 .5 1.3 .5-1.4 .5-1 .5 .5 .5 .4 .5 1.6 .5-1.2 .5-.3 .5 .8 .5 .4 .5-1.6 .5 1.7 .5-.5 .5-.3 .5-2 .5 1.8 .5 .9 .5-1.2 .5 1.8 .5-1.6 .5-.8 .5 1.2 .5-.2 .5 .4 .5-.8 .5 1.2 .5-1.4 .5 .5 .5-1.1 .5 .4 .5 .7 .5-.6 .5 .1 .5 .2 .5 .4 .5 .4 .5 0 .5 .1 .5-.6 .5-.5 .5-.8 .5 .9 .5-.3 .5-.8 .5 2.6 .5-2.6 .5 1.6 .5 .2 .5-.6 .5 1.8 .5-1.6 .5-.6 .5 1.9 .5-1.9 .5-.5 .5 .3 .5 .3 .5 .5 .5 .2 .5-1.4 .5 1.4 .5 1.4 .5-2.2 .5 .5 .5 .6 .5 .4 .5-1.4 .5-.3 .5 0 .5 1.6 .5-.2 .5-2.3 .5 0 .5 .7 .5-.2 .5 1.5 .5-.2 .5 1.3 .5-.8 .5-.6 .5 .8 .5-1.5 .5-.4 .5 1.1 .5 .7 .5-2 .5 1.9 .5 0 .5-1 .5 .5 .5-.4 .5 .3 .5 .6 .5-1.3 .5 1.4 .5-.1 .5 0 .5-2.2 .5 .1 .5 2 .5-1 .5-.1 .5 0 .5-.5 .5 .8 .5-.3 .5 0 .5 .9 .5-1.3 .5 1.8 .5-2.5 .5 3.3 .5-2.7 .5 1.5 .5 .2 .5-.7 .5 .6 .5-.7 .5-1.2 .5 1.6 .5 .6 .5-1.3 .5-.9 .5 .9 .5 .7 .5-.1 .5 .7 .5-.5 .5 0 .5-1.9 .5 3.2 .5-1.6 .5 .6 .5-1 .5 .2 .5 .2 .5 1.1 .5 0 .5-.7 .5 1 .5-1.8 .5 .7 .5-.7 .5 1.3 .5-1 .5 .8 .5 .5 .5-2.9 .5 3.3 .5-1.5 .5-.4 .5-1.3 .5 1.3 .5-1.4 .5 1.7 .5-.2 .5 1.5 .5-1.7 .5 1.1 .5 .1 .5 .7 .5-1.8 .5 .8 .5-1.8 .5 .3 .5 .7 .5 .2 .5-.9 .5 .6 .5 .8 .5-.9 .5 .3 .5-.6 .5 1.7 .5 .3 .5-1.2 .5-.2 .5 1.4 .5-1 .5-.8 .5-.6 .5 .6 .5 2.1 .5-2.1 .5 2.1 .5-1.6 .5-.2 .5 1.2 .5-1.2 .5 .4 .5-1 .5-.2 .5 .4 .5 .7 .5-.7 .5-1 .5 1.9 .5-.5 .5-.1 .5-.2 .5-1.2 .5 2.8 .5-1.5 .5 .7 .5 .7 .5-.2 .5-.7 .5-.2 .5 .2 .5 .5 .5-.3 .5-.8 .5 .7 .5 0 .5 .2 .5-.4 .5 .9 .5-.9 .5 .5 .5-.6 .5-.5 .5-.3 .5 .6 .5 .5 .5 .6 .5-1.1 .5-.3 .5 0 .5 1.4 .5-1 .5-.5 .5 1 .5-1.6 .5 1.1 .5-.2 .5-.1 .5-.8 .5 1.6 .5 .5 .5-2.4 .5 1.1 .5 .3 .5 1.1 .5-2.1 .5-.5 .5 .6 .5 1.3 .5-1.7 .5-.1 .5 .9 .5-3.3 .5-.3 .5 2 .5-.5 .5-2 .5 1.1 .5-.7 .5-.2 .5-1 .5 .1 .5-.4 .5 .8 .5-.1 .5 1.7 .5-.6 .5-1.3 .5 1.8 .5 1.2 .5-.6 .5 1 .5-.6 .5 .8 .5-1 .5 1.5 .5-1.5 .5 2.1 .5-2.1 .5-.4 .5 2 .5-.6 .5 .1 .5 .1 .5-.5 .5-.9 .5 .5 .5-.2 .5-.3 .5 .7 .5-2.5 .5 .1 .5-.1 .5-1.3 .5-1 .5 .1 .5 .9 .5-1.2 .5 .6 .5-1 .5 1.2 .5-.6 .5 .3 .5 1.2 .5 .5 .5 1.6 .5-1.9 .5 2.2 .5 1.3 .5 .2 .5-1 .5 .1 .5 .4 .5 .9 .5 .1 .5 .3 .5 .3 .5-1.1 .5 0 .5 0 .5 0 .5 1 .5 .4 .5 1.4 .5-1.2 .5-.3 .5 1.1 .5-1.7 .5 .9 .5 .5 .5-.1 .5-.3 .5-.6 .5-.7 .5 .9 .5-.3 .5 1 .5-.7 .5 .6 .5-1.7 .5 2 .5-1.4 .5-.5 .5 .1 .5 .6 .5 1.4 .5-.4 .5-1.4 .5 1 .5-.2 .5-1.1 .5 .5 .5-.8 .5 .9 .5-1 .5 1 .5-.1 .5 .1 .5 0 .5 1.5 .5-1.1 .5 .4 .5 .4 .5 .1 .5-.1 .5-1 .5-.4 .5 .3 .5 .2 .5 .4 .5-.1 .5 .9 .5-.9 .5 1.4 .5-.5 .5-1.2 .5 1 .5-2.3 .5 2.7 .5-.7 .5 0 .5-1.6 .5 2.9 .5-1.8 .5 .1 .5 .9 .5-1 .5-.5 .5 1.2 .5-1.3 .5 1.3 .5-.4 .5 .7 .5-1.8 .5 1.9 .5-.7 .5 1.3 .5-2 .5 1.9 .5-.9 .5 .1 .5-1.2 .5 1 .5 .1 .5-1.2 .5-.2 .5 .3 .5 1.7 .5-1 .5 .6 .5-.5 .5-.1 .5 0 .5-.4 .5 1.2 .5-.8 .5 0 .5-1.2 .5 1.3 .5-.7 .5 .1 .5 1.2 .5-1.7 .5 .7 .5 .7 .5 .4 .5-1.3 .5 .6 .5 0 .5-1.1 .5-.8 .5 .2 .5 1.9 .5-.4 .5-1.1 .5 .6 .5 .2 .5 0 .5 .2 .5 1.7 .5-2.2 .5 .7 .5-.7 .5 .1 .5-.2 .5 .5 .5-.3 .5 .7 .5-.1 .5-.8 .5 2.1 .5-2.3 .5 1.1 .5 1.4 .5-2.2 .5 1.6 .5 .1 .5-.9 .5-1.7 .5 2.6 .5-1.1 .5-.5 .5 1.4 .5-1.5 .5 1.4 .5-1.3 .5 .9 .5-1.3 .5 .6 .5-.4 .5 .1 .5 .7 .5-.3 .5 .3 .5 .8 .5-1 .5-1.4 .5 1.2 .5 .3 .5 .7 .5 0 .5 0 .5-.9 .5 .6 .5-1.6 .5 2.1 .5-.6 .5 0 .5-.6 .5 .3 .5-.6 .5 1 .5-1.5 .5 1.8 .5-.3 .5 1.1 .5-1.6 .5 0 .5 .2 .5-.1 .5-.1 .5-.8 .5 0 .5 .4 .5 .2 .5-.7 .5 .1 .5 .6 .5 .8 .5-.7 .5 .7 .5 .2 .5-.2 .5-.9 .5 0 .5-1.1 .5 .9 .5 .9 .5-1.2 .5 1.9 .5 0 .5-1.3 .5 .9 .5-1.8 .5 .3 .5 .5 .5 .3 .5-.1 .5-.5 .5 2.1 .5-1.2 .5-.1 .5 .4 .5-.4 .5-.3 .5-.3 .5-.8 .5 2.4 .5-1.9 .5-.5 .5 .6 .5-.6 .5 2.8 .5-1.3 .5 .8 .5 0 .5-.6 .5 0 .5-1 .5 .5 .5-.4 .5 .5 .5-.6 .5 1.5 .5-.4 .5-.7 .5-1.2 .5 1.8 .5 .2 .5-.7 .5-1 .5 1.3 .5 .5 .5-2.3 .5 1.9 .5-1.8 .5 1.5 4.3-.2 3.5 0 4-.1 3.5-.1 3.3-.3 3.3-.4 2.1-.5 1.6-.6 1.9-.7 2-.8 2.5-.9 1.2-1.1 2-1.1 1.2-1.1 1.3-.8 2-.6 .8-.4 .9-.4 1.2-1.2 1.2-3.3 1.5-.8 1.3 3.2 2.2 .4 1.3-.4 1.5-.5 1-.7 1.3-.8 1-.8 1.3-.9 1-.8 .9-.7 .7-.6 .9-.6 1.1-.7 1-.8 1.2-.9 1-1 2-1 .8-1.3 .4-1.4 1.1-1.6 .6-1.8 1-2 .8-2.1 0-2.5 .9-2.7 0-2.9 .7-3.2 .4-3.5 .4-3.7 1-2.5 1-1.2 1.3-2.2 1.1-5.7 1.5-11.4 .9-18.2 .8-23.5 1-27.1 .8-29.3 .6-29.9 .9-31.6 1.2-34.3 .3-35.5 1.1-34.9 .1-32.7 .8-32.1 1.3-32.5 1.1-30.7 .4-26.5 .9-20.2 .2-12.1 -.2-5.6 -.6-1.6 -.1 .1 .1-.8 1.7 0 2 0 2.4 0 1.2 0 1.4 0 .5 2 .4 2.3 -1.1 3.4 .1 5 .8 7.3 0 10.3 0 12.7 .9 14.4 .8 14.9 .4 14.7 .4 15.2 .4 16.4 1 16.3 .3 14.9 .6 12.2 .2 7.6 -.1 3.9 .7 3 -.3 5.2 .6 10.3 .3 17.3 .9 22.5 .8 24.6 .7 23.7 1 19.9 .9 15 .7 12 .5 10.8 .2 11.1 1.1 13.1 .5 16.4 1.2 18.5 .2 18.8 1.6 17.3 .3 14 1.4 10.1 .5 7.5 1.3 5.6 .5 4.7 .3 4.6 .8 4.4 .7 3.5 .4 3 -.2 2.7 .7 2.6 .5 2.5 .5 2.2 .5 2.1 .2 1.9 .3 2.1 1 2.2 .4 2.3 .9 2.2 .3 2.1 1.1 1.7 .3 1.3 1 1 .8 .9 1.2 .8 1.1 1 2 1.1 2.1 1.2 2.6 1.3 2.7 1.2 3.1 1.2 -.3 .8 .5-.2 .5 1 .5-.3 .5 .7 .5-.4 .5 1.6 .5-.4 .5-2.2 .5 1.7 .5 0 .5-1.6 .5 1.2 .5 .4 .5-.1 .5 .8 .5-1.3 .5 2 .5 .1 .5-.2 .5-.4 .5 .3 .5-.3 .5 1.3 .5-.4 .5 1.2 .5-1.7 .5 1.4 .5-1.5 .5 .4 .5-.6 .5 1.2 .5-.4 .5 .5 .5 .7 .5-1.1 .5 .3 .5 .4 .5-.7 .5-.4 .5 .6 .5 .1 .5 .2 .5 0 .5-1.2 .5 .7 .5 .5 .5-1.4 .5 .6 .5-.9 .5 .5 .5 1 .5-1.3 .5-1 .5 .8 .5-.2 .5 .5 .5-2 .5 .3 .5 .5 .5-1.1 .5 2 .5-2.3 .5 .9 .5-.4 .5 .8 .5 1.2 .5 0 .5 .4 .5-.1 .5-1.8 .5 1.9 .5-1.4 .5 1.2 .5 .2 .5 0 .5 .9 .5-.8 .5 2 .5-.8 .5 .6 .5-.3 .5 .2 .5-.6 .5 1.5 .5-2.2 .5 1.2 .5-.3 .5-.2 .5 .5 .5-.8 .5 1.2 .5 0 .5-.5 .5 .5 .5-1.4 .5-.5 .5 .9 .5 .3 .5 1.8 .5-1.8 .5 .9 .5-.1 .5 1 .5-1.5 .5 .4 .5-.7 .5-.5 .5-.1 .5 .2 .5 1.7 .5-.9 .5-.3 .5 .1 .5-.4 .5 .4 .5 0 .5 .5 .5 .2 .5-2 .5 1.4 .5 .9 .5-1.8 .5 .6 .5 .3 .5 .7 .5-.4 .5-.6 .5 .5 .5 .4 .5-.5 .5 1.1 .5-1.1 .5-1.2 .5 .2 .5 .5 .5-.1 .5 .6 .5-.3 .5 1 .5-.7 .5 .4 .5-1.8 .5 .2 .5 .7 .5-.5 .5 .3 .5-.4 .5-.8 .5 1.6 .5-.6 .5-2.2 .5 .6 .5 .3 .5 .3 .5-.7 .5-1.1 .5 1.5 .5-.9 .5 1 .5-.8 .5 .5 .5-.1 .5 .1 .5-.9 .5 1.2 .5-.5 .5-.9 .5 .8 .5 .2 .5 .8 .5 .3 .5-1.2 .5 1.5 .5-.4 .5-.6 .5 1.5 .5-1.1 .5-.2 .5 1.6 .5 .2 .5-1.1 .5 1.3 .5 0 .5-1.1 .5 2 .5-1.5 .5 .2 .5-1.8 .5 2.2 .5-.9 .5 .8 .5-1.6 .5 2.1 .5 .3 .5 .3 .5-3.1 .5 2.1 .5-.1 .5-2 .5 1.2 .5 .5 .5 1.1 .5-1.7 .5 .8 .5-.2 .5 .3 .5-.6 .5 1 .5 .1 .5-1.8 .5 1.9 .5-1.4 .5 .3 .5 1.1 .5-.8 .5 .3 .5 .2 .5-.2 .5-.8 .5-.3 .5 1.2 .5 0 .5-.3 .5-.4 .5 .8 .5-.7 .5-1 .5 1.2 .5 .2 .5 .1 .5-1.2 .5 0 .5 .8 .5-.6 .5 .2 .5 .7 .5-.5 .5 1 .5-1.2 .5 1 .5-.6 .5 .7 .5-1.8 .5-.2 .5 .9 .5-1.5 .5-.1 .5 .4 .5-.1 .5-1.5 .5 1.1 .5-.6 .5 .1 .5 0 .5-.3 .5 .9 .5-.5 .5-.5 .5 .3 .5 .8 .5-.1 .5 .5 .5-.9 .5 .4 .5 1.5 .5-1.4 .5 1.5 .5-.5 .5-.8 .5-.5 .5 1.6 .5-.9 .5 .1 .5-.6 .5 2.2 .5-.7 .5 0 .5 .4 .5-.1 .5 0 .5 .3 .5-.5 .5-1.5 .5 2.3 .5-.2 .5-.3 .5 1.2 .5-2.2 .5-.7 .5 2.8 .5-.7 .5-1.6 .5 1 .5 .7 .5-1.3 .5 1.3 .5 1.2 .5-.6 .5-1 .5 .2 .5-.9 .5 .8 .5-.4 .5-.4 .5-.3 .5 2.4 .5-1.3 .5-.9 .5 .5 .5 1.4 .5 .1 .5-1.7 .5 .6 .5 .6 .5-1 .5-.6 .5 .2 .5 .7 .5-.6 .5-.4 .5 .8 .5 .9 .5-.2 .5-.7 .5 1.6 .5-2 .5 .5 .5-.9 .5 1.5 .5-.6 .5-1.2 .5 .6 .5 2 .5-.8 .5-.5 .5 .6 .5-1.8 .5 .5 .5-.4 .5 .4 .5 .3 .5 .7 .5 .4 .5-.1 .5 .9 .5-2 .5 .4 .5 .4 .5-1 .5 .4 .5 .5 .5-1 .5 1 .5 .6 .5-1.8 .5-.9 .5 1.8 .5-.8 .5 .8 .5-.4 .5 .5 .5 .6 .5-.2 .5-.9 .5-.6 .5-.9 .5 .1 .5 1.1 .5 .6 .5-.6 .5 .1 .5-.8 .5 0 .5-.1 .5 1.7 .5-1.9 .5 1.9 .5-1.2 .5 1.1 .5-.2 .5 .3 .5 .3 .5-1.4 .5-.2 .5 .4 .5-.3 .5 1.1 .5-.6 .5 0 .5 .3 .5-.7 .5 1.2 .5-2.2 .5 1.5 .5 .1 .5-.9 .5 0 .5 1.2 .5-1 .5-1.2 .5 .4 .5 1.7 .5-1.5 .5 1.6 .5 0 .5-1.2 .5 .4 .5-1.1 .5 .2 .5-.3 .5 .8 .5-1.5 .5 .7 .5-.1 .5 .1 .5-2.2 .5 0 .5 .4 .5 .1 .5 0 .5-.4 .5 1 .5-1.4 .5-.4 .5-1.1 .5 .7 .5-.4 .5-.1 .5-.7 .5 .5 .5 .7 .5-1.6 .5-.8 .5 2.4 .5 .2 .5-.4 .5 0 .5 2.3 .5-1.9 .5-.4 .5 .6 .5 .6 .5-1.3 .5-.8 .3-.3 .2-1.6 .2-.5 .1-1.1 .2-2 .1-.2 .2-2.1 .1 .2 .1-2.8 .1-.8 .1-2.5 .1-.5 .1-2.2 .1 .4 .1-2.5 0-.8 .1-3.1 .1-1.1 .1-.7 0-2.4 .1 .2 .1-2.5 0-.9 .1-1.2 0-1.8 .1-.7 0-2.6 .1-.7 0-.9 .1-2.3 0-1.4 .1-1.6 0-1.1 .1-.9 0-2.1 .1-2.4 .1-1.7 0-1 .1-1.7 0-.4 0-3.5 .1-1.3 0-.3 .1-2.7 0-.5 .1-1.7 0-3 .1 .4 0-.9 .1-2.4 0-2.7 0 .1 .1-2.8 0-.8 .1-1.1 0-2.4 .1-2.1 0-.3 .1-1.4 0-2 .1-1.3 0-.3 0-2.1 .1-1.8 .1-1.5 0-.8 0-1.5 .1-1.5 .1-2.2 0-.5 0-1.4 .1-.7 .1-.8 0-1.7 .1-1.7 .1-1.7 .1-1.5 0-.6 .1-1.6 .2-1.7 .1-1.5 .2 .1 .3 .6 .2 3.5 .1 .1 .1 .5 0 2.2 .1 .5 .1 2.7 .1 1.6 .1 2.3 0-1.2 .1 2 0 1.3 .1 1.7 0 1.7 .1 .3 0 1.6 .1 2.3 0 1.9 .1-.2 .1 1.1 0 3.4 0 1.2 .1 1.6 .1 0 0 2 0 1.8 .1 1.5 .1 1.1 0 1.5 0 2.2 .1 .3 .1 1.3 0 1.5 0 1.3 .1 1.8 .1 1.1 0 1.1 .1 2.9 0 .7 .1 1 0 2.6 .1 .1 .1 1.7 0 1.2 .1 .8 .1 1.9 .1 1.9 .1 .2 .1 1.9 .1 1.4 .5 1.3 .1-.6 .2 .5 .1-2.6 .1-2.2 .1-1.2 0-1.1 .1-1 .1-2 .1-.3 0-3.5 .1-.5 .1-1.4 0-2.5 0-.1 .1-1.5 .1-2.3 0 .6 0-2.7 .1-2.3 .1-1.6 0-1.9 0-.6 .1-1.5 0-2.5 .1-1.1 0-1.2 0-1.3 .1-1.4 0-1.7 .1-.5 0-1.3 .1-2.1 0-3.1 .1-1 0-1.9 .1-1.3 0-1.6 .1-2.6 0-2 0 .6 .1-2.3 0-.8 .1-1.9 0-1.3 0-.5 .1-3.3 0-.6 .1-2.3 0-.6 .1-1.1 0-1.2 .1-1.7 0-2.4 .1-.1 0-.8 .1-1.6 0-.7 .1-2.6 .1-2.5 0-.9 .1-.8 0-.4 .1-2.6 .2-.7 .1-1.6 .2-1.7 .3 1.6 .2 1.3 .1 1.5 0 .8 .1 1.6 .1 .4 .1 2.7 0-.4 .1 3 .1 1.1 0 2.8 0 .6 .1 .6 .1 1.2 0 2.1 0 1 .1 3.6 .1-1.7 0 3.3 0-.3 .1 3.7 0 .1 .1 3.1 0-.1 0 2.6 .1 .8 0 2.1 .1 .7 0-.2 .1 2.6 0 .9 0 3.2 .1 1.2 0 1.1 .1 1.8 0 1.3 .1 1 0 3.2 0 .3 .1 1.2 0 .5 .1 2.1 0 1.9 0 1.4 .1 1.3 0 1.9 .1 .7 0 2.3 .1 .4 0 2 .1 1.5 0 2.6 .1 1.2 0 1.1 .1 .6 0 2 0 2.3 .1 1.8 .1-.6 0 2.1 0 1.8 .1 1.4 .1 1.1 0 1.7 .1 0 0 3.6 .1-.5 0 2.2 .1 1.6 .1 1.8 0 1 .1 1.1 .1 1.8 .1 .4 .1 1.9 0 1.8 .1-.4 .1 .6 .1 1.8 .1 3.1 .2 1 .1 0 .2 1.7 .1 1.2 .2 1.3 .2-1 .3 1.7 .5 1.4 .5 1.1 .5 .4 .5 .3 .5 1 .5-1.1 .5 4.1 .5-.3 .5 .9 .5-.2 .5 1.7 .5 2 .5 .7 .5-.4 .5-.2 .5 1.8 .5 .4 .5 1.5 .5-.9 .5 1.3 .5 .9 .5 0 .5 1.5 .5-1.1 .5 .3 .5 1 .5 1.2 .5-.5 .5 .1 .5 1.3 .5-.1 .5-.3 .5 .7 .5-.1 .5 .8 .5-.1 .5-.5 .5 .3 .5 .2 .5 .7 .5 .2 .5-.8 .5 .6 .5 .5 .5 .6 .5-.5 .5 1.3 .5-1.3 .5 .6 .5-.7 .5-.4 .5 .9 .5 .3 .5 0 .5-.1 .5-.3 .5-.3 .5 .4 .5 .6 .5 .4 .5-2.3 .5 2.1 .5 .4 .5 .1 .5-.6 .5 .2 .5-.8 .5 .3 .5 .4 .5-1.2 .5 .2 .5 .7 .5-1.2 .5 1 .5-1.2 .5 1.1 .5-.3 .5-.6 .5-.5 .5 .1 .5-1.6 .5 1 .5 0 .5 .3 .5-1.7 .5-.2 .5 .6 .5-.2 .5-2.1 .5 .7 .5-.2 .5-.7 .5-1.1 .5 .1 .5 1.3 .5 1.6 .5-1.4 .5 1.8 .5 .7 .5-1.7 .5 1 .5 2 .5 .1 .5 .1 .5-.1 .5 .8 .5-.6 .5 2.4 .5-2.3 .5-.3 .5 1.6 .5 1 .5-1.3 .5 .4 .5-.6 .5 .8 .5-.7 .5 .1 .5-.3 .5 .7 .5 1.7 .5-1.3 .5 .2 .5 1.5 .5-2.1 .5-.2 .5 1.1 .5-1.2 .5 1.1 .5 .6 .5-1.6 .5 .4 .5 1.7 .5-2 .5 .3 .5 .6 .5-.4 .5-.3 .5 1.7 .5-1.5 .5 .6 .5-.5 .5 .2 .5-.9 .5 1.7 .5-1 .5 1.3 .5-1.8 .5 .5 .5 .7 .5-.2 .5-.6 .5 .4 .5-.8 .5 .9 .5-1.6 .5 1.7 .5 .9 .5-.3 .5-.1 .5-.9 .5 .7 .5-.7 .5 .3 .5 0 .5-1.6 .5 2.3 .5-.3 .5 .3 .5-1.3 .5 1.2 .5-.2 .5-1.9 .5 .3 .5 1.3 .5-.5 .5 .5 .5-.5 .5 1.6 .5-2.5 .5 .4 .5 .3 .5-.3 .5 .6 .5 .4 .5-1 .5 1.3 .5 .6 .5-.1 .5 .6 .5-.6 .5-.8 .5 1.3 .5-.8 .5 .9 .5-1.5 .5-1.4 .5 .7 .5 .9 .5 .3 .5-.5 .5 .8 .5-1.5 .5 .3 .5 1.2 .5-.6 .5 0 .5 .9 .5-.2 .5-1.3 .5 .7 .5-1.4 .5 1.2 .5 .3 .5-1.5 .5 2.4 .5 .3 .5-1.1 .5 .3 .5 .4 .5-1.2 .5 .9 .5-.5 .5-1.4 .5 .5 .5 .2 .5 1.2 .5-.7 .5 .7 .5-1.1 .5-.6 .5 2.4 .5 .2 .5-1.4 .5-.4 .5 1 .5-1.6 .5 .6 .5-.9 .5 1.4 .5-.2 .5-.4 .5-.2 .5-.6 .5 .5 .5 1.4 .5-1.1 .5 1.2 .5-1.6 .5 .6 .5-.3 .5 .2 .5 .7 .5-2 .5 2 .5 0 .5-.5 .5 0 .5-.2 .5 .6 .5-.4 .5-.7 .5 .8 .5 .5 .5-.4 .5-.2 .5 .1 .5-.5 .5 0 .5-1 .5 1.2 .5 .9 .5-1 .5-.4 .5 1.3 .5-.5 .5-.1 .5 .3 .5 .1 .5-.5 .5-.6 .5 1.9 .5-1.2 .5-.6 .5 .7 .5 .7 .5-1.9 .5 2 .5-1.1 .5 1.5 .5-.9 .5-.6 .5 1 .5 0 .5-1.1 .5 .4 .5-.6 .5 1.1 .5-1.7 .5 .9 .5-1.4 .5 1.9 .5-2 .5 .8 .5 1 .5-.5 .5-.1 .5-.3 .5 .3 .5-.9 .5 1.5 .5 .3 .5 0 .5-.6 .5 .9 .5-.6 .5 .4 .5-.5 .5-.2 .5-.6 .5-1.1 .5 2.1 .5-.6 .5 1.5 .5-2.9 .5 2 .5-1.3 .5 .6 .5-.7 .5 .8 .5-.4 .5 .6 .5-.7 .5 .1 .5 .5 .5-.8 .5-.6 .5 .7 .5-1.2 .5 .2 .5-.8 .5-.5 .5-1.5 .5 1.9 .5-1.5 .5 1.1 .5 .6 .5-2.3 .5 1.5 .5-.6 .5 .5 .5-1.1 .5 1.1 .5 .3 .5 1.2 .5 .7 .5-1 .5-.2 .5 2 .5-1.4 .5 .2 .5 .3 .5 .5 .5 .3 .5-.8 .5 .4 .5 1.5 .5-.1 .5-.8 .5 0 .5-.4 .5 .9 .5-1 .5 .4 .5-.4 .5-.2 .5 .5 .5-.1 .5-.5 .5 .3 .5 0 .5-.6 .5-.2 .5 .2 .5 .4 .5 .1 .5-.9 .5-.6 .5-.1 .5 1.2 .5-1 .5-1.6 .5 .4 .5-.5 .5 0 .5-1.1 .5 1.2 .5-.9 .5 .6 .5 1.7 .5-.2 .5-1.1 .5 .1 .5 .4 .5-.4 .5 .9 .5 .7 .5-.3 .5 1.5 .5-.4 .5-.1 .5 1.7 .5-.6 .5-.3 .5 1.4 .5-.3 .5-1.4 .5 .8 .5-.5 .5-.7 .5 2.5 .5-.3 .5-1.9 .5 1.2 .5-1.5 .5 2 .5-.8 .5-.2 .5 1.2 .5-.9 .5-.2 .5 .8 .5-.8 .5 .8 .5-.6 .5 .6 .5-.1 .5 .1 .5-1.3 .5 2.1 .5-1.5 .5 1.4 .5-1.7 .5 .3 .5 0 .5 1 .5-1.1 .5 .6 .5-1.5 .5 .8 .5 .5 .5-.2 .5-1.3 .5 1.7 .5-1 .5 2.1 .5-1.5 .5 1.7 .5-1.1 .5-.2 .5-.7 .5 .3 .5 .4 .5-1.7 .5 2.1 .5-1.5 .5 .6 .5-1.5 .5 2 .5 .2 .5-.3 .5 0 .5-.5 .5 .4 .5 .8 .5-1.2 .5 .7 .5 .1 .5-.7 .5 .4 .5 0 .5-.6 .5 2 .5-1.9 .5 1.5 .5-.4 .5-2.3 .5 1.7 .5 .6 .5-.2 .5-1.3 .5 .9 .5-1.1 .5 .1 .5 .6 .5 .3 .5 1.1 .5-.9 .5 .5 .5-1.7 .5 .1 .5 .4 .5 1.7 .5-2.3 .5-.2 .5 1.1 .5 .9 .5-2.1 .5 1 .5-.9 .5 1.9 .5-1.1 .5-1.4 .5-1.5 .5-.9 .5 1 .5 .7 .5 .9 .5 .4 .5 1 .5-.5 .5 1.3 .5-2.2 .5 2 .5 0 .5 .5 .5-1.1 .5-.9 .5 .4 .5 1.5 .5-1 .5-.1 .5-.1 .5 .3 .5-.1 .5-.9 .5 .7 .5 1.1 .5 .4 .5-1.2 .5-.3 .5 1.4 .5-1.1 .5-.8 .5 .8 .5 .6 .5 .6 .5-1.5 .5 .8 .5-.6 .5 1 .5-.6 .5 0 .5-.9 .5 .5 .5 0 .5-1.5 .5 2.3 .5-.6 .5-.2 .5-.1 .5 .3 .5 .2 .5-1.2 .5 1.1 .5 0 .5-.1 .5-1.1 .5 1 .5-.8 .5 1.1 .5 .8 .5-.4 .5-.9 .5-.1 .5 0 .5 .6 .5-.7 .5 .1 .5-1.3 .5 1.1 .5 0 .5 .2 .5 1.3 .5-1.9 .5 0 .5 1.4 .5-1.1 .5 .6 .5 .2 .5-.1 .5-.6 .5 1.3 .5 .4 .5-1.9 .5 .6 .5 .9 .5-.9 .5 .2 .5 0 .5 0 .5 0" stroke="#6BA618"/>
<path d="M45.5 78.0l0 417.6 .1 1.3 0 2.7 .1 1.7 0 1.8 .1 1.4 0-.4 0 3 .1 1 0 1.3 .1-.3 0 2.3 .1 1.4 .1 .4 0 3.2 .1-.3 .1 1 .1 2 .2 1 .1 2.2 .2 .7 .2 1.9 .3 1.6 .3 .3 .2 1.4 .5 1.2 .5-.4 .5 1.9 .5 .3 .5 0 .5 1 .5 .6 .5-.4 .5-1.5 .5 1.5 .5-.3 .5 0 .5 .5 .5-.4 .5 1.5 .5-.9 .5-.2 .5 .6 .5 .1 .5 .3 .5-.4 .5-.4 .5 .1 .5-1.6 .5 .5 .5 1.8 .5-.9 .5 1.5 .5 0 .5-2.2 .5 1.2 .5 1.4 .5-2.2 .5 .9 .5-.5 .5 0 .5 0 .5 .2 .5 .6 .5-1.2 .5 1 .5-.9 .5 .9 .5-.1 .5-.8 .5 .7 .5-.7 .5-.1 .5 1.5 .5-2.2 .5 1.8 .5 .1 .5-1 .5 1.3 .5-.2 .5-1.6 .5 1.4 .5-.1 .5-.9 .5 1 .5 .1 .5-1 .5-1 .5 1.8 .5-.8 .5-.8 .5 1 .5-1.4 .5 1.4 .5 1.4 .5-2.8 .5 2 .5-1 .5 .4 .5-.4 .5 1.2 .5-.5 .5-.6 .5-.4 .5 .7 .5 1.1 .5-1.7 .5 1.2 .5-.1 .5-1.7 .5 2.3 .5-.8 .5 1.6 .5-.3 .5-1.5 .5 .1 .5-.6 .5-.3 .5 1.6 .5-.8 .5-.1 .5 .2 .5 .6 .5 .2 .5-.7 .5-.2 .5 .3 .5 1.4 .5-3 .5 .6 .5 1.2 .5-.2 .5 .8 .5 0 .5 .5 .5-2 .5 1 .5-.6 .5 .8 .5-.5 .5 .5 .5-1.2 .5 .6 .5-.6 .5 .1 .5-.4 .5-1.1 .5 .3 .3-1.4 .2-.3 .5-2.4 .5 .2 .2 1.8 .3 1.2 .5 2 .5 .8 .5 .4 .5 .3 .5-.5 .5-.4 .5-.7 .5 1.1 .5-.8 .5-.3 .5 1.1 .5-.3 .5 .5 .5-1.2 .5 1.4 .5-.6 .5-.4 .5-.4 .5-.2 .5-.3 .5 2.1 .5-2.1 .5 1.5 .5-.6 .5-.3 .5 .1 .5 .3 .5 .7 .5-.2 .5-.5 .5-1 .5-.3 .5 2.7 .5-2.1 .5-.4 .5 2 .5-2 .5 1.7 .5 .1 .5-.5 .5 .5 .5-1.7 .5 .1 .5 .8 .5 .1 .5 0 .5 .4 .5-.9 .5-1 .5 1.8 .5-.4 .5 .7 .5 1 .5-1.5 .5 .4 .5-1.1 .5 1.3 .5-.4 .5-.1 .5 .5 .5-1.5 .5 1.2 .5 0 .5 .8 .5-2.5 .5 1.2 .5 1.7 .5-1.9 .5 0 .5 1.6 .5 .3 .5-1.5 .5-.6 .5 .1 .5 .1 .5-.3 .5 0 .5 .7 .5-.1 .5 .3 .5-.3 .5-.9 .5 1.4 .5-.3 .5-.6 .5 .2 .5 .4 .5-.2 .5-.1 .5 .6 .5 .3 .5-1 .5 .2 .5-.8 .5 .7 .5 .4 .5 .3 .5-.5 .5-.2 .5-.5 .5 .7 .5-.9 .5 .9 .5-.1 .5-.7 .5 .9 .5-.4 .5 .6 .5-.8 .5 .7 .5 .8 .5-1 .5 .4 .5-1 .5 .2 .5-1.1 .5 1.2 .5-.7 .5 .9 .5-1.6 .5 .9 .5 .7 .5 .2 .5-1.5 .5 .9 .5 2 .5-1.1 .5-.4 .5-1.8 .5 1 .5 1 .5-.2 .5 .2 .5 .3 .5-.6 .5 .6 .5-2 .5 3 .5-1.9 .5-.3 .5 1.6 .5-.6 .5 .2 .5-1.1 .5 .6 .5 .3 .5-1.3 .5 .7 .5-.1 .5 0 .5-.3 .5-.4 .5 1.2 .5-.1 .5 .6 .5-.9 .5-.4 .5-.6 .5 1.2 .5-.3 .5 1.7 .5 .1 .5-.5 .5-1.8 .5-.3 .5 .8 .5-.5 .5 1.7 .5-.9 .5-.4 .5 .3 .5 .9 .5-1.6 .5 1 .5-1.3 .5 .8 .5-.3 .5 .7 .5-.1 .5 .7 .5-.3 .5-1 .5-.5 .5 .4 .5 .2 .5 .2 .5-.4 .5 1.3 .5-.1 .5-.9 .5-.1 .5 .2 .5 .1 .5 0 .5-1.2 .5 .9 .5-1 .5 1.4 .5 .4 .5-1.3 .5 .9 .5-.5 .5-.1 .5 2 .5-.8 .5-.3 .5-.7 .5 .6 .5-.4 .5 .4 .5-1 .5 .6 .5-.2 .5-.8 .5 2.3 .5-.6 .5-1.2 .5-.5 .5 .5 .5 0 .5 .1 .5-.6 .5 .4 .5 .7 .5 .3 .5-1.8 .5 1.4 .5-.7 .5 0 .5 .5 .5-.3 .5 1 .5 0 .5-.7 .5-.3 .5 1.8 .5 .1 .5-1.1 .5-.4 .5 .8 .5 .3 .5-1.4 .5 1.7 .5-1.5 .5 .9 .5-1.2 .5 .5 .5-.4 .5 .3 .5 .7 .5-1.4 .5 .4 .5 .6 .5-.7 .5 1.8 .5-2.6 .5 2.7 .5-2.2 .5 1.2 .5 .5 .5-.9 .5-1.5 .5 .8 .5 .2 .5 .3 .5 .2 .5-.1 .5 .1 .5-1.9 .5 1.2 .5-2.3 .5 1.2 .5-1.2 .5-.9 .5 1.7 .5-1.1 .5 .4 .5-2.3 .5-.1 .5 .5 .5-.6 .5 .4 .5-.6 .5 .2 .5-.4 .5 2 .5-.9 .5-.3 .5 1.7 .5 .2 .5 .1 .5 .3 .5-.1 .5 .4 .5-1.3 .5 .6 .5 .4 .5 1.2 .5 .8 .5-1 .5-.1 .5 .9 .5-1.2 .5 .6 .5-.4 .5-1.6 .5 .9 .5-.5 .5-1.5 .5-.4 .5-.7 .5 1.4 .5 0 .5-1.6 .5 .1 .5-2.6 .5 1.7 .5 .1 .5-.3 .5-1.8 .5 1.7 .5-.5 .5 1.4 .5-.7 .5 1 .5 .2 .5 1.3 .5 .2 .5 1.4 .5 .2 .5 .1 .5 .1 .5 .1 .5 .5 .5 .8 .5-.3 .5 .3 .5-.1 .5 .1 .5-.3 .5-.9 .5 1.9 .5 .1 .5-1.1 .5 2.2 .5-2.3 .5 1.6 .5-.5 .5 .1 .5 .6 .5-.1 .5-.7 .5-.8 .5-.1 .5 1.1 .5 1 .5-.5 .5-.7 .5 .3 .5 .3 .5 .8 .5-1.9 .5 1.1 .5-.3 .5-.8 .5-.1 .5 1.7 .5-.7 .5-.4 .5 .2 .5 .7 .5-.7 .5 1.2 .5-1.4 .5-.4 .5 .5 .5-.6 .5 .4 .5 1.2 .5 .3 .5-.8 .5-.3 .5-.8 .5-.1 .5 1.1 .5-.2 .5-.5 .5 .1 .5 1.5 .5-.5 .5-.7 .5 .2 .5 .7 .5-.6 .5-.1 .5-1.4 .5-.1 .5-.1 .5-.3 .5 1.7 .5 .2 .5-.9 .5 1 .5 0 .5-.4 .5-1 .5 2.2 .5-.1 .5-1.4 .5 1.8 .5-1.4 .5-.6 .5 .3 .5-1.1 .5 1.1 .5-.9 .5 2 .5-.6 .5-1.2 .5 1.4 .5-1.7 .5 1.4 .5 .3 .5-.4 .5-.9 .5 .8 .5 0 .5 .1 .5 1.1 .5 .2 .5-.1 .5-1.7 .5-.1 .5 .6 .5 .3 .5-1.9 .5 1.1 .5 1.8 .5-2.2 .5 .3 .5 .1 .5 .8 .5-.4 .5-.2 .5-.9 .5 1.6 .5-.4 .5-.5 .5 .5 .5 .6 .5-1.7 .5-.1 .5 .4 .5 .1 .5-1 .5 1.2 .5 1.3 .5-1.1 .5 1 .5-2.4 .5 1.6 .5 1.1 .5 .1 .5-1.5 .5-.3 .5 1 .5-1.3 .5 .7 .5-1 .5 1.3 .5 0 .5 1.2 .5-1 .5-.7 .5 .4 .5-.9 .5 1 .5-.2 .5 .5 .5 .4 .5-2.3 .5 1.8 .5 .3 .5-1.5 .5 2.4 .5-2 .5 2.2 .5-1.1 .5 .2 .5-.6 .5 .6 .5-1.5 .5 .1 .5-.8 .5 1.8 .5-.9 .5 1.1 .5-.1 .5-1.5 .5 1.6 .5-.4 .5 0 .5 .2 .5-.4 .5 0 .5 .8 .5-1.5 .5-.2 .5 .4 .5 1.3 .5-1 .5 1.7 .5-3.1 .5 1.1 .5 .2 .5 .5 .5 .8 .5-1.1 .5-.7 .5 1.4 .5 .6 .5-2.8 .5 2 .5-.2 .5-.8 .5 .2 .5 .6 .5-.2 .5-.2 .5-.7 .5 1.1 .5-.7 .5 .6 .5-.5 .5 .5 .5 .5 .5-.4 .5 .3 .5-1.6 .5 1.4 .5-.1 .5-.7 .5 .4 .5-1.6 .5 1.7 .5-.3 .5-1.4 .5 2.1 .5-.9 .5 .7 .5-.4 .5 .5 .5-.3 .5-.2 .5 .5 .5 .3 .5-2.3 .5 1.7 .5-.5 .5-.4 .5 1.8 .5-.2 .5-1.5 .5-.1 .5 1.5 .5-1.1 .5 .2 .5-1.2 .5 1.4 .5 .9 .5-1.2 .5 .3 .5 1.4 .5-.7 .5 .4 .5-.6 .5 .4 .5-2.1 .5 .6 .5-.6 .5 2.9 .5-1.5 .5-.3 .5-.4 .5-.2 .5-.9 .5 3.3 2.5-1.9 2.6-.2 2.2-.2 3-.3 2.8-.5 2.7-.8 3.2-1 2.7-1.1 3.3-1.2 3.2-1.1 3.1-1 3.3-1.1 3.1-1.1 2.8-1 2.9-1.2 1.8-4.7 1.5-.2 1.8 2.2 .7 0 1.7-.7 1.9-.6 1.6-.6 1.3-.6 1.7-.7 1.5-.7 1.3-.9 1.1-1 1.6-1 1.1-1 1-.9 1.2-.7 .6-.6 .6-.6 .9-.7 1.2-1.2 .2-1.5 1-1.6 .8-1.9 1.1-2.4 .4-2.8 1-3.5 .6-4.1 0-4.4 .5-4.6 .5-4.4 1.3-4 .8-3.7 1.3-3.9 1.1-4.6 .9-5.8 1.2-5.2 .8-4.4 -.4-6.1 .9-10.3 .9-17 .2-26.2 .7-33.6 .8-37.5 1-37.6 .7-34.1 .7-32.1 1.3-32.5 1.2-30.7 1.2-26.5 .5-20.2 0-12.1 0-5.6 -.1-1.6 -.1 .1 0-.8 2.4 0 2.6 0 3.4 0 2.4 0 2.4 0 .5 2 .2 2.3 -.3 3.4 -1 5 .3 7.3 .8 10.3 .1 12.7 .8 14.4 .4 14.9 .4 14.7 .7 15.2 .8 16.4 .7 16.3 .6 14.9 -.2 12.2 .9 7.6 -.2 3.9 .6 3 .4 5.2 .7 10.3 .6 17.8 1 23.5 .5 25.3 1.1 23.5 .5 17.9 .2 11.1 -.1 6.8 .5 4.4 0 3.7 .3 5 .1 6.2 .4 6.1 .6 6.2 .5 6.2 .6 6.3 .9 6.6 .1 6.8 1.3 6.8 -.5 6.5 1.7 5.8 .3 5.2 1.5 4.7 0 4.3 1.1 3.8 .2 3.5 .4 2.9 .9 2.3 .4 2 0 1.8 1.3 2 -.1 2.1 1.2 2.1 .1 2.1 .8 1.9 1.1 1.8 .6 1.6 1.3 1.5 .4 1.4 1.8 1.3 1.4 1.2 1.9 1.1 2.6 1 2.4 1 2.6 .9 2.8 1 .3 .5 .5 1 .5-.9 .5 .9 .5-.7 .5 .9 .5 .1 .5-.6 .5-.6 .5 .4 .5 .4 .5 1.2 .5-.4 .5 0 .5 .7 .5 .3 .5 .6 .5-1.4 .5 1 .5 .2 .5-1.2 .5 .9 .5-.8 .5 .6 .5 .5 .5-1.5 .5 .7 .5 0 .5 .7 .5-.6 .5 .8 .5-.9 .5 .2 .5 .8 .5-.3 .5-.1 .5-.3 .5 .7 .5 .2 .5-1.4 .5-.4 .5-.4 .5 2 .5-2.1 .5-.5 .5 1.1 .5 .4 .5-1.8 .5 .8 .5-1.1 .5 .5 .5 1.8 .5-1.1 .5-.2 .5 .3 .5 .3 .5-.2 .5-.6 .5 .2 .5 2.5 .5-1.9 .5 1.7 .5-1.3 .5 1.7 .5-.3 .5-.6 .5 1.8 .5-2 .5 .6 .5-.4 .5 .2 .5 .4 .5-.4 .5 .5 .5 1.5 .5-2.4 .5 .4 .5 .2 .5 .4 .5 1.2 .5-.2 .5-.2 .5-.2 .5 1.5 .5-2.4 .5 0 .5 .8 .5 .2 .5-.3 .5-.5 .5-.3 .5 .8 .5-.4 .5 .2 .5-.4 .5 1.8 .5-.7 .5 1.1 .5-1.8 .5 .4 .5-.2 .5 .2 .5-.2 .5 .1 .5-1.4 .5 1.3 .5 .7 .5-2 .5 1.2 .5 .7 .5 .5 .5-1 .5 .4 .5 1 .5-.4 .5-1.3 .5-.1 .5 1.2 .5-.6 .5-.6 .5 .2 .5 .4 .5-.4 .5-.1 .5 0 .5-.9 .5 2.3 .5-.4 .5 .2 .5-1.3 .5 .1 .5 .3 .5 .1 .5-2.1 .5 1.6 .5-1.1 .5 .5 .5-.5 .5 1.6 .5-1 .5-.6 .5 .9 .5-1.2 .5-.7 .5 .2 .5-.3 .5 .2 .5 .5 .5-.9 .5 0 .5 .7 .5-.5 .5 .5 .5-.6 .5-1 .5 .3 .5-.3 .5 2.2 .5-.3 .5-.5 .5-.3 .5 1.2 .5-.2 .5 .5 .5-.7 .5-.1 .5 2.1 .5-1.7 .5 .8 .5 1.1 .5-2.3 .5 1.9 .5-.4 .5-.1 .5 .4 .5-1.1 .5-.7 .5 3.1 .5-1.6 .5 .9 .5 .2 .5-.6 .5 .1 .5 .2 .5 .7 .5-.8 .5 .6 .5-1.2 .5-.1 .5 .4 .5 .2 .5 .2 .5 1 .5-.8 .5-.6 .5 1.4 .5-1.2 .5 0 .5 .1 .5-.6 .5-.6 .5 1 .5-.4 .5-.4 .5 .7 .5-.2 .5-.3 .5-.9 .5 1.2 .5 1.4 .5-.6 .5 .1 .5-.8 .5 .8 .5-1.3 .5 .1 .5 .7 .5-1.4 .5 1.1 .5 .1 .5 1 .5-1.8 .5 .8 .5-.8 .5 0 .5-1.3 .5 .9 .5 1.5 .5-.6 .5-.3 .5 1.4 .5-1.3 .5-1.5 .5 .7 .5-.1 .5 1.1 .5-2 .5 .8 .5 .3 .5-1.5 .5 .5 .5-1.7 .5 1.4 .5-1.8 .5 1.2 .5 1.5 .5-1.1 .5-.2 .5 .1 .5 1.5 .5-1.1 .5 .4 .5-.9 .5 .1 .5-.3 .5 .8 .5-.2 .5 1.4 .5-.1 .5-.4 .5-.2 .5-1.1 .5 1.4 .5 .7 .5 .4 .5-2 .5 0 .5 1.9 .5-.8 .5 .6 .5-.1 .5 .8 .5-1.8 .5 1 .5 1.2 .5-.5 .5-.8 .5 1 .5-.1 .5-.9 .5 1.2 .5 0 .5-.6 .5 .8 .5-1.6 .5 1.5 .5-.7 .5-.6 .5 .3 .5 1.3 .5-1.3 .5 .2 .5-.3 .5-.1 .5 1.3 .5 1 .5-.7 .5-.6 .5 .2 .5-.8 .5-.2 .5-.5 .5 2 .5-1.3 .5-.3 .5 0 .5 .6 .5-.5 .5 .4 .5 .1 .5 .9 .5-1.9 .5 1.1 .5-.7 .5 .2 .5 1.5 .5-.8 .5-.7 .5 .6 .5-.3 .5 .8 .5-1.2 .5 .7 .5-.5 .5 .2 .5-.2 .5-.3 .5 .5 .5 .7 .5-1.2 .5 .1 .5 .6 .5-.8 .5 1.2 .5-.2 .5-2.2 .5 1.2 .5-.3 .5 1.4 .5 .1 .5-1.6 .5 .4 .5 .4 .5-.2 .5 .8 .5 .2 .5-.3 .5 .3 .5-.1 .5-.7 .5-.3 .5-.3 .5 1.2 .5 0 .5 .1 .5-1 .5 0 .5 .4 .5 .8 .5-.7 .5-.1 .5-.8 .5 .9 .5 .1 .5-1.1 .5 1.9 .5-1.9 .5 1.3 .5-.8 .5 .2 .5-.7 .5 .2 .5 .9 .5-.7 .5-.1 .5 .9 .5-.2 .5-.4 .5 0 .5 1.1 .5-1.4 .5 .4 .5 0 .5-1.4 .5-.4 .5 1.5 .5 .5 .5-.5 .5-.6 .5-.1 .5 1 .5-.8 .5-1.1 .5 1.7 .5-.4 .5 .1 .5 .4 .5 .1 .5-.6 .5-.7 .5-1.5 .5 1.6 .5-.5 .5 .9 .5-.2 .5-.8 .5 .4 .5-1.3 .5-.3 .5-.9 .5 0 .5 0 .5 .3 .5-1.7 .5 .8 .5 .7 .5-3 .5 .6 .5 0 .5 .7 .5 .7 .5-.5 .5-.8 .5-.5 .5 .8 .5 .3 .5 .5 .5-.6 .5 2 .5-1.5 .5 1.3 .5-.2 .5-.9 .5 1 .5-.1 .5-.2 .5 .4 .5-1.5 .5 .7 .3-1.7 .2-2.7 .2-2 .1 1.4 .2-2.1 .1-1.3 .2-2.1 .1-1.8 .1-1.9 .1 1.9 .1-1.7 0-2.9 .1 .4 .1-4.3 .1 .4 .1-1.2 0-2.5 .1-1 .1-1.8 0-.6 .1-.5 0-1.7 .1-2 0-.8 .1-3.4 .1 1.4 0-2.9 0-2.3 .1-.8 .1-1.6 0-.9 0-1.4 .1-3.4 0 1.3 .1-1 0-3.4 .1 .5 0-1.5 .1-1.6 0-.9 0-3.7 .1 .2 0-2.8 .1 1 0-3.8 0-1.7 .1 .3 0-1.9 .1-1.9 0-1.4 0-1.2 .1-.6 0-3.4 .1-1.4 0-1.5 .1-1.1 0-1.4 0-2.5 .1-.3 0-2.7 .1-.8 0-1.4 .1-1.5 0-.1 0-1.3 .1-1.9 0-1 .1-2.8 0-.1 0-2.8 .1-1.4 .1-1.5 0-2.8 0-.9 .1-1.1 .1-1.1 0-1.7 0-1.9 .1-1.5 .1-.9 0-2.6 .1-1.6 .1-.6 .1-1.1 0-2 .1-1.8 .2-.4 .1-.9 .2-1.5 .3 .6 .2 .9 .1 3.4 .1-.3 0 2.8 .1 .6 .1 2 .1 1.8 .1 .1 0 4.3 .1-1.5 0 2.7 .1 .8 0 1.9 .1 2.8 0-.9 .1 2.9 0 1.9 .1 1.2 .1 1.7 0 .6 0 .8 .1 1.8 .1 2.2 0 2.3 0 1 .1 2.7 .1 .3 0 1.6 0 1.5 .1 0 .1 3.1 0 .2 0 1.9 .1 3.3 .1-1.3 0 2.4 .1 1.7 0 1.4 .1 1.3 0 1 .1 3.2 .1-1.7 0 1.9 .1 3 .1 1.3 .2 .6 .1 1.2 .1 1.3 .5 1.4 .1-2.2 .1-2.2 .1-.5 .1-2.2 .1-.3 .1-2.1 0-.4 .1-2.1 .1-2.6 0-1.6 .1-2.5 0-1.1 .1-1 0-1.9 .1 .7 0-3 .1-1.9 .1-2.5 0-.8 0-1.8 .1-1.9 0 .2 .1-2.5 0-.7 0-2.5 .1-2.2 0-1.3 .1-.8 0-1.2 0-1.2 .1-1.1 0-2.7 0-.4 .1-2.5 0-1 .1 .8 0-2.2 0-2.7 .1 .1 0-1.8 .1-1.9 0-1 .1-2.8 0-1.3 0-2 .1-.3 0-2.8 .1-.8 0-.6 .1-2.4 0-1.1 .1-.5 0-3.7 .1 .3 0-3 .1-1.5 0-.5 .1-.6 .1-3.3 .1-1.8 .1-1.2 .1-1.5 .1-.2 .5-.7 .1 1.2 .1 1.6 .1 .9 .1 2.9 .1 .6 .1 1.1 0 3.4 .1 1 0 .3 .1 2.1 0 1.1 .1 1 0 2.6 .1 1.4 0 2 .1-1 0 3.4 .1 .9 0 .8 .1 1.6 0 1.5 0 .7 .1 2.1 0 2.5 .1-.2 0 2.4 .1 2.7 0 2.1 .1 1.1 0 1.6 0 .5 .1 2.7 0 .4 0 2.8 .1 .9 0 1 .1 2.9 0 2.5 .1 .8 0 1.3 .1 2.2 0 1 0 1.1 .1 1.3 0 1.6 0 1.3 .1 1.1 0 .8 .1 .4 0 2.9 0 1.5 .1 2.6 0 1 .1 2 0 1.9 .1 .1 0 .8 .1 2.7 0 .3 .1 1.6 0 2.6 .1 .9 0 1.9 .1-.3 0 2.5 .1 2.2 0-.4 .1 2.5 0 1.4 .1-.7 .1 4.4 0-.2 .1 1.8 .1 2.7 .1-1.3 0 3 .1 .4 .1 2 .1 .7 .1 3 .1-.7 .1 2.3 .2 1.8 .1 .9 .2 1.1 .3 1.6 .2 2.2 .2 .5 .3 .4 .5 .4 .5 1.8 .5 1.1 .5 .5 .5 2 .5-1.6 .5 4.1 .5-.8 .5 .3 .5 .5 .5 3 .5 .7 .5 .3 .5 1 .5 .9 .5 .4 .5 1.8 .5 .3 .5 .1 .5-.6 .5 2.8 .5-.9 .5 0 .5 2.2 .5-.2 .5-1.5 .5 .6 .5 1.3 .5-.4 .5 1.1 .5 2 .5 .3 .5-1.5 .5 .9 .5 .2 .5-.6 .5-.8 .5 2.1 .5-.8 .5 .6 .5 .3 .5-1 .5 2 .5-1.1 .5 .2 .5-.4 .5 1 .5 .3 .5-1.1 .5 .9 .5-.7 .5-.5 .5 .7 .5 .8 .5 0 .5 .4 .5-1.2 .5 .3 .5 .3 .5 .5 .5-.6 .5-.6 .5-.4 .5 2.1 .5-.1 .5-1.3 .5 1.7 .5-1.2 .5 .4 .5 .6 .5-1.3 .5-.2 .5-.8 .5 1.5 .5 .1 .5 .3 .5-.3 .5-.5 .5 .7 .5-1.8 .5 .8 .5-.1 .5-.8 .5 1.1 .5-1.4 .5 .2 .5-.8 .5-1.4 .5 1 .5-1.2 .5-1.5 .5-.8 .5-1.2 .5 .1 .5-.5 .5 .1 .5-.5 .5 .8 .5-.2 .5-.7 .5 1.4 .5 .3 .5 .4 .5 1.4 .5 1.5 .5-.9 .5-.1 .5 2 .5 2.2 .5-1.7 .5 1.1 .5-.2 .5 1.2 .5 .7 .5-1.1 .5 1.2 .5-1.6 .5 1.1 .5-1 .5 1.2 .5-.6 .5 .7 .5-.9 .5 1 .5 0 .5-.5 .5-.2 .5-.2 .5 .6 .5 .6 .5-.4 .5 .3 .5 .8 .5-1.1 .5 .4 .5 .5 .5-.3 .5-.1 .5-.2 .5 1.4 .5-1.5 .5-.2 .5 .8 .5 .8 .5-.2 .5-1 .5 .6 .5-.3 .5-.3 .5 .5 .5-.1 .5-.3 .5 1.2 .5-1.6 .5 1.4 .5 .5 .5 0 .5-1.4 .5-.3 .5-1.1 .5 1.2 .5 1.7 .5-2.8 .5 0 .5 1.8 .5-.2 .5-1.8 .5 1.3 .5 .3 .5-1.4 .5 1.9 .5-1.7 .5 1.8 .5-.7 .5-.6 .5-.7 .5 .9 .5 .2 .5 0 .5-.3 .5 .2 .5 .9 .5-1.4 .5 .5 .5 .6 .5-.4 .5 .7 .5 .5 .5-1.5 .5 .5 .5-1.9 .5 1.5 .5 .7 .5-1.3 .5 1.8 .5-2.4 .5 2.4 .5-1.4 .5-.3 .5 .4 .5 .1 .5-.5 .5-.3 .5 .6 .5 1.1 .5-.4 .5 .7 .5-1.4 .5 .2 .5 0 .5 .3 .5 .3 .5 1 .5-.8 .5-.4 .5 .9 .5-1.7 .5-.4 .5 1.5 .5-.3 .5-.1 .5 .6 .5-.9 .5 .2 .5 .3 .5 .2 .5 .3 .5-.7 .5 .1 .5-1.8 .5 2.6 .5-2.1 .5 1.1 .5 1.7 .5-1.9 .5-1 .5 2.4 .5-1.6 .5 .3 .5 0 .5 .7 .5 0 .5-.7 .5 1 .5-1.6 .5 1.2 .5-.9 .5 1 .5-1.1 .5 .2 .5 1.4 .5-1.9 .5-.1 .5 1.4 .5-.7 .5-.1 .5 .2 .5 1.7 .5-2.4 .5 .6 .5 .3 .5-.8 .5 .7 .5 .4 .5-1.1 .5 1.5 .5-1.7 .5 .8 .5 .4 .5 1.3 .5-2.9 .5 1.5 .5 1.4 .5-2.1 .5 1.3 .5-.6 .5-1.3 .5 1.4 .5-1 .5 .7 .5-1.1 .5 1.6 .5-2.2 .5 1.5 .5 1.1 .5-.5 .5-.7 .5 .1 .5-.2 .5 2 .5-1.7 .5 0 .5-.5 .5 .2 .5 .8 .5-.9 .5-.2 .5 .2 .5 .2 .5 .3 .5-.5 .5 .3 .5-.5 .5 1.5 .5-.8 .5-.4 .5 .5 .5-.3 .5-1.1 .5 1 .5 1.4 .5-.9 .5 .5 .5-1.4 .5-.6 .5 .6 .5 1.5 .5-1.8 .5 .1 .5 1.4 .5-1 .5 0 .5 .4 .5-.3 .5-.4 .5 .4 .5-.8 .5 .4 .5 .4 .5-1.5 .5 .5 .5-.9 .5 1.3 .5-.4 .5 .1 .5-.2 .5-.3 .5-.5 .5-1.4 .5 1.1 .5-1.7 .5 2.2 .5-1.6 .5 .1 .5-1.4 .5 1.8 .5 .1 .5-1.9 .5 1 .5 .3 .5 .1 .5 1.8 .5 .8 .5-2.2 .5 1.9 .5-.8 .5 1.4 .5-2.5 .5 1.5 .5 1.4 .5-1.4 .5 1.6 .5-1.2 .5 1.3 .5-.3 .5-.7 .5-.3 .5 .5 .5 1 .5-.9 .5-.5 .5 2.1 .5-2.9 .5 1 .5 .5 .5-1.3 .5 .7 .5-.4 .5-1 .5 1.3 .5-1.4 .5 .1 .5 1.3 .5-2 .5 1 .5 .2 .5-.4 .5-.7 .5-.7 .5-1.1 .5 1 .5 .1 .5-.7 .5-.3 .5 1.5 .5-1.3 .5 1.3 .5-.5 .5-.6 .5 2.7 .5-.4 .5 .2 .5-1.3 .5 1.2 .5 .5 .5-.5 .5 1.9 .5-2.6 .5 2.2 .5-1.8 .5 .3 .5 .3 .5 1.5 .5-.9 .5 .1 .5-.2 .5-.4 .5 .5 .5 0 .5 .5 .5 0 .5-1.4 .5 1.2 .5 1.4 .5-1.3 .5 .3 .5-.4 .5 0 .5 .5 .5-1 .5 .9 .5-1.1 .5 1.5 .5-1.4 .5 1.6 .5 .3 .5-2 .5 1.8 .5-.9 .5 1.2 .5-1.2 .5 .1 .5 0 .5 1.2 .5-2.4 .5 2 .5-.5 .5-.4 .5 .2 .5 .9 .5-.1 .5 .6 .5-1.7 .5-.9 .5 1 .5 .2 .5-.2 .5 1.3 .5 .8 .5-1.4 .5-1.7 .5 2.2 .5-1.3 .5 .5 .5 .6 .5-.3 .5-.4 .5 .3 .5 .3 .5-.1 .5 1.1 .5-3.1 .5 1 .5 .1 .5 1.1 .5-.5 .5 .5 .5-1.7 .5 .9 .5 .7 .5-.6 .5-.2 .5 .5 .5 1 .5-2.8 .5 2.8 .5-1 .5-.9 .5 1.2 .5-.5 .5 .9 .5-1.5 .5 1.3 .5-1.4 .5 .9 .5 .3 .5-.6 .5 .5 .5-.9 .5 1.2 .5-1.2 .5-.1 .5 .4 .5 0 .5-.6 .5 1.2 .5-.9 .5 0 .5-2.7 .5-1.1 .5 .1 .5 .1 .5 2 .5 1.5 .5 1 .5 .5 .5-.5 .5-1.1 .5 1 .5-.8 .5 .8 .5-1.2 .5 1.8 .5-.7 .5-.5 .5-.8 .5 1.2 .5-.6 .5 .6 .5-.7 .5 .1 .5 .9 .5 .6 .5-2 .5 .8 .5 .4 .5-.4 .5-.2 .5 2 .5-2.3 .5 .9 .5-.6 .5 .3 .5-1.5 .5 2.2 .5-.8 .5-.6 .5 2 .5-1.5 .5-.2 .5-.2 .5 1.4 .5-.7 .5-.3 .5-.8 .5 .4 .5 .9 .5-.3 .5-1.5 .5 .9 .5 .8 .5 1.6 .5-2.3 .5-1 .5 2.1 .5-.9 .5-.7 .5 1.4 .5-.6 .5-.5 .5-.3 .5 .9 .5 .2 .5-1.4 .5 2.1 .5-1.7 .5 2 .5-.8 .5-.4 .5 .4 .5-.7 .5 .4 .5 1.2 .5-1.6 .5 1 .5-1.3 .5 .7 .5 .7 .5-1.6 .5 1.2 .5-1.9 .5 .7 .5 .6 .5 1 .5-.6 .5 0 .5 0 .5 0" stroke="#008F00"/>
<path d="M45.5 78.0l0 329.5 .1 2.7 0 1.7 .1 .3 0 1.7 .1 1.1 0 1.6 0 1.5 .1 1.9 0 .6 .1 .3 0 2.3 .1 1.8 .1 .4 0 1.7 .1 1.3 .1 0 .1 2.3 .2 2.2 .1 2.4 .2-.1 .2 1.1 .3 1.3 .3 1.5 .2 .9 .5 0 .5 1.6 .5 1 .5-1.6 .5 2.9 .5-.9 .5 1.1 .5-.5 .5 0 .5 .3 .5 .4 .5 .5 .5-.8 .5-.6 .5 .4 .5-.1 .5 1.3 .5-1.2 .5 1.9 .5-1 .5-.2 .5 1.1 .5-1.2 .5 .1 .5 .8 .5 0 .5-1.3 .5 2.5 .5-1.3 .5-1.4 .5 .9 .5 .8 .5-.5 .5 .5 .5 1 .5-1 .5 .8 .5-.9 .5-1 .5 1.6 .5-1.7 .5 1.3 .5-.2 .5-1.2 .5 .2 .5 .4 .5 .4 .5 .7 .5-.9 .5 1.3 .5-.7 .5-1.2 .5 .1 .5 .5 .5-.5 .5 .4 .5 .6 .5-.4 .5 .6 .5-1.3 .5-.1 .5-.4 .5-.3 .5 1 .5 .4 .5-.2 .5 .2 .5 1.5 .5-2.4 .5 .6 .5-.1 .5-.3 .5 1.7 .5-1.1 .5 1 .5-1.8 .5 2.3 .5 .2 .5-2.3 .5 .6 .5 0 .5 .5 .5-1.4 .5 1.3 .5 .2 .5-1 .5-1.2 .5 1.1 .5 .3 .5 .8 .5-1 .5-.4 .5 1.3 .5-.2 .5 .3 .5-.5 .5 .7 .5-.4 .5-1.7 .5 1.5 .5 .4 .5-.5 .5 1 .5-1.4 .5 .9 .5-1.5 .5 .9 .5-.4 .5-.3 .5-.2 .5 1.1 .5 .1 .5-.8 .5-.4 .5 .2 .5 1.3 .5-1.5 .5 1.7 .5-2.1 .5 1.4 .5 0 .5-.1 .5-2.3 .5-1.5 .5-1.2 .5 2.4 .5 .5 .5 .8 .5 .6 .5 .7 .5-.1 .5 .9 .5-2.4 .5 2.2 .5-1 .5 .3 .5-.1 .5 .1 .5 .7 .5-.4 .5-1.3 .5 1.1 .5-.1 .5 .4 .5-.3 .5 0 .5 .8 .5-1.6 .5 2.5 .5-2.1 .5-.4 .5 1.4 .5 .2 .5 .2 .5 .1 .5-.7 .5-.3 .5 .2 .5-.3 .5-.4 .5 1.6 .5 .2 .5-1.4 .5-.2 .5-.2 .5-.8 .5 .7 .5 .1 .5 .4 .5-.7 .5-.7 .5 1.9 .5 .8 .5-2.9 .5 1.5 .5 .7 .5-1.5 .5-.2 .5 1.1 .5-.2 .5-.3 .5 1.7 .5-.1 .5-.6 .5-.6 .5-.1 .5 .9 .5-.9 .5 1.3 .5-.2 .5-1.4 .5 1.1 .5 .6 .5-.7 .5-1.2 .5 .5 .5-.1 .5 .4 .5-.1 .5-.3 .5 .9 .5 .4 .5-1.4 .5-.7 .5 1.4 .5-.3 .5 .3 .5-.8 .5 .7 .5-.9 .5 1.5 .5 .5 .5-2 .5-1 .5 1.3 .5 0 .5 .6 .5-.2 .5 .4 .5 1.2 .5-2 .5 .1 .5 .6 .5-1.7 .5 2 .5-1.1 .5-.6 .5 .5 .5 1 .5 .2 .5 .3 .5-.6 .5-.8 .5 .9 .5-.5 .5 1.7 .5-3.1 .5 2.7 .5-.6 .5-.3 .5-.4 .5-.3 .5-.3 .5-.5 .5 2.7 .5-.8 .5-.2 .5-.2 .5-1.7 .5 1.2 .5 .3 .5 .8 .5-1.7 .5 1 .5-.4 .5 .2 .5-.6 .5 .9 .5-.3 .5-1.4 .5 2.3 .5 .7 .5-2.3 .5 1.5 .5-1.6 .5 .4 .5 1.7 .5-1.2 .5 1 .5-.9 .5 .5 .5-.8 .5 1.2 .5 .2 .5-.8 .5-.9 .5 .1 .5-.4 .5 1.1 .5 0 .5-1 .5 1.3 .5-1.2 .5 1.8 .5-.7 .5 .6 .5-1.8 .5-.2 .5-.6 .5 1.8 .5-1.3 .5 1.9 .5-.9 .5 .4 .5-1.5 .5 .5 .5 .6 .5 .4 .5-1.5 .5 1.2 .5-.9 .5 1.3 .5-.8 .5-.1 .5 .6 .5 .5 .5-1 .5 1.1 .5-1.7 .5 1 .5-1.1 .5 1 .5-.8 .5 .7 .5 .4 .5-1.2 .5-.6 .5 1.2 .5 .5 .5-.2 .5-.9 .5 1.3 .5-.8 .5 .8 .5-1.3 .5 1 .5 .6 .5-1.4 .5 .3 .5 .7 .5-.1 .5-.1 .5-.4 .5-1.1 .5 1.2 .5-1 .5 1 .5-1.8 .5 2.8 .5 .4 .5-1.1 .5-1 .5 .4 .5 .9 .5-.2 .5-1 .5 1.4 .5-.3 .5-.2 .5-.6 .5 .2 .5-.5 .5 .7 .5-.7 .5 1.4 .5-.9 .5 .2 .5 0 .5 0 .5-1.3 .5 2 .5-.9 .5-.4 .5-.4 .5 .2 .5 .1 .5 .5 .5-.7 .5 .7 .5 0 .5-.6 .5 2.1 .5-1.7 .5 .3 .5-.2 .5-.2 .5 .6 .5 .6 .5-1.1 .5-.6 .5 1 .5-2 .5 1.7 .5-.3 .5 .3 .5-1.4 .5 .8 .5-.5 .5 .3 .5 .8 .5-.7 .5-.4 .5 1.3 .5-1 .5-1.7 .5 .5 .5 .9 .5-.2 .5-.4 .5-.3 .5-1.2 .5 .3 .5-1.2 .5-.1 .5-.5 .5-.3 .5 .1 .5-.2 .5-.6 .5 1.4 .5-1.1 .5 1.6 .5-.2 .5-1.4 .5 1.9 .5-1.3 .5 2.4 .5-.5 .5-.7 .5-.6 .5 1.6 .5-.5 .5 2 .5-1.6 .5 .8 .5 .6 .5-.3 .5 .1 .5-.4 .5 .6 .5-1.4 .5 .8 .5-1.5 .5 .6 .5-1.3 .5 .2 .5 .1 .5 0 .5-2.8 .5 .1 .5-.7 .5 1.1 .5-2 .5 .8 .5-1.1 .5-.8 .5 1.2 .5-.6 .5 1.7 .5 .6 .5 .9 .5-1.2 .5 2.5 .5 .2 .5-1.5 .5 3.5 .5 0 .5-1.6 .5 1.4 .5-.9 .5 1.2 .5 .4 .5 .6 .5-.9 .5 .7 .5-.6 .5 1.1 .5 .3 .5-.4 .5 .9 .5-.3 .5-.2 .5 .6 .5-1.8 .5 1 .5-1.3 .5 1.3 .5-.3 .5 1 .5-1 .5-.1 .5 .4 .5 0 .5 .5 .5-1 .5-.5 .5 0 .5 2 .5-1.8 .5 .6 .5-.4 .5 1.4 .5-1 .5 1.3 .5-1.4 .5 .7 .5 .4 .5 .1 .5-1.6 .5 .6 .5 .3 .5-1.3 .5 1.9 .5-.3 .5 .1 .5-1.4 .5 1.2 .5 .2 .5 .4 .5-1.1 .5 .8 .5 1 .5-1.8 .5 0 .5 .1 .5-.9 .5 .9 .5 1.5 .5-1.9 .5 .5 .5 1 .5-.4 .5-.3 .5-.4 .5 .2 .5 .1 .5 .5 .5-.5 .5 .7 .5-2.1 .5 2 .5-1 .5 .4 .5-.3 .5 .7 .5-.5 .5 .5 .5-1 .5 .7 .5 .8 .5-.1 .5-1.1 .5 .4 .5-.4 .5 .2 .5 .1 .5 .9 .5-.5 .5 .6 .5 .1 .5-2.1 .5 1.2 .5-.6 .5-.8 .5 .4 .5 .4 .5 1.6 .5-1.2 .5-.2 .5 .1 .5-.5 .5 .7 .5-.2 .5-1.1 .5 .8 .5 2 .5-1.2 .5-.5 .5 .5 .5-1.2 .5 .8 .5 .6 .5-1.8 .5 .6 .5 .3 .5 0 .5-.1 .5 .6 .5 .5 .5-.5 .5 .5 .5 0 .5-1.2 .5 .6 .5-.4 .5 .7 .5-.7 .5 .1 .5 1.4 .5-1.4 .5-1 .5 1.2 .5 .2 .5-.6 .5 .4 .5 .7 .5-1.1 .5 .2 .5-.4 .5 .8 .5-.4 .5-.5 .5 .5 .5 1.5 .5-2.6 .5 .2 .5 1.3 .5-1.3 .5 2.5 .5-2.6 .5 .2 .5 .5 .5 1.2 .5-.2 .5-.2 .5-.2 .5 .8 .5-2.3 .5 1.5 .5 .9 .5-1.9 .5 1.1 .5 .6 .5 0 .5-1 .5 1.5 .5-1 .5 .4 .5-1.6 .5 .3 .5 0 .5 1.8 .5-3 .5 .4 .5 1.9 .5-.5 .5-1.8 .5 1.4 .5 .1 .5 1.1 .5-2.3 .5 1 .5 1.2 .5-.2 .5-1.3 .5 .5 .5-.9 .5 2.1 .5-1.3 .5 1.2 .5-.3 .5-1.3 .5 .6 .5 .6 .5-.2 .5 .8 .5-.3 .5-.6 .5 .3 .5-1 .5 0 .5 .9 .5-.2 .5-1 .5 .7 .5-.5 .5 .2 .5 1.3 .5-1.6 .5 .2 .5 .9 .5-.4 .5 .1 .5-1.2 .5 1.1 .5-.3 .5-.3 .5 .2 .5 .2 .5 .8 .5 .7 .5-1.3 .5 1 .5-1 .5-1.1 .5 1.1 .5 .9 .5 .1 .5-1.7 .5 2.3 .5-2.2 .5 0 .5 .2 .5 1.4 .5-.8 .5 .4 .5-2.3 .5 1.6 .5 0 .5 .6 .5-.9 .5 1.2 .5-1.4 .5-.5 .5-.1 .5 2.1 .5-.4 .5-1.1 .5 1.3 .5-.9 .5 .1 .5-1 .5 .6 .5 .5 2.6-.3 2.4-.3 2.9-.2 2.7-.3 2.2-.3 3.2-.3 2.6-.3 3.5-.4 2.7-.4 3.2-.6 2.9-.7 2.8-.9 3.2-1 2.2-.9 2.4-.9 2.2-1.6 1.7-4.7 1.7 1.1 1.4 1.9 1.3-.3 1.9-.4 1.2-.2 1.6-.2 1.5-.2 .9-.5 1.4-.7 1.5-.9 1.4-1 1.1-1 2.1-.9 .8-.6 1.5-.6 .3-.5 1.2-.6 .9-.9 1-1.1 1.3-1.2 .9-1.4 1-1.7 1-2.4 .2-3.1 1.1-3.8 .7-4.1 1.2-4.1 .3-3.9 .4-3.4 .3-3.2 0-3.1 .7-3.4 .1-3.9 .4-4.6 1.4-5.1 1.1-5.3 .6-5.2 .7-4.8 .4-3.1 .1-1.7 -.3-2 .2-4.5 -.1-8.7 .9-13.4 -.3-16.9 1.3-19.7 .6-21.8 .7-23.2 .7-27.3 1.7-32 .8-32.4 .9-29 .8-21.3 .1-12.1 -.5-5.6 -.9-1.6 0 .1 1.5-.8 2.9 0 4.8 0 4.3 0 4.6 0 3.2 0 .8 2 .3 2.3 -.7 3.4 -.6 5 .2 7.3 -.3 10.3 .6 12.7 .2 14.4 1 14.9 .9 14.7 .3 15.2 1 16.4 .3 16.3 1.1 14.9 .3 12.2 .3 8 .8 4.6 -.2 3.6 .5 5 .3 8.8 .9 14.5 .8 18.5 .6 19.8 1.3 18.3 .7 13.9 .5 8.8 .1 5.5 .7 3.4 -.4 2.6 .4 2.7 .4 2.6 0 1.6 .3 1.3 .8 1.5 .6 2.5 .6 3.7 .5 4.5 1.3 4.9 1 4.6 .9 3.8 .6 2.9 .3 2.4 .4 2 .6 1.8 -.4 1.9 1.4 1.9 .2 1.9 1 1.7 .9 1.6 1.1 1.5 1.8 1.3 2.6 1.2 2.3 1 2.7 1 2.1 .9 2.9 .9 1.7 .8 2.8 .8 1.6 .7 2.5 .8 .4-.6 .5 .5 .5 1.2 .5 .7 .5 .4 .5-.4 .5 .5 .5-1.4 .5 .7 .5 1.4 .5-1.3 .5 .3 .5-1 .5 1.2 .5-1 .5 1.4 .5 .9 .5-.9 .5-.1 .5-.5 .5 .7 .5-1.3 .5 .4 .5 1.8 .5-2.6 .5 .5 .5-.7 .5 1.8 .5-1 .5-.8 .5 0 .5 1.7 .5-.2 .5 .2 .5-.5 .5 .9 .5 .4 .5-.2 .5-1.5 .5 0 .5 .5 .5 1.5 .5-1.1 .5 .5 .5 .9 .5-.5 .5-.1 .5 1.8 .5-.3 .5 .4 .5 .2 .5 .4 .5-.9 .5-.1 .5-1 .5 1.1 .5-.2 .5 1.2 .5-.2 .5 .6 .5-.2 .5 .1 .5-.5 .5-.2 .5-.4 .5 .3 .5-.6 .5 .9 .5-.3 .5-1.4 .5-.2 .5 1.2 .5 .2 .5 .1 .5 1.2 .5-1.4 .5-.5 .5 1.2 .5 .5 .5 .4 .5-1.9 .5 .6 .5-.1 .5 1.4 .5-.6 .5-.5 .5 .5 .5-.8 .5 .1 .5 .1 .5-.3 .5 .2 .5 .4 .5-.1 .5 .9 .5-.4 .5-.7 .5-1.5 .5 .5 .5 .6 .5 .1 .5-.7 .5 .7 .5 .3 .5-.5 .5 .3 .5 0 .5-.5 .5-.2 .5 .5 .5 .2 .5-1 .5-.8 .5 .7 .5 1 .5-1.6 .5 1.7 .5-1.2 .5 .3 .5-.8 .5 .9 .5-.6 .5 .1 .5-1.8 .5 1.7 .5-1.9 .5 .8 .5 .5 .5-.6 .5 .4 .5-.3 .5-.1 .5-.6 .5 1.4 .5 .1 .5-1 .5-.2 .5 1 .5-.6 .5 .8 .5 .7 .5 0 .5 .8 .5-.6 .5-.9 .5 .2 .5 1.1 .5 1.1 .5-1.5 .5-.3 .5 1.7 .5-1 .5 .7 .5 .3 .5-1.4 .5 .5 .5-.1 .5 .8 .5 .1 .5-.8 .5 .8 .5-1.7 .5 1.6 .5 0 .5-.3 .5-1 .5 1 .5-.7 .5 1.8 .5-1.2 .5 0 .5 .1 .5 .4 .5-.3 .5 .3 .5-1 .5 1.4 .5-1.1 .5 .9 .5-.4 .5 .6 .5-.8 .5-1 .5 .2 .5 .7 .5 1.1 .5-1.3 .5 .4 .5 .8 .5-1.3 .5 .6 .5 0 .5-.6 .5 .6 .5 .5 .5 0 .5-1 .5 1.9 .5-1.4 .5-.5 .5-.3 .5-.3 .5 1.3 .5-2.3 .5 1.5 .5-.9 .5 .8 .5 0 .5-1 .5 .2 .5 1.5 .5-1.4 .5 .2 .5-.3 .5 .7 .5 .1 .5-.4 .5-.4 .5-.1 .5-1.4 .5 1.6 .5-1.5 .5-.4 .5 .2 .5-.4 .5 .8 .5 .2 .5 .3 .5-.9 .5-.3 .5 .3 .5-.5 .5 .4 .5 2.1 .5-1.8 .5 .3 .5 1 .5-.1 .5 .5 .5-1 .5 0 .5 1.8 .5-1.3 .5 .5 .5 .4 .5-1.4 .5 1.3 .5-.3 .5 .9 .5-.5 .5-1.3 .5 2.1 .5-2.1 .5 1.4 .5-.2 .5 .1 .5 .4 .5 .7 .5-1.3 .5 .2 .5 1 .5-.2 .5 .2 .5-.3 .5-.4 .5-.1 .5 0 .5 .9 .5 .5 .5 .3 .5-2.1 .5 .5 .5 .2 .5-.1 .5-.7 .5 2.4 .5-.5 .5-1.2 .5-.2 .5 .3 .5-.8 .5 .6 .5 .8 .5 .6 .5-.6 .5 .3 .5-1.6 .5-.9 .5 2.6 .5-.9 .5-.2 .5 1.3 .5-1.9 .5 0 .5 .2 .5 1.6 .5-.4 .5-2 .5 2.4 .5-1.1 .5 .3 .5-.9 .5 1.9 .5-1 .5 .6 .5-1.7 .5 1.2 .5-.4 .5-.2 .5-.4 .5 0 .5-.3 .5 .3 .5 .5 .5 .4 .5-1.5 .5 .4 .5 .2 .5-.7 .5 1 .5 0 .5 0 .5 .4 .5 .4 .5-.1 .5-.4 .5 .2 .5-.9 .5-.2 .5 1.2 .5-.1 .5 1.2 .5-1.8 .5-.5 .5 .9 .5-.6 .5-.3 .5 1.6 .5 .4 .5-1.1 .5-.8 .5 .7 .5-.3 .5-.9 .5 1.6 .5-.4 .5 .6 .5-1.3 .5 .4 .5-.1 .5-1.1 .5 2.8 .5-3.1 .5 .6 .5 .6 .5-.9 .5 1.4 .5-.7 .5 .4 .5 .1 .5-.1 .5 0 .5-.2 .5 .4 .5 .2 .5-.8 .5-.1 .5 0 .5 .4 .5-.5 .5 0 .5-.9 .5 2.5 .5-2.4 .5 2.1 .5-.7 .5 .1 .5-.6 .5 0 .5-.2 .5 .1 .5 .1 .5 .3 .5-2 .5 .9 .5 .6 .5-.4 .5-2 .5 .6 .5-.3 .5-.4 .5-2.1 .5 1.8 .5-2.1 .5 2.4 .5-1.5 .5-.8 .5 .3 .5-.5 .5-.6 .5 .3 .5 .4 .5-.7 .5 1.3 .5 .5 .5 .3 .5 .3 .5 .4 .5-.2 .5 .6 .5-.6 .5 .4 .5 .9 .5 .5 .5-1.6 .5-.7 .5 2.6 .5-.7 .5 .4 .5-.8 .5-.9 .5-1.3 .5-1.6 .3 .8 .2-1.7 .2-1.6 .1-2.3 .2-1 .1-1.3 .2-1.2 .1-3 .1 .1 .1-.3 .1-2.8 0-1 .1-1.3 .1-2.5 .1-.7 .1-2.2 0-1 .1-1 .1-1.6 0-1.4 .1-2.3 0-.5 .1-2.9 0 .1 .1-2.2 0-1.8 .1-.6 0-2 .1-1 0-1.1 .1-.8 0-1.4 .1-1.7 0-2.1 0-2.3 .1-.5 0-1.5 .1-1.3 0-1.7 .1-1.5 0-.5 0-3.1 .1-.5 0-.7 .1-3 0-1.7 0-.9 .1-1.5 0-1.1 .1-.6 0-2.6 0-1 .1-2.3 0-1.4 0-.9 .1-2.2 0-.1 .1-2.7 0-1.3 0-2.1 .1-1.1 0-1.9 .1-1.1 0-2.4 0-.1 .1-.2 0-4.1 0 1.3 .1-2.8 0-.7 .1-2.7 0 .8 0-3.8 .1-.9 0-.3 .1-3.6 0-2.2 .1 .2 0-2 .1-1.5 0-1.3 .1-1.7 0 .9 .1-1.8 0-3.5 .1-.6 .1-1.6 0-.2 .1-2.6 0 .7 .1-2.2 .2-2.8 .1-.8 .2-1 .3 2.7 .2 .8 .1 .5 0 1.6 .1 2.2 .1-.5 .1 .9 0 3.8 .1 1.1 .1 .5 0 1.5 0 2.2 .1-1.2 .1 4 0 .3 0 2 .1 1 .1 3.1 0-.6 0 2.6 .1-1 0 3 .1 2 0-.3 .1 1 0 3 .1 2.1 0 1.5 .1 0 0 2.2 .1 .2 0 3.8 0-.2 .1 2.8 .1 .3 0 1.4 0 2.8 .1-.5 .1 2.9 .1 1.4 0 1.7 .1 3 .1 .6 .1 1.1 0 .4 .1 3.1 .2 2 .1 .8 .2 1 .2-2.4 .1 .2 .2-1.3 .1-1.1 0-1.6 .1-.8 .1-2.1 .1-1.6 0-2.2 .1-.8 0-1.9 .1-1.1 0 .1 .1-2.5 0-1.4 .1-2.6 0-.8 .1-.4 0-1.9 .1-2 0-1.9 0-1.1 .1-1.1 0-2 0-2.7 .1 1.7 0-2.1 .1-2.4 0-.2 0-3.5 .1 .5 0-2.3 0-1 .1-2.4 0-1.1 0-1.2 .1-1.2 0-1.9 0-1.5 .1-2.3 0 .2 0-2.6 .1-1.8 0-1.6 .1-2.1 0-1.2 0-2 .1-.2 0-1.6 0-1.3 .1-2.7 0-.9 .1-1.6 0-.2 0-3.4 .1-1.4 0 .7 0-2 .1-2.8 0 .9 .1-1.2 0-1.5 .1-4.2 .1-2.3 0-1.1 .1-2.4 0 1.2 .1-3.1 0-.4 .1-.7 .1-2.1 .2-1.7 .1-1.5 .1 0 .2 0 .1-.2 .2 4.7 .1-.2 0 1.3 .1 1.4 .1 .7 0 1.7 .1 1.3 0 3.4 .1 2.5 0 .3 .1 .4 0 3.1 .1 .1 0 .4 0 1.1 .1 3 0 2.3 0 .1 .1 1.3 0 1.8 .1 1.1 0 1.8 0 2 .1 .6 0 2.6 .1 2.7 0 1.2 0 .8 .1 1.6 0 1.4 0 3 .1-.4 0 3 0 1.3 .1 .5 0 2.9 0-1.3 .1 3.3 0 1.4 0 1.4 .1 2.1 0 .6 0 1.7 .1 2.5 0 .5 0 .8 .1 2.7 0 1 0 1.1 .1 2.3 0 .5 0 1.4 .1 2 0 1.6 0 1.7 .1 .6 0 3.7 .1 .7 0 1.1 0 1.5 .1-.4 0 3.8 0-.1 .1 2.6 0 .1 0 3.2 .1 .5 0 1.7 .1 2.9 0 1.1 0-.3 .1 1.9 0 2.1 .1 1.1 0 2.1 .1 .2 0 .4 .1 2.3 0 2 0 2 .1 1.6 .1 1.8 0 .5 0 1 .1 2 .1 .6 0 .9 .1 1.6 0 2.6 .1 1.8 .1 1.3 .1-.9 0 3.3 .1-.5 .1 2.2 .1 2.1 .1-.2 .1 1.3 .1 1.4 .2 3.4 .1 .9 .2-.3 .3 2.1 .2 1 .5 1.4 .5 0 .5 2.1 .5-1 .5 1.3 .5-1.4 .5 2.1 .5 .5 .5 1.6 .5-2 .5 2.9 .5 .9 .5 0 .5 2 .5 1.4 .5-.2 .5 .7 .5 1.1 .5-.1 .5 1.3 .5 .1 .5-.4 .5 .2 .5 2.2 .5 0 .5-.5 .5 .9 .5 1.5 .5-2 .5 .9 .5 1.5 .5 .4 .5-1.2 .5 .4 .5 1.1 .5 1.1 .5-.8 .5-1.5 .5 2.7 .5-.7 .5-.1 .5-.4 .5 1.9 .5-.5 .5 .2 .5 .1 .5 .1 .5 .5 .5 .7 .5-2 .5 .9 .5-.2 .5 1.6 .5-1.4 .5-.9 .5 1.3 .5-.5 .5 .1 .5 .2 .5-.6 .5-.4 .5 3 .5-1.5 .5-.6 .5 1.2 .5 .6 .5-2.3 .5 1 .5 .5 .5-.8 .5 1 .5-1.3 .5 .4 .5 .4 .5 .4 .5-.3 .5-.6 .5 .2 .5-1.4 .5 3.1 .5-2.1 .5 0 .5 .2 .5-.1 .5-.4 .5-1.1 .5-1.2 .5 .7 .5-1 .5-.3 .5-.2 .5-.3 .5 .2 .5-1.6 .5-1.7 .5 1.4 .5 0 .5-2 .5 1.8 .5 0 .5-.2 .5 1 .5 .8 .5 .7 .5 1 .5-.3 .5 .6 .5 2.2 .5-2 .5 1 .5 .3 .5 1.2 .5 .5 .5-1.5 .5 2.1 .5-1.7 .5 2.7 .5-2 .5 1.4 .5-.9 .5 .8 .5-1.1 .5 .7 .5 0 .5 .1 .5 .6 .5-.9 .5 .1 .5-.7 .5 .9 .5-.3 .5 1.1 .5-.2 .5-1 .5 .9 .5 .7 .5-1.2 .5-.7 .5 2.6 .5-1.2 .5 .1 .5 1.1 .5-2.2 .5 .8 .5-1.6 .5 1.8 .5-.1 .5-.9 .5 0 .5 .5 .5 0 .5 1.3 .5-1.3 .5 0 .5 0 .5-1 .5 .8 .5-.6 .5 1.1 .5-1.7 .5 .8 .5 1 .5-1.8 .5 .4 .5 2 .5-1.8 .5 1 .5 .3 .5-1.1 .5-.4 .5 2.4 .5-1.6 .5 .8 .5-.9 .5 .8 .5-1.2 .5-.1 .5 .3 .5 .3 .5 0 .5 .2 .5 .6 .5-.7 .5 1.1 .5-1.2 .5 1 .5 .5 .5 .3 .5-2.8 .5 2.8 .5-2.6 .5 2.4 .5-1.1 .5 .3 .5-1 .5 1.4 .5-.2 .5-.9 .5-.1 .5 1.1 .5 .2 .5-.2 .5-.9 .5 .3 .5 .7 .5-.1 .5 .3 .5-.8 .5-.6 .5 .7 .5 .2 .5-.8 .5 .7 .5-.9 .5 .8 .5-.6 .5 2 .5-.7 .5-.7 .5-1.2 .5 .1 .5 1.4 .5-.6 .5 .3 .5-1.4 .5 .1 .5 1.2 .5-.2 .5-.9 .5 .4 .5 1.2 .5-.9 .5 .7 .5 .9 .5-1 .5-.2 .5-.5 .5 1.3 .5-2 .5 .3 .5 .8 .5-1.1 .5 1.9 .5-1.3 .5 .9 .5-.6 .5 0 .5 .2 .5-1.5 .5 .7 .5 .5 .5 2 .5-1.1 .5 0 .5-1.4 .5 1.5 .5 .2 .5-.3 .5 1.1 .5-2.7 .5 .2 .5 .6 .5-.5 .5 .7 .5 .4 .5-.4 .5 .1 .5 .2 .5 .3 .5-1.1 .5 0 .5 1.4 .5-1.2 .5-.3 .5 .8 .5-.5 .5 .4 .5-.2 .5 .5 .5 .3 .5-1.4 .5-.2 .5 2.1 .5-1.8 .5-.6 .5-.3 .5 1.4 .5-.4 .5-.9 .5 .6 .5-.1 .5 1.6 .5-.6 .5-.2 .5-.9 .5 .8 .5 .6 .5-.4 .5 .7 .5-.7 .5 .4 .5-.2 .5-.8 .5 1.5 .5-.8 .5 .4 .5-1.5 .5 0 .5 .7 .5-.5 .5 1.1 .5-.2 .5 .6 .5-.5 .5-1.3 .5 1.5 .5-1.2 .5-.1 .5 .6 .5-.1 .5 .7 .5 .8 .5-1.4 .5 .7 .5-1.4 .5 .3 .5-.8 .5 0 .5 1.1 .5-.9 .5-.2 .5-1.2 .5 1.7 .5-1.7 .5-.6 .5 .2 .5 .3 .5-.2 .5 .3 .5-2 .5 .3 .5 1.5 .5 .5 .5-2 .5 .5 .5-.9 .5 .8 .5 .2 .5 .8 .5-.5 .5 1.8 .5-.5 .5 .1 .5 1.1 .5-.7 .5-.6 .5 1.1 .5 1.7 .5-1.4 .5 .4 .5-.5 .5 .1 .5 .5 .5-1.9 .5 .7 .5 .5 .5 .2 .5 1.3 .5 .5 .5-1.2 .5-.2 .5 .1 .5 .5 .5-1.9 .5 .2 .5 .3 .5 0 .5-1.8 .5 1.5 .5-1.7 .5 1.5 .5-.2 .5-2.5 .5 1.7 .5-.5 .5-.8 .5 1 .5 .6 .5-1.2 .5-1.2 .5-.3 .5 .3 .5 .3 .5 1.8 .5-.4 .5 0 .5 1 .5-.4 .5 .3 .5-.4 .5 .4 .5 .7 .5-.7 .5 2.3 .5-1 .5-.4 .5 1.2 .5-1.4 .5 1.7 .5-.7 .5 1.4 .5-1.7 .5 .1 .5-.3 .5-.2 .5 1.1 .5-.9 .5 1 .5-.7 .5 1.3 .5-2.4 .5 1.9 .5-.2 .5-.1 .5-.4 .5 1.8 .5-1.6 .5 .6 .5-.5 .5-.1 .5 .4 .5 .4 .5-1.3 .5 .4 .5-.7 .5 1.4 .5-.9 .5 .1 .5 1 .5-.5 .5 .3 .5-.4 .5 .4 .5-.2 .5-.9 .5 1 .5-.4 .5 .1 .5 .3 .5-.6 .5-.4 .5 1.7 .5 .5 .5-1.6 .5 1.1 .5-.6 .5-.7 .5-.2 .5 .4 .5-.1 .5 .1 .5 .1 .5-.7 .5 1.5 .5-1.5 .5 0 .5 1.5 .5-.1 .5 .5 .5-1 .5-.5 .5 1.3 .5-.9 .5-.1 .5-.5 .5 .9 .5-1.9 .5 2 .5-1.9 .5 2.2 .5-1.8 .5 1.6 .5 1.2 .5-1.9 .5-.6 .5 2.3 .5-1.8 .5-.5 .5 1.8 .5-2.6 .5 .5 .5 .1 .5 .5 .5-1 .5 2.1 .5 .2 .5-.8 .5-.3 .5-.9 .5 1.5 .5-.9 .5 1 .5 .2 .5-.9 .5-2.2 .5-.2 .5 .4 .5-1.5 .5 1.6 .5-1.4 .5 2.6 .5 .5 .5-.9 .5 .8 .5 1.3 .5-.3 .5-.8 .5 .6 .5 .7 .5-1.7 .5 1 .5 .6 .5-1.3 .5 1.5 .5-1.1 .5 .9 .5-.1 .5-.5 .5-.4 .5-.3 .5 .6 .5 .1 .5 .9 .5-1.2 .5 .4 .5 1 .5-1.1 .5 .1 .5 .9 .5-1.1 .5 .2 .5 .3 .5-.7 .5-.7 .5-.3 .5 .9 .5 1 .5-.1 .5 .5 .5-.5 .5-1.2 .5-.6 .5 .7 .5 .2 .5-.4 .5 1.3 .5-1.3 .5 1 .5 .2 .5-1.9 .5 1 .5 1.2 .5-.3 .5-.5 .5-.9 .5 .3 .5 .5 .5 .9 .5-.6 .5-.4 .5 .3 .5 .4 .5-1.9 .5 .5 .5 .8 .5 .9 .5-.1 .5-1.4 .5 .6 .5-.6 .5 .3 .5 .4 .5-.4 .5-.2 .5-.4 .5-.3 .5 1 .5 .3 .5 .3 .5-1.1 .5 .1 .5 .6 .5 0 .5 0 .5 0" stroke="#008080"/>
<path d="M45.5 78.0l.1 260 0 3.4 .1 1.1 .1 2.1 0 2.7 0 .3 .1 1.2 .1 .9 0 .8 .1 1.5 .1 .5 .1 3.5 .1-.3 .1 2 .2-.7 .1 2.7 .2-.4 .2 1.1 .3 2.1 .5 1.9 .5 1.2 .5 .6 .5-.7 .5 1.1 .5-.7 .5 .3 .5 .7 .5-.1 .5 .9 .5-1.9 .5 2.3 .5-1.2 .5 1.6 .5-.2 .5-1.7 .5 .9 .5 .5 .5-1 .5 0 .5 .4 .5 .8 .5 .1 .5-.9 .5 .9 .5 .5 .5-.4 .5-1.2 .5-.1 .5 .9 .5 .4 .5-.3 .5-.6 .5-.4 .5 1.7 .5-1.1 .5 1.5 .5-2.2 .5 .6 .5-.2 .5 1.8 .5-.4 .5-1.3 .5-1.1 .5 2.3 .5-.7 .5-1 .5-.3 .5 1.5 .5-.5 .5 .3 .5 .2 .5-.6 .5 .1 .5 .7 .5-.6 .5-.1 .5 .7 .5-2 .5 2.4 .5-.6 .5-.9 .5 .5 .5 1 .5-.5 .5-1.7 .5 .5 .5 .9 .5 1.2 .5-.7 .5-.8 .5 .6 .5-.4 .5-.2 .5 .5 .5-1.9 .5 2.3 .5-.3 .5-.7 .5-.3 .5-.3 .5 1.1 .5-.1 .5 0 .5 1.2 .5-2.9 .5 1.1 .5-.1 .5 1.3 .5-.9 .5-.5 .5 .8 .5 .2 .5 .9 .5-1 .5-.5 .5-.1 .5-.2 .5 .9 .5 .3 .5-.8 .5 .1 .5 1.1 .5-.9 .5 .2 .5-1.1 .5 .3 .5-1.1 .5 .6 .5 1.2 .5 .7 .5-1.1 .5-.7 .5 .9 .5 .8 .5-1 .5 .8 .5-.7 .5-.9 .5 .2 .5 .4 .5 1.7 .5-1.6 .5-1.4 .5-.6 .5-.6 .5 .1 .5 1.2 .5 .7 .5 1.1 .5 .8 .5-.1 .5-1.2 .5 .6 .5-.9 .5-.3 .5 .9 .5 .4 .5-.5 .5 .7 .5 0 .5-.1 .5-.7 .5-.9 .5 2.4 .5-1.7 .5 .9 .5-.2 .5-.6 .5 1.6 .5-.9 .5-.5 .5-.3 .5-.4 .5-.2 .5 1.4 .5-.8 .5 0 .5 .7 .5-.6 .5 .7 .5-.9 .5 0 .5 1.1 .5-1.2 .5 1 .5-.1 .5-.4 .5-1.2 .5 .3 .5 .1 .5-.1 .5 1.6 .5-1.3 .5-.3 .5 .5 .5 .3 .5-1.1 .5 1.7 .5 .1 .5-1 .5 1 .5-1.7 .5 .7 .5 .3 .5 .2 .5 .8 .5-1.1 .5-.5 .5 .9 .5-.1 .5 .2 .5-.5 .5 .3 .5-.5 .5 .8 .5-.9 .5 0 .5 1.4 .5-1.5 .5 .6 .5 .4 .5-.6 .5 .9 .5-1.1 .5 1.1 .5-1.9 .5 .2 .5 1 .5 1 .5 .2 .5-1.9 .5 .7 .5-.4 .5-1.2 .5 2.1 .5-.8 .5 1.3 .5-.8 .5-.6 .5-.1 .5 .3 .5 .5 .5-.7 .5 2 .5-1.5 .5-1 .5 .9 .5 .8 .5-.5 .5-.6 .5-.2 .5-.1 .5-.3 .5 .5 .5 .6 .5-.7 .5 1.7 .5-1 .5-.6 .5 .3 .5 1.1 .5-2.3 .5 1.4 .5 1.5 .5-.9 .5-1.4 .5 .7 .5-.2 .5 1.8 .5-2.2 .5 .3 .5 0 .5-.8 .5-.6 .5 1.5 .5 .5 .5-.7 .5 .7 .5 .2 .5-.1 .5-1.7 .5 2.3 .5-.4 .5-.1 .5-.6 .5 0 .5-.4 .5 .7 .5 .4 .5-1.1 .5 1 .5-.9 .5 .7 .5-.5 .5 .7 .5 .8 .5-1.2 .5-.6 .5 .1 .5 .8 .5-.9 .5 1.1 .5-.5 .5 .5 .5-1.1 .5-.3 .5 .1 .5 .9 .5-.9 .5 1.1 .5-2 .5 1 .5 .4 .5-1.3 .5 .9 .5-.6 .5 1 .5-.1 .5 .7 .5-1.1 .5-.6 .5 .8 .5 .5 .5-.1 .5 .1 .5 .8 .5-1.2 .5 .1 .5-.5 .5 .2 .5 1.2 .5-.5 .5-1.9 .5 2.5 .5-2.3 .5 1.1 .5 1.1 .5-.7 .5 .4 .5 .2 .5-.4 .5-1.2 .5 1.2 .5-.8 .5-1.1 .5 1.4 .5 .6 .5-.3 .5-.1 .5 1.3 .5-1.1 .5 .5 .5-.4 .5 .9 .5-1.5 .5 1.2 .5 .5 .5-1.7 .5 1.1 .5-1.8 .5 1.2 .5 .3 .5-1.1 .5-.7 .5 1.3 .5-.3 .5 .4 .5 .1 .5 .4 .5 .5 .5-.8 .5-1.5 .5 1.7 .5-.2 .5-.2 .5 1 .5-.9 .5-.5 .5 .6 .5-1.5 .5 1.8 .5-.6 .5 1.2 .5-.8 .5-.2 .5-.1 .5-1.1 .5 .8 .5 .3 .5 .5 .5-.4 .5 .2 .5 0 .5-.9 .5 .6 .5-.4 .5-.8 .5-.2 .5 1.7 .5 .5 .5-.1 .5-1.7 .5 1.8 .5 0 .5-1.8 .5 .9 .5 .9 .5-1.2 .5 .8 .5-1.4 .5 .1 .5 .9 .5-.9 .5 .2 .5-.2 .5-.9 .5 1.7 .5-1.4 .5-.3 .5-.4 .5 .1 .5-1 .5 1 .5-1.2 .5 .4 .5-1.6 .5-.5 .5-.2 .5 .5 .5-1.4 .5 1.4 .5-.9 .5 1 .5-.9 .5 1.1 .5-1 .5 .2 .5 1.6 .5-.5 .5 1.5 .5-1 .5 1.2 .5-.8 .5-.4 .5 2.4 .5-1.1 .5 1 .5-.6 .5-1.4 .5 1.4 .5 .4 .5-.1 .5 0 .5-1.2 .5-.8 .5-.3 .5-1.4 .5 .9 .5-.6 .5-.8 .5-1.4 .5 .5 .5-1.3 .5 .9 .5-1.6 .5 0 .5 .3 .5-.3 .5 .5 .5 .9 .5-.9 .5 3.7 .5-.6 .5 .5 .5-.3 .5 1.3 .5 .3 .5 .5 .5-.8 .5 1.4 .5-1.1 .5 1.5 .5-.3 .5 .4 .5 .3 .5 1 .5 .4 .5-.8 .5-.8 .5 2 .5-2.1 .5 .6 .5 .3 .5-.3 .5 1.5 .5-.6 .5 .5 .5-1 .5 .9 .5-.8 .5 0 .5 .4 .5 .1 .5 .1 .5-.6 .5-.9 .5 .9 .5-1.4 .5 1.4 .5-.4 .5 1.2 .5-2.2 .5 3.1 .5-1.7 .5-.9 .5 1.5 .5 0 .5 0 .5 1.3 .5-2.2 .5 .8 .5-.1 .5-.6 .5 .7 .5 .7 .5-1.5 .5 .9 .5 .4 .5-.2 .5-1.7 .5 1.4 .5-.5 .5 1.2 .5-1 .5 1.6 .5-2.4 .5 1.3 .5-1 .5 1.9 .5-.1 .5-1.9 .5 1.3 .5-.6 .5-1.2 .5 .4 .5 .9 .5 .3 .5-.7 .5 .5 .5 0 .5 0 .5-1.1 .5 1 .5 .3 .5-1.5 .5 2.3 .5-.1 .5-1 .5 1.5 .5-2.2 .5-.1 .5 .2 .5 0 .5 1.9 .5-1.4 .5 0 .5 .3 .5 .9 .5-1.1 .5-.4 .5 .5 .5 .7 .5-1 .5 1.2 .5-.9 .5-.3 .5 .5 .5 1.1 .5-1.7 .5 1.2 .5-.6 .5-.3 .5-.1 .5 .6 .5-.1 .5-.2 .5 .2 .5-1.1 .5 .1 .5-.2 .5 .4 .5 .1 .5-.1 .5 .7 .5-1.1 .5 .5 .5 .8 .5 .6 .5-1.2 .5 .9 .5 .1 .5-1.8 .5 1 .5-1 .5 .5 .5 .6 .5-1.2 .5 1.3 .5-.5 .5-.1 .5 .6 .5-1 .5-.7 .5 1.3 .5-.5 .5 .3 .5-.6 .5 .1 .5-.1 .5-.2 .5 .4 .5 0 .5 .6 .5 1.6 .5-2.1 .5-.7 .5 1.6 .5-1.3 .5 .2 .5 .4 .5 .3 .5 0 .5 .1 .5-.2 .5 .9 .5-.2 .5-1 .5 .2 .5-.8 .5 1.4 .5-.6 .5 1.6 .5-2 .5 1.7 .5-1.8 .5-.6 .5 .6 .5 .9 .5 .5 .5-1.4 .5 1.4 .5-1.1 .5 0 .5 .1 .5 1.4 .5-1 .5 .1 .5-1.4 .5 1.3 .5 0 .5 1 .5-1.8 .5 .1 .5-.1 .5 .1 .5 1 .5-1.1 .5 1.6 .5-1 .5-.7 .5 .2 .5-.5 .5-.1 .5 2 .5-.2 .5-1.4 .5 .4 .5 1.5 .5-1.7 .5 .7 .5 .2 .5-.5 .5 0 .5-.2 .5 .4 .5-1.3 .5 1.2 .5 .1 .5-1.1 .5 1.3 .5-1 .5-.9 .5 .2 .5 1.5 .5 .3 .5-.7 .5-.8 .5 1 .5 .7 .5-.7 .5-1 .5 1.4 .5-.5 .5 0 .5 .2 .5 .4 .5-.5 .5-.6 .5 .6 .5 .2 .5 .7 .5-1.7 .5 .8 .5-.6 .5 .9 .5-.6 .5-1.3 .5 2.4 .5-1.2 .5-.4 .5-.3 .5 .4 .5-.2 .5 .8 .5 .3 .5-.2 .5 .3 .5-.9 .5 1.1 .5-.5 .5 .4 .5 .1 .5-.7 .5 1.1 2.1-1.1 1.4-.2 2.3-.2 2.1-.3 1.7-.3 3-.3 4.2-.4 4.2-.3 3.9-.5 3.3-.5 2.6-.7 2.6-.7 2.2-.8 1.9-.9 2.5-.9 2.9-1.1 2.3-5.8 2.7 3.5 2.5-.6 2.9-1 1.9-.9 1.9-.7 1.4-.8 1.7-.9 2.1-1.2 1.5-1.5 2.3-1.8 1.6-2 1.7-2.1 1.7-2.1 1.4-2.3 1.3-2.4 .4-2.5 1.4-2.4 .2-2.4 .7-2.2 .3-2.2 1.3-2.1 .7-2.2 -.1-2.3 .7-2.1 .5-1.9 .2-2.1 .9-2.9 .6-4 .4-5.7 .4-7 1-7.6 .7-7.7 .1-7 .8-5.6 .6-4.6 -.4-4.8 1.2-6.2 .8-8.8 -.2-12.2 1.2-14.9 .1-16.3 .8-16.4 .5-15.2 .4-14.7 .7-14.9 1.7-14.4 -.2-12.7 .7-10.3 .2-7.3 -1-5 -.8-3.4 -.4-2.3 1.9-2 3.8 0 5.7 0 7 0 5.9 0 3.6 0 1.7 2 .4 2.3 -.6 3.4 -1.3 5 .3 7.3 .2 10.3 .2 12.7 .3 14.4 .9 14.9 .6 14.7 .8 15.2 -.1 16.4 1.1 16.3 .1 14.9 .7 12.2 .3 8.8 .4 6.3 .7 4.9 -.1 4.6 .8 5.4 .2 6.5 .6 6.8 .4 6.9 .9 6.5 .1 5.8 1.2 5.1 1.2 4.5 .9 4.2 .3 3.9 .9 3.8 .9 3.7 1.2 3.5 .1 3.3 .7 3.1 .6 2.8 .8 2.6 .2 2.3 .9 2.1 .8 1.9 1.2 1.7 .8 1.5 1.9 1.2 1.9 1.1 1.7 .9 2.3 .9 2 .8 4.1 .7 3.6 .6 3.3 .7 3.2 .6 .4 1.9 .5-2 .5 .3 .5 1.3 .5-.5 .5-1.7 .5 1.9 .5 .1 .5-.9 .5 1 .5-.1 .5-1.5 .5 1.7 .5 1.2 .5-.3 .5-2.1 .5-.2 .5 1 .5 .2 .5-1.2 .5 .5 .5 1.7 .5-.7 .5 .7 .5-.6 .5 1 .5-.9 .5 .2 .5-.1 .5-.5 .5 1.4 .5-.5 .5 .9 .5 .7 .5 .2 .5 .4 .5-.4 .5 .4 .5 1 .5-.8 .5 .3 .5-1.6 .5 1 .5 1.7 .5-1.4 .5-.1 .5 1.6 .5-1.5 .5 1.7 .5-.8 .5-.3 .5-1 .5 2.5 .5-2.3 .5 .5 .5 1.6 .5-1.5 .5 1.3 .5-.4 .5-.1 .5-.6 .5 .3 .5 .8 .5-1 .5 1.3 .5-.3 .5 .2 .5-.2 .5 .3 .5-.1 .5 .3 .5-.3 .5-.1 .5-.9 .5-.6 .5 1.4 .5 .7 .5-1.4 .5-.5 .5 .8 .5 .6 .5 .4 .5-.9 .5-.6 .5 .8 .5 .6 .5-.6 .5 .8 .5-1.1 .5 1 .5 .6 .5-2 .5 .1 .5 1.1 .5 1.1 .5-1.3 .5-.4 .5 1 .5-1.1 .5-1.2 .5 .4 .5 1.7 .5-2.3 .5 .1 .5 1.5 .5-.6 .5 .7 .5-1.8 .5 .1 .5 .2 .5-.9 .5 .6 .5-.1 .5 .6 .5-.8 .5-.4 .5 .5 .5 .3 .5-.2 .5-.6 .5-.5 .5-.1 .5-.6 .5 1 .5 .1 .5 1.3 .5-.9 .5 .5 .5 .6 .5-2.2 .5 1.1 .5 .4 .5 .5 .5-.8 .5 1.6 .5 .2 .5-.2 .5 .2 .5-1.2 .5 1.8 .5-1.2 .5-.9 .5 1.5 .5 .3 .5-.8 .5-.6 .5 .4 .5 .8 .5-1.5 .5 2.4 .5 0 .5-.9 .5 1 .5-.9 .5-.8 .5 1.4 .5-.1 .5-1.1 .5-.3 .5 .3 .5 1.6 .5-1.1 .5 1.9 .5-2.2 .5 1 .5-.2 .5-.4 .5 .7 .5-1.2 .5 .6 .5-.9 .5-.7 .5 1.7 .5-.9 .5-.2 .5 1.4 .5-.5 .5 .4 .5 1 .5-1.2 .5 .2 .5-1.2 .5 1.5 .5 0 .5-1.5 .5 1.3 .5-.3 .5-.4 .5 .2 .5 1.6 .5-2.2 .5 .2 .5 .3 .5-.2 .5-1.3 .5 1.8 .5 .1 .5 .6 .5-1.8 .5-.6 .5 1.3 .5-1.3 .5 .6 .5-.4 .5 .3 .5-.6 .5 .7 .5-1.4 .5 2.2 .5-1.3 .5-1.2 .5-.4 .5 .4 .5-.3 .5-.4 .5 1.6 .5-.4 .5-1.5 .5 1.2 .5-.4 .5 .7 .5-1 .5 2.2 .5-1.4 .5 1.6 .5-1.6 .5 1.5 .5-1 .5 1.5 .5-1.2 .5-.5 .5 .1 .5 .5 .5 1 .5-.1 .5-.1 .5 .8 .5 .5 .5-1.9 .5 1.6 .5 .9 .5-2.1 .5 .1 .5 .8 .5-.1 .5-.6 .5 .4 .5 1.3 .5-.5 .5-1.3 .5-.7 .5 .5 .5 .9 .5-.7 .5 0 .5 1.2 .5-.8 .5-.1 .5 .5 .5 .9 .5-.9 .5 .3 .5-.4 .5 1.1 .5-2.1 .5 .1 .5 .4 .5 1.9 .5-.3 .5-2 .5 .5 .5 .7 .5-.3 .5 .6 .5-1.1 .5-.9 .5 1.8 .5 .4 .5-2.1 .5-.2 .5 1 .5-1 .5 1.7 .5-1.2 .5 1.4 .5-.8 .5 .3 .5 .4 .5-.6 .5-.6 .5 1.4 .5-1.8 .5 2.2 .5-1.6 .5 .1 .5 .7 .5 0 .5 .1 .5-1.5 .5 .4 .5 .9 .5 0 .5-.3 .5 1 .5-1.1 .5 .8 .5 .1 .5-.6 .5-.4 .5 .7 .5-.2 .5 .1 .5-1.1 .5 1 .5 .8 .5-1.4 .5 .3 .5-.3 .5 .8 .5-2.2 .5 2.7 .5-.8 .5-.6 .5 .4 .5 .6 .5-.5 .5 .2 .5 .3 .5-.7 .5 .4 .5 .5 .5-.7 .5-.9 .5 1 .5 1 .5-1.8 .5 .5 .5 0 .5 .3 .5-1 .5 .3 .5 1.4 .5-.9 .5-1 .5 1 .5-.6 .5 1.1 .5-2.4 .5 1.3 .5 .6 .5-1.7 .5 .3 .5 .9 .5-.3 .5-.3 .5 .4 .5-1.3 .5 .3 .5 1.9 .5-1.8 .5 .7 .5-.4 .5 .6 .5-.4 .5-.1 .5 .5 .5-.7 .5-1.6 .5 .6 .5 1.5 .5-.5 .5-1.1 .5-1.2 .5 .4 .5 1.8 .5-.9 .5-.3 .5-2.5 .5-.2 .5 .2 .5-1 .5 .6 .5-1.3 .5 .6 .5-.9 .5-.7 .5 .5 .5-.5 .5-.5 .5-.5 .5 .2 .5-1.4 .5 .1 .5 1.1 .5 .9 .5 1.4 .5-.8 .5-.8 .5 .6 .5-.4 .5 1.1 .5 .1 .5 .1 .5 .2 .5 .6 .5-.3 .5-1.5 .5 1.3 .5-1.6 .5 .8 .5-.6 .5 .8 .5-1.7 .5-.5 .5-.7 .5 .1 .5-1.4 .5-1.7 .2-.1 .3-.1 .3-1.7 .2-1.7 .2-2.8 .1-1.2 .2-1.5 .1-2.5 .1 1.4 .1-3.7 .1 0 .1-2.7 .1-.3 .1-.8 0-1.7 .1-2.5 .1-1.5 .1-.4 .1-2 0-1.2 .1-.8 .1-3.7 0 .4 .1-.7 0-1 .1-2.4 .1-2.4 0-.1 .1-.7 0-3.3 .1-1.4 0-1.1 .1-1.6 0-2.6 .1-1.7 .1-.7 0-1 .1-.6 0-2.2 .1-.9 0-.6 .1-.8 0-2.4 .1-2.7 .1-.1 0-2.2 .1-1.2 0-1 .1-1.5 .1-2.9 0-1.1 .1-.2 .1-1.5 .1-.6 .1-2.6 .1-2 .1-1.2 .2-2.1 .3-1.2 .5 .8 .2 1.6 .3 1.6 .5 .9 .5-.2 .2-1.1 .1-1.3 .2-1.7 .1-.6 .1-1.5 .1-3 .1 .4 .1-1.7 .1-1.7 0-.7 .1-2 .1-.7 .1-2.1 0-.3 .1-1.7 .1-2.7 0-.8 .1-.3 0-1.6 .1-1.6 .1-2.4 0-1.1 .1-.9 .1-1.2 0-1.6 .1-1.9 0-.9 .1-1.6 0-1.9 .1-1.3 0-1.2 .1-1.9 .1 .1 0-1.2 .1-1.3 0-2.6 .1-1.3 0-.7 .1-1.9 0-1.2 .1-1.4 .1-2.5 0 .6 .1-3.5 .1-1.6 0 .3 .1-2.9 0 .2 .1-2 .1-1.5 0-2.1 .1-2.3 .1-1.4 .1-.5 0-1.5 .1-2.2 .1-1.5 .1-1.3 .1-.8 0-1 .1-.9 .1-2.1 .1-.4 .1-1.9 .2-.7 .1-2.8 .3-.4 .2-.3 .5-.7 .1 2.9 .2 .7 .1 1.6 .1 .9 .1 1.8 .1 0 0 1.2 .1 2.2 .1 1.4 .1-.1 .1 3.1 0 1.4 .1 1.2 .1 .1 .1 2.9 0 1 .1 1.8 .1 .6 0 1.1 .1 1.2 0 1.5 .1 2.5 .1 .3 0 1.6 .1 2.1 .1 .9 0 .1 .1 2.3 0 1.6 .1 2.8 0 .7 .1 .2 0 1.3 .1 1.8 .1 1.9 0 .7 .1 2.3 .1 2.7 0 2 .1-1.1 0 3 .1 1.6 .1 1.6 0 1.1 .1 1.3 0 1.6 .1 1.3 0 1.4 .1 2.4 0 1 .1 1.3 .1 .4 0 1.6 .1 2.7 0-.1 .1 3 .1-.2 0 4 .1 .8 .1 .2 0 1.5 .1 .2 .1 2.9 0 2.3 .1 1 0 .7 .1 3 .1 .5 0 1.4 .1 1 .1 2.1 .1 2.7 0 .1 .1-.1 .1 2.7 0 2.6 .1 .9 .1 0 .1 2 0-.1 .1 2.8 .1 .4 .1 1.7 0 1.3 .1 1.3 .1 3 .1 1.2 .1 .2 .1 1.8 .1 2.6 .1-.1 .1 1.3 .1 1 .1 3 .1 .2 .1 1.1 .1 .9 .1 1 .2 2.7 .1 .1 .1 1.4 .2 .7 .1 1.9 .2 1.9 .2 1.3 .1 .5 .2 1.8 .2 1.5 .1-.5 .2 3.1 .3 .7 .2 .5 .2 2 .3 1.6 .3 .7 .2 .9 .2 .9 .3 1.3 .5 0 .5 1.9 .5 1.9 .5 .8 .5 .2 .5 1.6 .5 .5 .5 1.4 .5-.5 .5 .8 .5 .8 .5 1.6 .5 2.4 .5-.4 .5 .7 .5-.3 .5 1.6 .5-.5 .5 .3 .5 1.1 .5-1.3 .5-.4 .5 1.1 .5 2.2 .5-.1 .5-.2 .5-.1 .5 .3 .5 .6 .5-.6 .5 1.3 .5-1 .5 1.8 .5-1 .5-.3 .5 .6 .5-.3 .5 .7 .5-1 .5 1 .5 .6 .5 .3 .5-.5 .5 1.3 .5-2 .5 1.1 .5-.1 .5 .5 .5-.2 .5 1.3 .5-.9 .5-.6 .5 2.3 .5-1.5 .5-.1 .5 .8 .5-1.1 .5 .3 .5 .8 .5-1.4 .5 .5 .5 1.1 .5 .6 .5-1.4 .5 0 .5 .8 .5-1.9 .5 .5 .5-.2 .5-1.1 .5-.3 .5 1.2 .5 .7 .5-.5 .5 0 .5-2.9 .5 1 .5 .5 .5-2.2 .5-1 .5 .5 .5-.9 .5-.3 .5-1.1 .5 .4 .5-.9 .5-.6 .5-.5 .5 .9 .5-.7 .5 1.7 .5 .7 .5 .6 .5-.9 .5 2 .5 .7 .5 1 .5-1.1 .5 1.3 .5 .9 .5 1.6 .5-1 .5 1.4 .5-.2 .5 1.5 .5-.9 .5-1.3 .5 1.2 .5 .5 .5 .8 .5-.3 .5-.7 .5-.6 .5 1 .5-.1 .5 1.1 .5-.2 .5-1.7 .5-.6 .5 1.4 .5 .5 .5-.8 .5 .3 .5 1.3 .5-.3 .5-1.8 .5 1.5 .5-.1 .5-.2 .5 .6 .5 0 .5 1.2 .5-1.4 .5-.7 .5 .1 .5 1 .5 .9 .5-1 .5 0 .5-.2 .5-.5 .5 .4 .5-1 .5 1.5 .5-.2 .5-.2 .5-.8 .5 .5 .5-.3 .5 .7 .5-.4 .5 .4 .5 .5 .5 .2 .5-1.7 .5 .6 .5-.6 .5 1.7 .5-1.5 .5 1.6 .5-1.3 .5 1.1 .5-1.2 .5 .3 .5 .2 .5 0 .5-.1 .5 .6 .5 .4 .5-.3 .5-1 .5-1 .5 1.5 .5-1.8 .5 2.2 .5 0 .5-1.4 .5 1.3 .5-.9 .5 1.4 .5-1.4 .5-.1 .5 .1 .5 .7 .5-.9 .5 2.4 .5-1.9 .5 1.5 .5-1.5 .5 0 .5-.3 .5 0 .5 .9 .5 .5 .5-.8 .5-.7 .5 .8 .5-.7 .5-1.1 .5 1.8 .5-1.4 .5 .8 .5 .5 .5-.3 .5 .1 .5 1.3 .5-.4 .5 .4 .5-1 .5 0 .5 1.2 .5-1.8 .5 .7 .5-.1 .5 .1 .5 .2 .5-.3 .5 .5 .5-1.2 .5 .9 .5-1.1 .5 1.6 .5-.1 .5-.9 .5-.2 .5 .4 .5 .4 .5-1.5 .5 .3 .5 1.5 .5-.9 .5-.8 .5-.6 .5 1.3 .5-1 .5 1.4 .5-.2 .5 1.4 .5-2.2 .5 1.3 .5-1.3 .5 .1 .5 .6 .5-.5 .5 2 .5-1.4 .5-.5 .5 2.2 .5-2.2 .5 .3 .5 .1 .5-.4 .5 1 .5 .4 .5-1.8 .5 .6 .5 .1 .5-.8 .5 .1 .5 .7 .5-.4 .5 .9 .5 .3 .5-.4 .5 0 .5-.9 .5 .3 .5 .7 .5 .1 .5-.5 .5 .5 .5-.6 .5-.7 .5 1.1 .5-.5 .5-1 .5 1.9 .5-.4 .5 .3 .5-.9 .5 1.4 .5-.7 .5 .3 .5-1.2 .5 .3 .5 1.1 .5-.9 .5 0 .5 1.1 .5-.3 .5-.7 .5 1.2 .5-2.5 .5 1.1 .5-.4 .5 1.4 .5 .1 .5-1.5 .5 .4 .5 .5 .5-.3 .5-.2 .5 .4 .5 .7 .5-1.4 .5-1 .5 .6 .5-.1 .5-.4 .5 .6 .5-.1 .5-.1 .5-.6 .5-.4 .5-1.3 .5 .2 .5-.8 .5 .5 .5-.7 .5-.4 .5 .1 .5-1 .5 .7 .5-.3 .5-1.6 .5 1.6 .5-1.2 .5-.2 .5 .5 .5-.4 .5 1.5 .5 1 .5-1.5 .5 1.7 .5 .5 .5 .5 .5 .3 .5 .2 .5-.4 .5 1.2 .5-.2 .5 .6 .5-.2 .5-.3 .5 .3 .5 .6 .5 .4 .5-2.1 .5 .5 .5-.2 .5 .8 .5-.1 .5 .6 .5-.4 .5 1.2 .5-1.5 .5-.1 .5-.1 .5 .3 .5 .2 .5-.6 .5-.5 .5-.5 .5 .9 .5-.8 .5-.6 .5 .2 .5 .1 .5 .9 .5-.7 .5-2.2 .5 0 .5-1.5 .5-.3 .5-.3 .5 1.8 .5-1 .5-1 .5 .6 .5 .3 .5 .1 .5 1.8 .5-2.1 .5 1.4 .5 .9 .5 .6 .5-1.5 .5 2.1 .5-.7 .5 .8 .5-.4 .5 1.9 .5 1.4 .5-.8 .5-.7 .5-.9 .5 2 .5 .4 .5-1.6 .5 1.6 .5-1.9 .5 .4 .5 1.1 .5-1.1 .5 1.6 .5 .5 .5-1 .5 .4 .5 .8 .5-.8 .5 .6 .5 .1 .5-1.7 .5 2.3 .5-.7 .5-.7 .5 .4 .5-.3 .5-.1 .5-.8 .5 .4 .5 .1 .5 1 .5-.4 .5-.1 .5-.4 .5 1 .5-2.5 .5 1 .5 1.3 .5-.9 .5 .7 .5 .7 .5-.6 .5-1.6 .5 .9 .5-.7 .5 1.2 .5 .4 .5-.9 .5 .5 .5-.5 .5 1.5 .5-1.2 .5 0 .5 .3 .5 .3 .5-.2 .5-.5 .5 0 .5 .4 .5 0 .5-.7 .5-.1 .5 .2 .5 .5 .5-.6 .5-.5 .5 .6 .5-.2 .5 .8 .5-.8 .5 .1 .5 1.6 .5-1 .5-1 .5 1.6 .5-1.2 .5-.3 .5 1.1 .5-1.5 .5 1 .5 .4 .5 .1 .5-.9 .5 0 .5 .3 .5 1 .5-2.2 .5 1.9 .5-.4 .5 .8 .5-1.8 .5 1.6 .5-1.5 .5 .9 .5-.5 .5-1.4 .5 1.5 .5 .3 .5 .1 .5-1.6 .5-1.4 .5 0 .5-1.4 .5 1.6 .5 1.6 .5-.1 .5 .6 .5-.2 .5-.9 .5 1.5 .5 .6 .5 .2 .5-.8 .5 1.4 .5-1.7 .5 .4 .5-.4 .5 .1 .5 .1 .5-.3 .5 .2 .5 .5 .5-.1 .5-.9 .5 1.2 .5-1 .5 .9 .5-.3 .5-1.4 .5 .7 .5 1.4 .5-1.2 .5 0 .5 .2 .5 .4 .5 .3 .5-.6 .5 1.4 .5-1.6 .5 .1 .5 .2 .5 .2 .5 .9 .5 .6 .5-1.9 .5 .2 .5 .5 .5-.5 .5 .7 .5-1.4 .5 1.4 .5-2.2 .5 2 .5 .1 .5 1.1 .5-2.3 .5 1.2 .5-.1 .5-1.1 .5 .9 .5-.8 .5-.3 .5-.2 .5 .9 .5-.6 .5-.7 .5 1.7 .5-1.5 .5 1.8 .5-.4 .5-.7 .5-.6 .5 .5 .5-.3 .5 .7 .5 0 .5 1.9 .5-3.1 .5 1 .5 .9 .5 .3 .5 .2 .5-1.7 .5 1.3 .5-.5 .5 0 .5 0 .5 0" stroke="#0066AA"/>
<path d="M45.5 78.0l0 118.3 .1 .9 0 2.8 0 1.3 0 2.9 .1 .8 0 2.6 0 1 .1 1.3 0 3 0 .9 0-.4 .1 3.3 0 .8 0 1.6 0 .6 .1-.5 0 2.2 0 .4 .1 2.4 0 2.1 .1 3 0 .6 .1 1.6 0 1.8 .1 .1 0 2.7 .1 .6 0 .3 .1 2.1 0 1.9 .1 2.2 .1 2 .1 .2 0 1.3 .1 2.8 .1 1.9 .1 1.2 .1 .3 .1 .9 .1 2 .1 1.2 .2 .5 .1 2.8 .1 1.8 .2-.9 .1 1.3 .2 1.3 .3 1 .2 2.9 .2-.5 .3 2.6 .3 .7 .2 1.1 .5-.2 .5 2.4 .5 1 .5 1.3 .5 .3 .5-.1 .5 1.8 .5 .6 .5 .3 .5-1.2 .5 1.3 .5-.8 .5 .7 .5 .9 .5-1.4 .5 2.9 .5-.6 .5-1.4 .5 .3 .5 .5 .5 .1 .5-.7 .5 .8 .5-.9 .5 .7 .5 1.9 .5-1.3 .5-.2 .5 1.5 .5-.9 .5 .3 .5-.8 .5 1.2 .5-1 .5 .9 .5-.1 .5 .8 .5-.5 .5-.7 .5-.8 .5 .6 .5-.2 .5 1.6 .5-1.4 .5-1.3 .5 1.9 .5 .4 .5-1.3 .5 1.2 .5-1.5 .5 1.2 .5-.3 .5 .4 .5 .1 .5-.8 .5 1.1 .5-1 .5 .5 .5 1 .5-1.8 .5 .8 .5 1.1 .5-.2 .5-1.5 .5 .1 .5 .9 .5-.9 .5 .5 .5-1 .5 1.4 .5-1.6 .5 1.3 .5 .4 .5-1 .5-.7 .5 .2 .5-.4 .5 2.7 .5-2.7 .5 .4 .5 1.2 .5-.2 .5 .8 .5 .2 .5-.7 .5-.3 .5-.4 .5 .3 .5 .8 .5-.2 .5 0 .5-1.7 .5 .6 .5 .1 .5 .1 .5-.4 .5 1.3 .5 .3 .5 .5 .5-1.7 .5 .3 .5 .1 .5 0 .5-.7 .5 1.2 .5-2.1 .5 1.2 .5-1.1 .5 1.9 .5-1.6 .5 .2 .5 .8 .5-.9 .5 .9 .5-.6 .5 1.4 .5-3.3 .3-.6 .2-.3 .2-1.6 .1-1.2 .2-2.3 .1-.5 .2-1.8 .1-.7 .1-3.4 .2-.9 .3-1.2 .3 1.3 .2 1.1 .1 2.7 .1-.2 .2 3.1 .1 1.1 .2 0 .1 3.1 .2-.5 .2 3.3 .3-.8 .5 2.1 .5 .2 .5-.9 .5-.1 .5 1.8 .5-.7 .5 1.3 .5-.9 .5 1.7 .5-1.5 .5 1.2 .5-1 .5-.2 .5 .3 .5-.9 .5 0 .5 1.8 .5-1.4 .5-.7 .5 1.2 .5-1 .5 .7 .5 .8 .5 .1 .5 .4 .5-.5 .5-.4 .5 0 .5-.2 .5-.3 .5 1.7 .5-1.7 .5 1.3 .5-1.3 .5 1 .5-2.6 .5 1.8 .5-.6 .5 1.6 .5 0 .5-1.6 .5 .4 .5 .7 .5-.4 .5-.2 .5 .7 .5-1.8 .5 2.2 .5-.8 .5-2.1 .5 1 .5 .7 .5 1.6 .5-1.6 .5-1.1 .5 2.2 .5-.8 .5-.3 .5 .8 .5-1.1 .5 .2 .5 .9 .5-.5 .5 .4 .5-1 .5 1.6 .5-2.4 .5 .1 .5 1.4 .5-.6 .5 .4 .5-.2 .5-.1 .5-.7 .5 1 .5 .8 .5-1.6 .5 2 .5-.2 .5-1.9 .5 1.3 .5-1.5 .5 .8 .5-.8 .5 .5 .5-1 .5 1.2 .5-.6 .5 .1 .5-.9 .5 1.5 .5 1.4 .5-1.7 .5 .2 .5-.8 .5 .5 .5-.3 .5-.5 .5 .5 .5 .3 .5 .6 .5-.5 .5 .4 .5 .8 .5-.3 .5-1 .5-1 .5 1.1 .5 .2 .5 .7 .5-.6 .5 1.4 .5-1.8 .5 .7 .5-1.2 .5 0 .5 .5 .5 .3 .5 .4 .5-2.3 .5 2.6 .5 .3 .5-.1 .5-.4 .5-.8 .5 .5 .5 .6 .5-1.7 .5 1.2 .5-.1 .5-.5 .5 1.4 .5-1.9 .5-.2 .5 .7 .5-.5 .5 1.5 .5-2.3 .5 .3 .5 1.2 .5 .3 .5-1.5 .5 1.9 .5-2.4 .5 2.2 .5-1.5 .5 .3 .5 1.7 .5-1.4 .5-.5 .5 .7 .5 1.2 .5-1.4 .5-.6 .5 .7 .5-1.1 .5 .4 .5 .1 .5 .9 .5-.9 .5 .7 .5 .5 .5 .3 .5-2.5 .5 1.2 .5-.8 .5 1.3 .5-.3 .5-.3 .5-.4 .5-.4 .5-.5 .5 1.9 .5-.9 .5 .1 .5 .2 .5 .3 .5 .7 .5-1.6 .5 .5 .5-1.8 .5 .9 .5-.4 .5 0 .5 1.2 .5-.9 .5-.2 .5-.1 .5-.4 .5-.2 .5-.5 .5-.1 .5-.1 .5 0 .5-1.5 .5 1.2 .5-.3 .5 .1 .5-1.3 .5-.1 .5 1.1 .5-1.4 .5 .7 .5-1 .5-.5 .5-.4 .5 .6 .5 0 .5-.6 .5 2 .5-1 .5-.7 .5 1.9 .5-.4 .5-1 .5-.1 .5 .8 .5 .8 .5-1.4 .5 2.1 .5-1 .5 1.1 .5-.5 .5 .6 .5 .2 .5 .7 .5-1.4 .5 2.1 .5-2.3 .5 1.3 .5 .4 .5-.4 .5 .7 .5-1.8 .5 1.2 .5 .8 .5-.7 .5-.9 .5 1 .5 0 .5-.9 .5 1.7 .5-1.5 .5-.4 .5 .8 .5-.7 .5 .3 .5 .2 .5-.6 .5 .6 .5-.3 .5 .5 .5-1.9 .5 .6 .5-.1 .5-.2 .5-2.1 .5 .4 .5 .6 .5-.3 .5-1 .5-.6 .5 0 .5-2.1 .5-1.4 .5 .4 .5-2.1 .2-1.4 .3-1.2 .3 .8 .2-2.4 .2-1.4 .3 .5 .3-3.2 .2-.2 .2-.7 .3-2 .3-1.5 .2-.7 .2-2.7 .3-.8 .2-.3 .1-2.4 .2 .8 .2-2.2 .1-1 .2-1.4 .2-.2 .1-1.9 .2-.5 .2-.3 .1-1 .2-3 .3 .7 .2-2.7 .2-.6 .3-1.2 .3-.8 .2-1.5 .5 0 .5 .1 .5-.5 .5 1.9 .2 1.6 .3 1.3 .3 .7 .2 1.2 .2 1.6 .3 .8 .2 1.5 .1 .6 .2 .9 .2-.4 .1 1.4 .2 2.6 .3 1.8 .2 1.2 .2 1.2 .3 1.1 .3 2 .2 .6 .2 1.5 .3 2.3 .3-1 .2 1.6 .2 1.3 .3-.3 .3 1.3 .2 2.5 .5 1 .5 .6 .5 2 .5-1.1 .5 2.6 .5-1.3 .5-.5 .5 1 .5-.9 .5-.9 .5-1.1 .5-2.3 .5-1.5 .5 .1 .2 0 .3-2.1 .3-.2 .2-2.1 .2-.8 .3 .1 .3-.3 .2-.9 .2-.6 .3-2.3 .3-.4 .2-.1 .5-2.7 .5-.6 .5-.4 .5-.2 .5 1 .5 .5 .5 .6 .3-.6 .2 3.1 .2 1 .3 .6 .3 .9 .2 1 .2 1.6 .3-.3 .3 1.4 .2 .3 .2 1.5 .3 .5 .3 1 .2 0 .2 2.3 .3 1.6 .3-1.6 .2 3.4 .5 .5 .5 .8 .5 1.8 .5 .6 .5 1 .5 1.9 .5-.3 .5 .7 .5 0 .5 .5 .5-.2 .5 .9 .5-.2 .5 1.6 .5-.8 .5 .9 .5 .5 .5 0 .5-1.2 .5 1.9 .5-2.5 .5 2.5 .5-2.6 .5 1 .5 .7 .5-.4 .5-.9 .5 .5 .5 1.3 .5-1.4 .5 1.8 .5 .4 .5 .2 .5-.8 .5-.1 .5-.3 .5 2 .5-.7 .5-.4 .5-.2 .5 .6 .5-2.2 .5 2 .5-1 .5-1.2 .5 2.5 .5-1.4 .5 .9 .5-.8 .5 .2 .5 1.5 .5-.9 .5 .1 .5-1.5 .5 1.9 .5-1.2 .5 .9 .5-1.1 .5 1 .5 .2 .5-1.5 .5 1.3 .5-.9 .5 1.6 .5-.6 .5-.3 .5 1.6 .5-1 .5-.9 .5 1 .5-.5 .5 .8 .5-1.7 .5 2.2 .5-1.8 .5 .1 .5-.3 .5 .3 .5 1.7 .5-1.3 .5-.9 .5 .6 .5 .3 .5 .6 .5-1 .5 .4 .5 1.5 .5-1.7 .5 .1 .5-.9 .5 1.6 .5-1.1 .5 1.7 .5-.5 .5-.3 .5-.9 .5 .1 .5 0 .5 .3 .5-.3 .5-.2 .5 .5 .5-.1 .5-.2 .5 .9 .5 .1 .5-1.2 .5 2 .5-1.3 .5 .6 .5 .5 .5-2.4 .5 1.4 .5 .3 .5 .2 .5-.3 .5 .2 .5-1.9 .5 .4 .5 1.1 .5-1.9 .5 1.1 .5 .3 .5 .4 .5 .4 .5-.5 .5-.8 .5-.1 .5 1 .5 .1 .5-.2 .5-.1 .5-.1 .5-1.1 .5 1 .5 .6 .5-1.4 .5 1.2 .5 .2 .5 1.1 .5-1.7 .5-.2 .5-.7 .5 .1 .5-.4 .5-.1 .5 1.8 .5-.5 .5 .2 .5-1.4 .5-.3 .5 .2 .5 2.5 .5-.4 .5-1.8 .5 1.1 .5 0 .5-.8 .5 .2 .5 1.2 .5-.2 .5 .2 .5-.5 .5-.1 .5 .3 .5-.5 .5 1.4 .5-1.1 .5 .2 .5-.4 .5-.5 .5 .5 .5-.2 .5-.4 .5 1.2 .5 .9 .5-1.3 .5-.3 .5-.4 .5-.6 .5 1.6 .5 0 .5-1.1 .5 .7 .5-.7 .5 1.7 .5-1 .5 .3 .5 .9 .5-2.9 .5 1.9 .5-.1 .5-.4 .5 .3 .5 .9 .5-1.4 .5 0 .5 1.7 .5-.5 .5-.4 .5 .3 .5-.6 .5-.3 .5 .2 .5 .3 .5-.6 .5-.8 .5 1 .5 .4 .5-.3 .5 .6 .5-.3 .5 .5 .5-.6 .5-.3 .5 .6 .5 .2 .5-1 .5-.3 .5 1.7 .5-1.4 .5 .6 .5-.6 .5 .5 .5 .9 .5 .2 .5-2.2 .5-.1 .5-.6 .5 2.1 .5 .7 .5-.9 .5-.4 .5 .8 .5-1.3 .5 1.2 .5 .5 .5-.1 .5-.4 .5-.9 .5 .1 .5-.4 .5 2 .5-.4 .5-1 .5 0 .5 .2 .5-.6 .5 .8 .5 0 .5 0 .5-.3 2.4-.6 3.7-.6 2.8-.5 2.9-.6 3.8-.6 1.9-.6 2.7-.7 2.4-.7 2.1-.7 2.7-.8 1-.8 2.2-.9 1.3-.9 1.9-1 1.4-.9 1.4-.9 1.3-.9 2.1-1 1.6-1.3 1.3-3.1 .9-4.4 1.2-2 .6 .5 1.1 .6 .9-.4 .7-.9 .7-1 1-1.1 .6-1.3 .7-1.8 1.3-2.2 .4-2.6 .6-2.9 .7-3.1 1.2-3.2 1-3.4 1.2-3.7 1.6-3.9 1.4-3.9 1.1-3.8 1.3-3.8 1.9-3.7 1-3.8 1.8-3.8 1.4-3.7 1.6-3.8 1.9-4 2.4-3.9 1.3-3.6 1.5-3.3 1-2.6 .9-2.2 .4-1.9 .8-2.1 .2-2.6 .9-3.1 .4-3.3 .3-3.6 .2-3.8 .8-4.2 .6-4.5 -.1-4.9 .2-5.1 .7-5.3 .1-5.2 .3-5.4 .3-5.6 -.3-5.6 .7-5.4 -.4-5 -.7-4.8 -1.2-4.7 -.6-4.3 -.2-3.6 3.1-2.6 6.5 0 10.4 0 11 0 10.3 0 6.6 0 2.7 2.5 -.1 3.5 -.6 4.2 -1.3 4.7 -.7 5.1 .2 5.6 .5 6.2 .5 6.6 .1 6.8 .6 6.8 .5 7.1 .4 7.6 .1 7.6 .1 6.9 1 5.8 .4 3.8 .4 2.2 -.1 1.7 0 2.6 .9 4.7 .8 7.7 1.1 10 1.2 10.7 1.2 10 1.2 7.6 .7 4.9 .6 3.2 .2 2.2 .4 1.7 .9 2 0 2.2 .7 2.1 0 1.9 .9 1.7 1.3 1.7 1.5 1.6 3.1 1.4 2.2 1.3 2.8 1.3 2.7 1.4 .1 1.4 .5-2.6 .5 2.7 .5-.5 .5-.5 .5 1.4 .5-.7 .5-.4 .5-.8 .5 2.8 .5-3 .5 1.8 .5 1.1 .5-.7 .5-1 .5 .1 .5-.3 .5 .4 .5-.4 .5-1.1 .5-.5 .5 1.7 .5-2.2 .5-.3 .5 2 .5-2.8 .5-.9 .5-.4 .5 .7 .5-1.9 .5-.3 .5-2.3 .5 .3 .5-.4 .5-.9 .5 .1 .5-1.7 .5-3.1 .5-.6 .5-.5 .5-.6 .5-.8 .5-.6 .5-2.7 .5-1.3 .5 1.3 .5-2.2 .5-1.7 .5 .3 .5-.2 .5-1 .5-.4 .5 1.5 .5-1.7 .5 1.2 .5 .1 .5 0 .5 2.4 .5-2 .5 3.4 .5-1.5 .5 1.4 .5 1.5 .5 1.7 .5 .9 .5 .4 .5 1.3 .5 2.4 .5 1.5 .5-.3 .5 2.6 .5 .8 .5 1 .5 .2 .5 1 .5 2.4 .5-.9 .5 2.3 .5 1.7 .5-.6 .5 3.3 .5 .9 .5-1.3 .5 1.4 .5 .6 .5 .3 .5 .6 .5 1.2 .5 1.3 .5-.9 .5 .4 .5 .2 .5-.4 .5 1.1 .5-.8 .5-.3 .5 1.2 .5-2 .5 .8 .5-.1 .5 0 .5-1.4 .5 .1 .5 .2 .5 .2 .6-1 .5-.6 .5-1.1 .5 .1 .5-2.3 .5 1.5 .5-.5 .5-1.4 .5-1.4 .5 1 .5-2.3 .5 .8 .5-1.9 .5-1.1 .5-.3 .5-1 .5-.2 .5-.1 .5-1 .5-.6 .5 0 .5 0 .5-.4 .5 .3 .5 .1 .5-.1 .5 .5 .5-.2 .5 1.3 .5-.1 .5 .9 .5-.1 .5-.2 .5 1.4 .5 1.2 .5 1.1 .5 .5 .5 2 .5-1.2 .5 .6 .5 2 .5 .5 .5 1.4 .5 1.3 .5 2 .5-1.9 .5 1 .5 1.5 .5-.4 .5 1.2 .5 2.2 .5-.4 .5 .6 .5 1.4 .5-1.6 .5 1.8 .5 .4 .5 .6 .5-.6 .5 .8 .5 .6 .5 .9 .5-.8 .5 1.2 .5-1.8 .5 2.1 .5 .5 .5-1.1 .5 .6 .5 .4 .5 .3 .5 .8 .5-.7 .5-.2 .5 .1 .5 .4 .5 .4 .5-.3 .5-.6 .5 .2 .5-.4 .5 0 .5 .2 .5-.1 .5 1 .5-1.5 .5 .8 .5-.9 .5 1.3 .5-.5 .5 .6 .5-.6 .5-1.3 .5 .6 .5-.7 .5-.1 .5-.6 .5 .3 .5 .1 .5-.2 .5 1.2 .5-2 .5-.1 .5-.5 .5-.4 .5-.4 .5-.1 .5-.6 .5 .3 .5-.6 .5-1.3 .5 .2 .5-.1 .5-.9 .5-.3 .5-.3 .5 .1 .5-.7 .5-.9 .5 0 .5 .6 .5-1.8 .5 .9 .5-.9 .5 1.6 .5-1.3 .5-.5 .5-.2 .5-1.1 .5 .8 .5 1.9 .5-1.1 .5-.3 .5 .4 .5 .3 .5-.4 .5 1.1 .5 .6 .5-1.1 .5 1.3 .5-1.1 .5 .9 .5 2.2 .5 .7 .5 .9 .5-1.8 .5 1.3 .5 .2 .5 1.5 .5-.2 .5 .3 .5 .7 .5-.3 .5 1.4 .5-.6 .5 1.4 .5-.4 .5 .4 .5-.7 .5 0 .5 .2 .5 1.8 .5-1.7 .5 2.8 .5-1 .5-.6 .5 1.4 .5-1 .5 1.1 .5-.1 .5 1.2 .5-.1 .5 .2 .5-.9 .5 1.3 .5-.9 .5 .3 .5 .3 .5-.1 .5-1.1 .5 1.5 .5-1.5 .5 1.5 .5-.4 .5 .2 .5-.8 .5 1.5 .5-.8 .5 .7 .5-1.1 .5 .1 .5 .5 .5 .7 .5-1.6 .5 .5 .5 .1 .5 .2 .5-.2 .5 1.1 .5-.2 .5-.5 .5 .6 .5 .1 .5-1.1 .5-.1 .5 1 .5 1 .5-3.1 .5 1.2 .5 1 .5-1.2 .6 1.2 .5-.4 .5-1.1 .5 .6 .5 .5 .5-.9 .5 1.1 .5-.2 .5-.5 .5 .5 .5-.5 .5 .4 .5-.9 .5 1.7 .5-1.2 .5 1 .5 .7 .5-.5 .5-1.1 .5 .1 .5-.2 .5 .2 .5-.8 .5-.7 .5 1.5 .5-.3 .5 1.1 .5 .1 .5-2.3 .5 .3 .5 1.2 .5 .2 .5-.8 .5 0 .5-1.5 .5 3 .5-2.2 .5 .8 .5-.2 .5-1 .5 1.2 .5 .4 .5-1.2 .5 .1 .5 .3 .5 .1 .5-.2 .5-1.3 .5-.2 .5 .2 .5-1.4 .5 .6 .5 .6 .5-.5 .5-.3 .5 1 .5-.7 .5 0 .5-1.1 .5-.6 .5-.8 .5 .1 .5-2.2 .5-.2 .5-.1 .5-1.1 .5-2.1 .2-1.6 .3 .4 .2-1.9 .3-.6 .2-1.7 .3 .9 .2-1.4 .3-2.9 .2-1.5 .3-.5 .2-.9 .3-.9 .2-2.4 .3-2.3 .2-.3 .3-1.4 .2-2.8 .3-.4 .2-1.3 .3-1.7 .2-.2 .3-.4 .2-.9 .3-2 .5-.6 .5 .9 .5 0 .5 1.4 .2 2.8 .3-2.2 .2 2.3 .3 1.1 .2 1.8 .3 2.6 .2 0 .3 1.2 .2 1.7 .3 1 .2 1.7 .3 2.7 .2-1 .3 1.5 .2 1.3 .3-.4 .2 2.9 .3 .5 .2-.5 .3 2 .5 1.8 .5 .5 .5 2.4 .5-.4 .5 .1 .5 2.1 .5-.3 .5 .5 .5-1.1 .5 .3 .5 .3 .5 .6 .5-.1 1.3-1 1.1-1.2 .7-1.2 .9-1.2 1.4-.9 .5-.7 1.1-1 .4-1.9 .7-2.3 .5-2.7 .4-3.9 .6-6.1 0-7.8 .4-9.3 .3-11.9 .5-16 -.9-23.4 .6-29.2 .1-28.3 -.2-21.1 .2-11.2 -.2-5.2 0-1.9 0-1.7 .7 0 1.1 0 .8 0 1 0 0 3.7 0 5.3 -.2 5.8 1 5.2 .4 5.1 1.1 5.4 1.7 4.3 .9 1.7 1.4-1.7 1.2-4.3 1.2-5.4 .8-5.1 -.1-5.2 .9-5.8 -.1-5.3 -.5-3.7 .8 0 .1 0 .5 0 .5 0 0 3.6 0 5.2 .2 5.7 -.2 5.5 -.5 4.9 -.1 4.8 .4 4.9 -.5 5.4 .4 6 .1 6.5 .1 6.5 .8 6 .5 5.5 .8 5.3 1.3 4.8 .4 4.4 .8 3.5 .4 2.7 -.4 2.9 .2 3.9 .6 5.6 -.4 6.8 .5 6.6 .5 5 .2 2.5 .7 .8 .5 .7 .4 2 .6 3.9 .9 5 .8 5.3 .7 4.8 .3 4 .7 3.8 1 3.5 .5 3.7 1 3.9 .4 3.9 .9 3.8 .7 3.4 1.1 2.8 1 2.4 .7 2.3 1.8 2.3 .5 2.5 2.1 2.4 1.2 2.5 1.9 2.4 .4 .1 .5 0 .5-.6 .5-.2 .5 .3 .5 .6 .5 .5 .5 .6 .5-2.4 .5 1.5 .5-.7 .5 .3 .5 .2 .5 .3 .5-.4 .5-.4 .5 1.1 .5-1.1 .5-.3 .5 .6 .5-1.8 .5-.1 .5 1.3 .5-1.5 .5-1.7 .5 1.3 .5-.5 .5-2.3 .5-1.6 .5-.5 .2-.5 .3-1.6 .3-1.2 .2 0 .2-1.2 .3-2.7 .3-1 .2-1 .2-1.2 .1-.5 .2-.9 .2-.3 .1-2.3 .2-.9 .2-3.1 .1-.8 .2-.2 .1-3 .2 .9 .1-1.8 .1-1.5 .1-1.4 .1-2 .2-1.3 .1-.9 .1-1.3 .2-.1 .1-3 .1-1.2 .1-2.2 .1-.1 .2-1.5 .1-.7 .1-.9 .2-2.5 .1-2.5 .1-.7 .1-1.2 .1-1.4 .1-2 .1-.2 .1-2.3 .1-.7 .2-1.6 .1-2.9 .1 .7 .1-.4 .1-3.2 .2-1.5 .1-.3 .1-2.9 .2-.3 .1-1 .1-1.8 .2-1.1 .1-2 .2-1 .2-.3 .1-2.1 .2-.7 .2-1.2 .3 .2 .5-1.1 .5 .7 .3 1.9 .2-.3 .2 1.1 .1 2.7 .2 2.5 .1-.6 .2 1.7 .1-.1 .1 2.3 .1 1.3 .1 1.6 .2 .4 .1 3.2 .1-.6 .2 3.2 .1-.4 .1 2.8 .1 1.5 .1 1.8 .1-.4 .1 .1 .1 3 .1 .1 .1 1 .1 1.5 .1 1 .1 2.4 .1 1.1 .1 1.9 .2 1.6 .1 .6 .1 2.2 .2 1.8 .1 1.9 .1 .2 .1 1.1 .1 .9 .2 1.7 .1 1.6 .1 1.4 .2 .2 .1 1.9 .1 1.3 .1 .9 .1 1.2 .2 1.8 .1 .1 .2 2.5 .1 .2 .2 2.3 .2 .3 .1 2.8 .2 .9 .2 1.5 .1-.5 .2 .6 .2 1.4 .3 2.1 .3 2.1 .2 .9 .2 1 .3-.4 .3 2.4 .2 .6 .5 .4 .5-.1 .5 1.9 .5 1.3 .5 1.8 .5-.5 .5 .3 .5 1.5 .5 .3 .5-.6 .5 .4 .5 .6 .5-1.2 .5 1 .5-.5 .5-.2 .5 1.1 .5 .6 .5 .6 .5-.6 .5 .3 .5-.8 .5-.9 .5 .7 .5 .8 .5-.6 .5 1.8 .5-.4 .5-1 .5 1.5 .5-.8 .5 .8 .5-1.3 .5 .8 .5-.7 .5 .2 .5 .9 .5 .6 .5-1.3 .5 .2 .5-.8 .5 .5 .5 .5 .5-1.2 .5 .6 .5-.5 .5 1 .5 .5 .5-.3 .5-.5 .5-.5 .5-.4 .5 1.2 .5 1.1 .5-1.3 .5 .2 .5-.2 .5-.5 .5 1.6 .5-.3 .5-1.5 .5 .2 .5 1.8 .5-1.5 .5 .6 .5-.7 .5 1 .5-.8 .5 .1 .5-.3 .5 2.1 .5 .3 .5-1.4 .5 .3 .5-.1 .5-.4 .5 0 .5-.2 .5 .8 .5-1.4 .5 .3 .5 1.1 .5-1.5 .5 2.2 .5-1.4 .5 .4 .5 .8 .5-1 .5 .1 .5-.5 .5 .8 .5 .2 .5-1.2 .5 1.2 .5 .2 .5-.4 .5-.9 .5 1.2 .5 .4 .5-1.4 .5-.9 .5 .8 .5 .5 .5 .9 .5-.1 .5-.4 .5-.9 .5 1 .5-.6 .5-.7 .5-.6 .5 2 .5-1.8 .5 2 .5 .7 .5-1.6 .5-.6 .5 .1 .5 0 .5 .8 .5 .4 .5-1.3 .5 .3 .5-.2 .5 1.3 .5-.1 .5-1.4 .5 .4 .5 .3 .5-1.4 .5 .9 .5 .5 .5-1.1 .5 1.1 .5-.1 .5-.4 .5 1.1 .5-1.4 .5 1 .5-.5 .5 .9 .5-1.3 .5 .9 .5 0 .5 .4 .5 .3 .5-2.2 .5 1 .5-.7 .5 1.4 .5 .3 .5-1.2 .5 .4 .5 .7 .5-.8 .5-.3 .5-1.1 .5 .7 .5 1.2 .5-1.8 .5 1.3 .5-.1 .5-.2 .5 .6 .5-1.2 .5 1.5 .5-1.3 .5 1 .5-1.2 .5 .6 .5-.5 .5 1.4 .5-2 .5 .3 .5 1.4 .5-.5 .5-.7 .5-.3 .5-.8 .5 .6 .5 .3 .5 .4 .5-.4 .5 .1 .5-1.1 .5-1.2 .5-.2 .5 .8 .5-1.6 .5 .3 .5-3 .5 0 .5-1.2 .5-.2 .5-1.9 .5-1.5 .5-.3 .5-2.7 .5 0 .5-.4 .5-2.2 .5-.1 .5-1.4 .5-.2 .5 .1 .5 0 .5 .1 .5-.5 .5 2.2 .5-.1 .5 .1 .5 2.5 .5-.2 .5 2.9 .5 .3 .5 .5 .5 .8 .5 .8 .5 1 .5 1.3 .5 2 .5-.1 .5 .4 .5 .9 .5 0 .5-.3 .5 .2 .5 2.3 .5-1 .5 1.5 .5 .3 .5-1.1 .5 .4 .5-.9 .5 .1 .5 0 .5-.3 .5 .8 .5-1.5 .5 .4 .5-1.1 .5-.2 .5 .3 .5-3.2 .5 1.2 .5-2.3 .5-.3 .5-1.5 .5-1.2 .5-1.8 .5-1.8 .5 2.1 .5-2.1 .5-1.8 .5-2.2 .5 1.1 .5 .1 .5-1.3 .5-1.7 .5 .9 .5 .9 .5 .3 .5 1.6 .5-.6 .5 1.2 .5-.1 .5 3.7 .5 .8 .5 .3 .5 .2 .5 3 .5-.7 .5 1.1 .5 .3 .5 1.2 .5 1 .5 .5 .5 2.2 .5 .2 .5-.1 .5-.2 .5 .7 .5-.8 .5 1.5 .5-.8 .5 .4 .5 .7 .5-.8 .5-.3 .5 1.9 .5-2 .5 .3 .5 .1 .5 .4 .5 .5 .5-1.6 .5 1.3 .5 1.5 .5-.2 .5-.2 .5-.7 .5 .2 .5-.5 .5-.9 .5 1.6 .5 .5 .5-.6 .5-.2 .5 .7 .5-.5 .5 .7 .5-1.2 .5-1 .5 1.7 .5 .3 .5-1.3 .5 .8 .5 .4 .5-2.2 .5 3.3 .5-1.1 .5-.7 .5-.8 .5-.3 .5 2.8 .5-1.9 .5 .8 .5-1 .5 .2 .5 .8 .5-1.2 .5 .6 .5-.1 .5 .5 .5 .3 .5-.8 .5 1.2 .5-1.4 .5 0 .5 .4 .5-.3 .5 .8 .5-2.3 .5 .3 .5-.3 .5 2.7 .5-.4 .5-1.2 .5 .9 .5-1.7 .5 1.1 .5 1.4 .5-.7 .5 1.1 .5-2 .5 1.3 .5-.8 .5 .1 .5-.1 .5 .4 .5 .4 .5-1 .5 .3 .5-.4 .5 .2 .5-.8 .5 1.3 .5-.3 .5-.4 .5-.5 .5-1.1 .3-.9 .2-1.1 .2-.6 .1 .2 .2-1.7 .1-2.5 .2-.8 .1 .6 .1-.9 .2-2.1 .1-.1 .2-2.8 .5 2.4 .2 .5 .1 3.7 .2 .2 .2 1.5 .1 1.3 .2 .3 .2 1.8 .3-.7 .5 2.3 .5-.2 .5 1.5 .5 .5 .5-.7 .5-1 .5 0 .5 1.4 .5-.8 .5 0 .5-.6 .5 1 .5 0 .5 .5 .5-1.4 .5 .7 .5-1 .5 1.2 .5-.2 .5-.2 .5 .9 .5-1.6 .5 2.1 .5-.9 .5 .1 .5-.2 .5-.7 .5 .1 .5 1.1 .5-.7 .5 .2 .5-.5 .5 .9 .5-.2 .5-1.4 .5 2.4 .5-.7 .5-.2 .5-.3 .5-.3 .5 .6 .5 1 .5-1.7 .5-.8 .5 .8 .5 .1 .5 .7 .5-1.7 .5 .6 .5 .1 .5 1 .5 .1 .5-.7 .5 .6 .5-.7 .5 0 .5-1.8 .5 1 .5-.2 .5 1.2 .5-.3 .5-.8 .5 .8 .5-.1 .5 .4 .5-.8 .5-.1 .5 1.5 .5-1.1 .5 .9 .5-1.4 .5 .5 .5-.1 .5-.5 .5 1.3 .5-1.6 .5 1.2 .5-1.8 .5 1.6 .5 0 .5 0 .5 0" stroke="#0014BE"/>
</g>
<g fill="#000">
<rect x="39.9" y="1103.5" width="1055.4" height="4.3"/>
<rect x="40.0" y="1103.5" width="4.8" height="25.8"/>
<rect x="70.3" y="1103.5" width="4.2" height="13.8"/>
<rect x="100.3" y="1103.5" width="4.2" height="13.8"/>
<rect x="130.4" y="1103.5" width="4.2" height="13.8"/>
<rect x="160.4" y="1103.5" width="4.2" height="13.8"/>
<rect x="190.1" y="1103.5" width="4.8" height="25.8"/>
<rect x="220.4" y="1103.5" width="4.2" height="13.8"/>
<rect x="250.4" y="1103.5" width="4.2" height="13.8"/>
<rect x="280.4" y="1103.5" width="4.2" height="13.8"/>
<rect x="310.5" y="1103.5" width="4.2" height="13.8"/>
<rect x="340.2" y="1103.5" width="4.8" height="25.8"/>
<rect x="370.5" y="1103.5" width="4.2" height="13.8"/>
<rect x="400.5" y="1103.5" width="4.2" height="13.8"/>
<rect x="430.5" y="1103.5" width="4.2" height="13.8"/>
<rect x="460.5" y="1103.5" width="4.2" height="13.8"/>
<rect x="490.3" y="1103.5" width="4.8" height="25.8"/>
<rect x="520.6" y="1103.5" width="4.2" height="13.8"/>
<rect x="550.6" y="1103.5" width="4.2" height="13.8"/>
<rect x="580.6" y="1103.5" width="4.2" height="13.8"/>
<rect x="610.6" y="1103.5" width="4.2" height="13.8"/>
<rect x="640.3" y="1103.5" width="4.8" height="25.8"/>
<rect x="670.7" y="1103.5" width="4.2" height="13.8"/>
<rect x="700.7" y="1103.5" width="4.2" height="13.8"/>
<rect x="730.7" y="1103.5" width="4.2" height="13.8"/>
<rect x="760.7" y="1103.5" width="4.2" height="13.8"/>
<rect x="790.4" y="1103.5" width="4.8" height="25.8"/>
<rect x="820.7" y="1103.5" width="4.2" height="13.8"/>
<rect x="850.8" y="1103.5" width="4.2" height="13.8"/>
<rect x="880.8" y="1103.5" width="4.2" height="13.8"/>
<rect x="910.8" y="1103.5" width="4.2" height="13.8"/>
<rect x="940.5" y="1103.5" width="4.8" height="25.8"/>
<rect x="970.8" y="1103.5" width="4.2" height="13.8"/>
<rect x="1000.8" y="1103.5" width="4.2" height="13.8"/>
<rect x="1030.9" y="1103.5" width="4.2" height="13.8"/>
<rect x="1060.9" y="1103.5" width="4.2" height="13.8"/>
<rect x="1090.6" y="1103.5" width="4.8" height="25.8"/>
</g>
<text transform="translate(42.4,1189)" font-size="55" text-anchor="middle">6.0</text>
<text transform="translate(192.5,1189)" font-size="55" text-anchor="middle">5.5</text>
<text transform="translate(342.6,1189)" font-size="55" text-anchor="middle">5.0</text>
<text transform="translate(492.7,1189)" font-size="55" text-anchor="middle">4.5</text>
<text transform="translate(642.7,1189)" font-size="55" text-anchor="middle">4.0</text>
<text transform="translate(792.8,1189)" font-size="55" text-anchor="middle">3.5</text>
<text transform="translate(942.9,1189)" font-size="55" text-anchor="middle">3.0</text>
<text transform="translate(1093.0,1189)" font-size="55" text-anchor="middle">2.5</text>
<text transform="translate(574.2,1257.6)" font-size="55" text-anchor="middle">Chemical shift (ppm)</text>
<text transform="translate(1127.4,287)" font-size="55" text-anchor="start">25°C</text>
<text transform="translate(1127.4,369.7)" font-size="55" text-anchor="start">40°C</text>
<text transform="translate(1128.3,449.1)" font-size="55" text-anchor="start">50°C</text>
<text transform="translate(1127.3,535.1)" font-size="55" text-anchor="start">60°C</text>
<text transform="translate(1127.3,617)" font-size="55" text-anchor="start">70°C</text>
<text transform="translate(1128.8,697.5)" font-size="55" text-anchor="start">80°C</text>
<text transform="translate(1101.7,778.7)" font-size="55" text-anchor="start">120°C</text>
<text transform="translate(1128.5,871)" font-size="55" text-anchor="start">80°C</text>
<text transform="translate(1127.4,962.8)" font-size="55" text-anchor="start">40°C</text>
<text transform="translate(1127.4,1059.3)" font-size="55" text-anchor="start">25°C</text>
<rect x="1271.9" y="275" width="3" height="763"/>
<path d="M1265.8 277.8 L1281 277.8 L1273.4 246.8 Z" fill="#000"/>
<rect x="761.4" y="96" width="1.2" height="100"/>
<path d="M756 192.5 L768 192.5 L762 216.5 Z" fill="#000"/>
<rect x="849.9" y="94.3" width="1.2" height="50"/>
<path d="M844.3 140 L856.8 140 L850.5 164.8 Z" fill="#000"/>
<path d="M572.6 219.7 Q572.6 213.1 579 213.1 L625 213.1 Q632 213.1 634 206.6 Q636 213.1 643 213.1 L688.5 213.1 Q694.9 213.1 694.9 219.7" fill="none" stroke="#000" stroke-width="3.3"/>
<path d="M928.6 225.5 Q928.6 222.1 933 222.1 L966 222.1 Q970.5 222.1 971.9 216.7 Q973.3 222.1 978 222.1 L1010 222.1 Q1014 222.1 1014 225.5" fill="none" stroke="#000" stroke-width="2.2"/>
<text transform="translate(37.2,105.4)" font-size="50" text-anchor="start">*</text>
<text transform="translate(238.6,191.7) scale(1,1.05)" font-size="54" text-anchor="start">H</text>
<text x="278.5" y="206.8" font-size="37.5">f</text>
<text transform="translate(612.4,177) scale(1,1.05)" font-size="54" text-anchor="start">H</text>
<text x="652.4" y="191.2" font-size="37.5">c</text>
<text transform="translate(653.8,65) scale(1,1.05)" font-size="54" text-anchor="start">H</text>
<text x="693.1" y="79.4" font-size="37.5">g,<tspan font-style="italic">endo</tspan></text>
<text transform="translate(836.4,71) scale(1,1.05)" font-size="54" text-anchor="start">H</text>
<text x="876.3" y="85.7" font-size="37.5">h,<tspan font-style="italic">endo</tspan></text>
<text transform="translate(880.5,175.3) scale(1,1.05)" font-size="54" text-anchor="start">H</text>
<text x="921.1" y="189.7" font-size="37.5">g,<tspan font-style="italic">exo</tspan>,</text>
<text transform="translate(1035.8,175.3) scale(1,1.05)" font-size="54" text-anchor="start">H</text>
<text x="1074.8" y="189.7" font-size="37.5">h,<tspan font-style="italic">exo</tspan></text>
</svg></body></html>
